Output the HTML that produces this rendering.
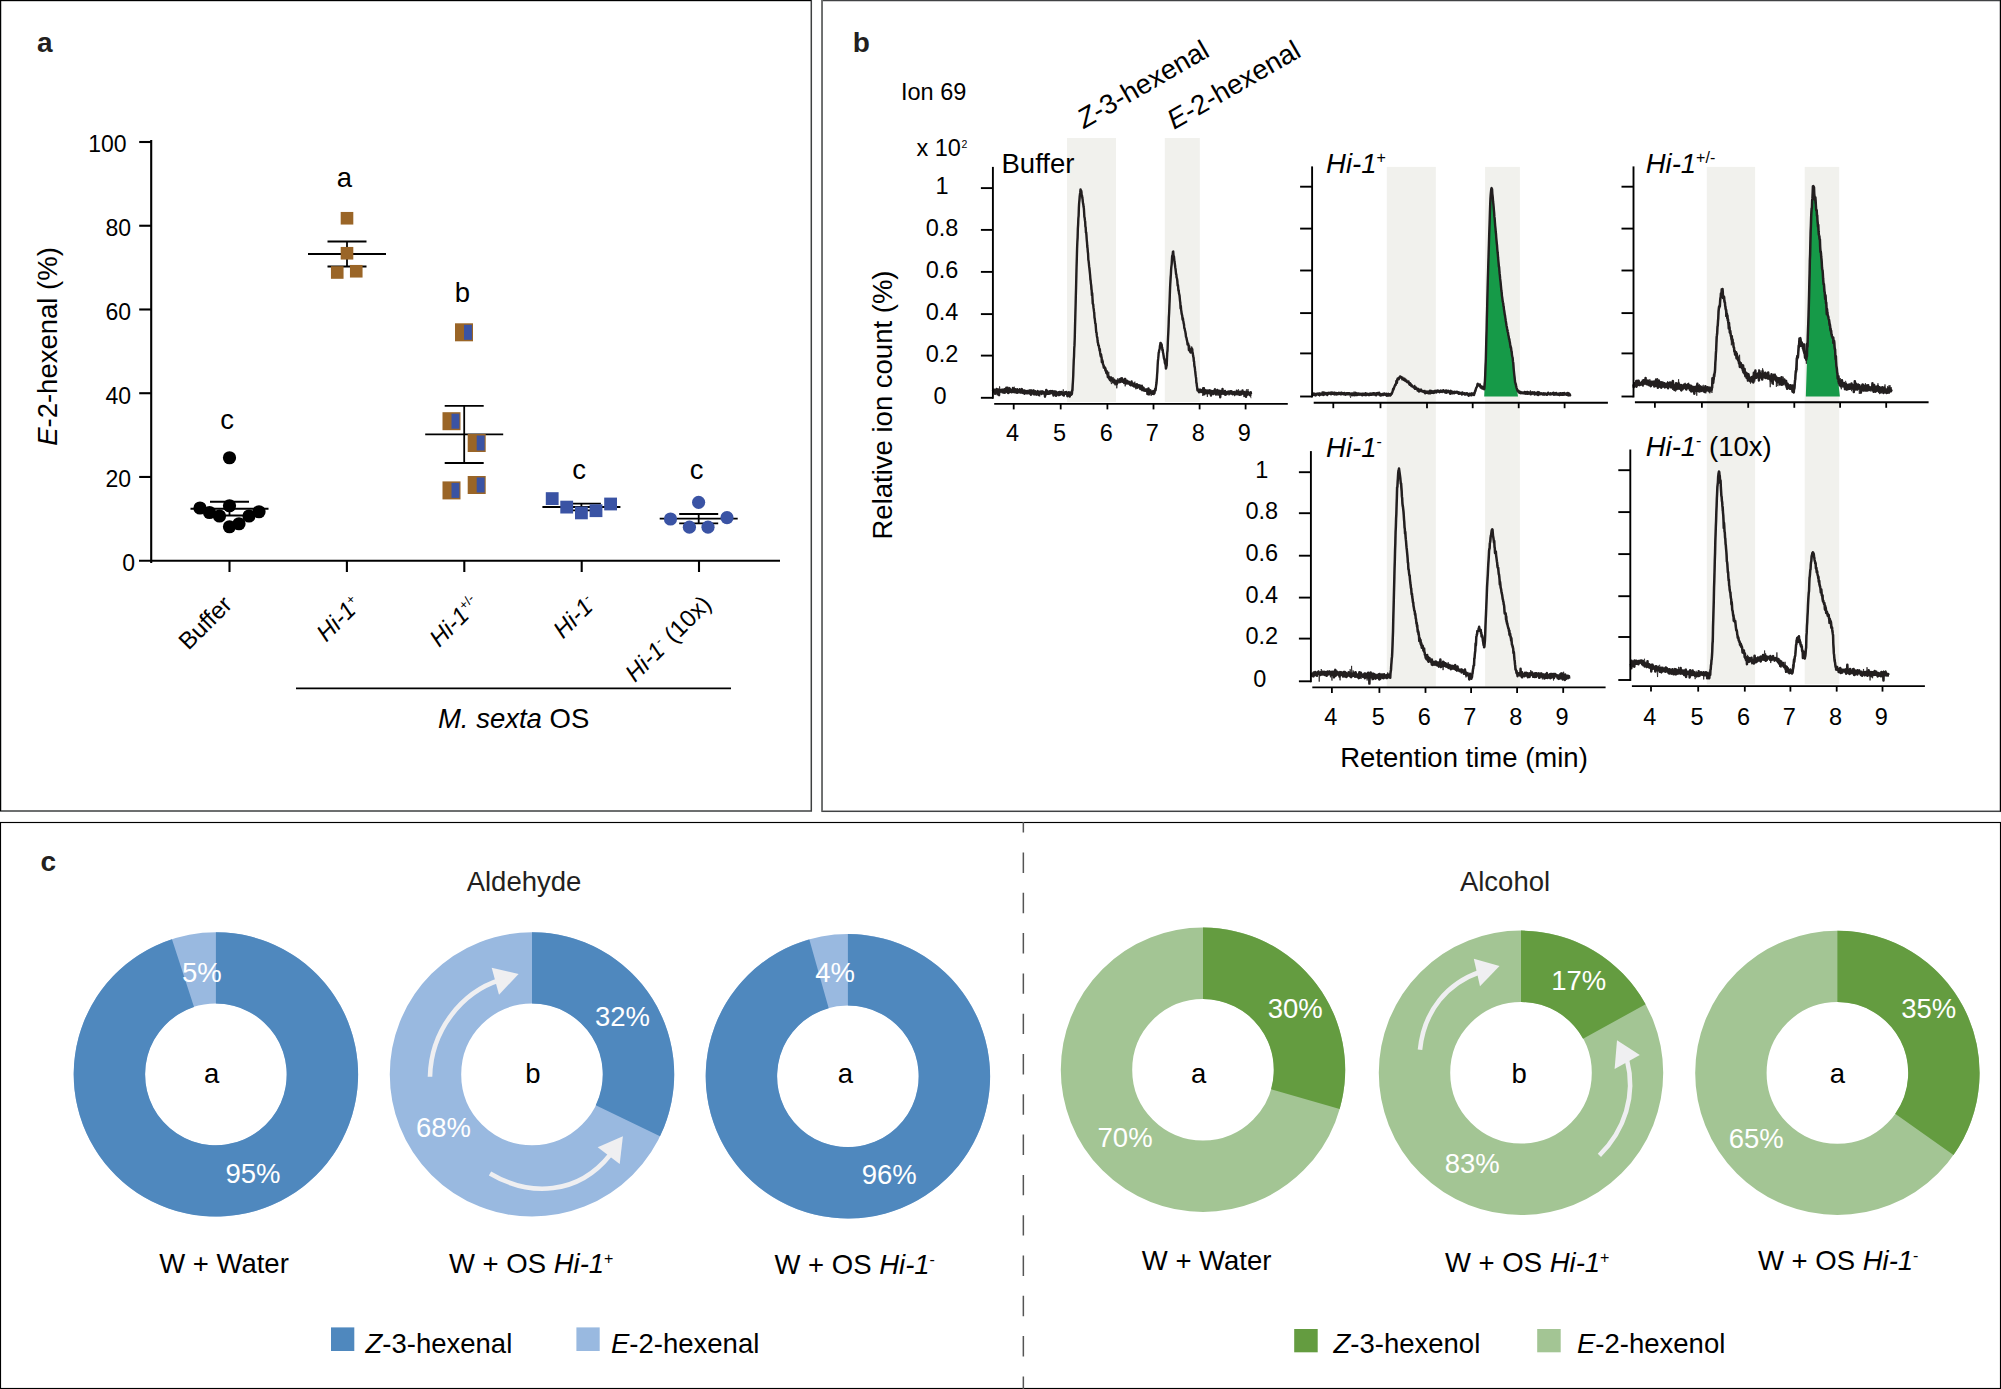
<!DOCTYPE html>
<html lang="en"><head><meta charset="utf-8"><title>Figure</title>
<style>html,body{margin:0;padding:0;background:#fff}svg{display:block}text{font-family:"Liberation Sans", sans-serif}</style>
</head><body>
<svg width="2001" height="1389" viewBox="0 0 2001 1389">
<rect x="0" y="0" width="2001" height="1389" fill="#fff"/>
<g fill="none" stroke-width="1.5">
<rect x="0.5" y="0.5" width="810.8" height="810.5" stroke="#3e4041"/>
<rect x="822.1" y="0.5" width="1178.4" height="810.8" stroke="#404244"/>
<path d="M822.1,0 V811.3" stroke="#6f7170" stroke-width="1.6"/>
<path d="M0.5,811 V0.5 H811" stroke="#000" stroke-width="1.1"/>
<path d="M2000.5,0 V811.5" stroke="#000" stroke-width="1.1"/>
<rect x="0.5" y="822.5" width="2000" height="566" stroke="#000" stroke-width="1.15"/>
</g>
<g id="panel-a">
<text x="36.9" y="52" font-size="28" fill="#231f20" font-weight="bold">a</text>
<line x1="151.2" y1="140" x2="151.2" y2="562.9" stroke="#000" stroke-width="2.1"/>
<line x1="139" y1="560.7" x2="780" y2="560.7" stroke="#000" stroke-width="2.1"/>
<line x1="139.2" y1="476.96" x2="151.2" y2="476.96" stroke="#000" stroke-width="2.1"/>
<line x1="139.2" y1="393.22" x2="151.2" y2="393.22" stroke="#000" stroke-width="2.1"/>
<line x1="139.2" y1="309.48" x2="151.2" y2="309.48" stroke="#000" stroke-width="2.1"/>
<line x1="139.2" y1="225.74" x2="151.2" y2="225.74" stroke="#000" stroke-width="2.1"/>
<line x1="139.2" y1="142" x2="151.2" y2="142" stroke="#000" stroke-width="2.1"/>
<text x="126.5" y="152.3" font-size="23" text-anchor="end">100</text>
<text x="131" y="236.04" font-size="23" text-anchor="end">80</text>
<text x="131" y="319.78" font-size="23" text-anchor="end">60</text>
<text x="131" y="403.52" font-size="23" text-anchor="end">40</text>
<text x="131" y="487.26" font-size="23" text-anchor="end">20</text>
<text x="135" y="571" font-size="23" text-anchor="end">0</text>
<line x1="229.5" y1="560.7" x2="229.5" y2="572" stroke="#000" stroke-width="2.1"/>
<line x1="346.9" y1="560.7" x2="346.9" y2="572" stroke="#000" stroke-width="2.1"/>
<line x1="464.3" y1="560.7" x2="464.3" y2="572" stroke="#000" stroke-width="2.1"/>
<line x1="581.7" y1="560.7" x2="581.7" y2="572" stroke="#000" stroke-width="2.1"/>
<line x1="699" y1="560.7" x2="699" y2="572" stroke="#000" stroke-width="2.1"/>
<text x="57.3" y="346.5" font-size="27.5" text-anchor="middle" transform="rotate(-90 57.3 346.5)"><tspan font-style="italic">E</tspan>-2-hexenal (%)</text>
<line x1="190.5" y1="508.75" x2="268.5" y2="508.75" stroke="#000" stroke-width="1.8"/>
<line x1="210" y1="501.75" x2="249" y2="501.75" stroke="#000" stroke-width="1.8"/>
<line x1="210" y1="515.5" x2="249" y2="515.5" stroke="#000" stroke-width="1.8"/>
<line x1="229.5" y1="501.75" x2="229.5" y2="515.5" stroke="#000" stroke-width="1.8"/>
<circle cx="229.5" cy="457.75" r="6.6" fill="#000"/>
<circle cx="200" cy="508" r="6.6" fill="#000"/>
<circle cx="209.5" cy="512.5" r="6.6" fill="#000"/>
<circle cx="219.5" cy="516" r="6.6" fill="#000"/>
<circle cx="229.5" cy="505.75" r="6.6" fill="#000"/>
<circle cx="229.5" cy="526.75" r="6.6" fill="#000"/>
<circle cx="239" cy="523.75" r="6.6" fill="#000"/>
<circle cx="249" cy="516" r="6.6" fill="#000"/>
<circle cx="259" cy="511.75" r="6.6" fill="#000"/>
<text x="227" y="429" font-size="27.5" text-anchor="middle">c</text>
<line x1="308" y1="254" x2="386" y2="254" stroke="#000" stroke-width="1.8"/>
<line x1="327.5" y1="241.5" x2="366.5" y2="241.5" stroke="#000" stroke-width="1.8"/>
<line x1="327.5" y1="266.5" x2="366.5" y2="266.5" stroke="#000" stroke-width="1.8"/>
<line x1="347" y1="241.5" x2="347" y2="266.5" stroke="#000" stroke-width="1.8"/>
<rect x="340.7" y="211.95" width="12.6" height="12.6" fill="#9a6527"/>
<rect x="340.7" y="246.95" width="12.6" height="12.6" fill="#9a6527"/>
<rect x="330.95" y="266.2" width="12.6" height="12.6" fill="#9a6527"/>
<rect x="349.95" y="264.95" width="12.6" height="12.6" fill="#9a6527"/>
<text x="344.5" y="187" font-size="27.5" text-anchor="middle">a</text>
<line x1="425.2" y1="434.4" x2="503.2" y2="434.4" stroke="#000" stroke-width="1.8"/>
<line x1="444.7" y1="405.8" x2="483.7" y2="405.8" stroke="#000" stroke-width="1.8"/>
<line x1="444.7" y1="463" x2="483.7" y2="463" stroke="#000" stroke-width="1.8"/>
<line x1="464.2" y1="405.8" x2="464.2" y2="463" stroke="#000" stroke-width="1.8"/>
<rect x="455" y="323.3" width="18" height="18" fill="#9a6527"/>
<rect x="464" y="324.8" width="7.9" height="15" fill="#3a53a4"/>
<rect x="442.5" y="412.2" width="18" height="18" fill="#9a6527"/>
<rect x="451.5" y="413.7" width="7.9" height="15" fill="#3a53a4"/>
<rect x="467.7" y="434" width="18" height="18" fill="#9a6527"/>
<rect x="476.7" y="435.5" width="7.9" height="15" fill="#3a53a4"/>
<rect x="442.5" y="481.4" width="18" height="18" fill="#9a6527"/>
<rect x="451.5" y="482.9" width="7.9" height="15" fill="#3a53a4"/>
<rect x="467.7" y="476" width="18" height="18" fill="#9a6527"/>
<rect x="476.7" y="477.5" width="7.9" height="15" fill="#3a53a4"/>
<text x="462.5" y="302.3" font-size="27.5" text-anchor="middle">b</text>
<line x1="542.4" y1="507" x2="620.4" y2="507" stroke="#000" stroke-width="1.8"/>
<line x1="561.9" y1="503.6" x2="600.9" y2="503.6" stroke="#000" stroke-width="1.8"/>
<line x1="561.9" y1="510.4" x2="600.9" y2="510.4" stroke="#000" stroke-width="1.8"/>
<line x1="581.4" y1="503.6" x2="581.4" y2="510.4" stroke="#000" stroke-width="1.8"/>
<rect x="545.8" y="492.2" width="12.8" height="12.8" fill="#3a53a4"/>
<rect x="560.3" y="500.7" width="12.8" height="12.8" fill="#3a53a4"/>
<rect x="575" y="506.5" width="12.8" height="12.8" fill="#3a53a4"/>
<rect x="589.6" y="504.3" width="12.8" height="12.8" fill="#3a53a4"/>
<rect x="604.2" y="497.6" width="12.8" height="12.8" fill="#3a53a4"/>
<text x="579" y="479" font-size="27.5" text-anchor="middle">c</text>
<line x1="659.7" y1="518.6" x2="737.7" y2="518.6" stroke="#000" stroke-width="1.8"/>
<line x1="679.2" y1="514" x2="718.2" y2="514" stroke="#000" stroke-width="1.8"/>
<line x1="679.2" y1="523.4" x2="718.2" y2="523.4" stroke="#000" stroke-width="1.8"/>
<line x1="698.7" y1="514" x2="698.7" y2="523.4" stroke="#000" stroke-width="1.8"/>
<circle cx="698.6" cy="502.3" r="6.6" fill="#3a53a4"/>
<circle cx="670.5" cy="519" r="6.6" fill="#3a53a4"/>
<circle cx="727" cy="517.7" r="6.6" fill="#3a53a4"/>
<circle cx="689.4" cy="527.2" r="6.6" fill="#3a53a4"/>
<circle cx="708" cy="527.2" r="6.6" fill="#3a53a4"/>
<text x="696.6" y="479" font-size="27.5" text-anchor="middle">c</text>
<text x="233.4" y="606.1" font-size="24" text-anchor="end" transform="rotate(-45 233.4 606.1)">Buffer</text>
<text x="362.7" y="606.3" font-size="24" text-anchor="end" transform="rotate(-45 362.7 606.3)"><tspan font-style="italic">Hi-1</tspan><tspan font-size="13" dy="-9">+</tspan></text>
<text x="481.4" y="605.9" font-size="24" text-anchor="end" transform="rotate(-45 481.4 605.9)"><tspan font-style="italic">Hi-1</tspan><tspan font-size="13" dy="-9">+/-</tspan></text>
<text x="597.2" y="605.2" font-size="24" text-anchor="end" transform="rotate(-45 597.2 605.2)"><tspan font-style="italic">Hi-1</tspan><tspan font-size="13" dy="-9">-</tspan></text>
<text x="712.6" y="605.5" font-size="24" text-anchor="end" transform="rotate(-45 712.6 605.5)"><tspan font-style="italic">Hi-1</tspan><tspan font-size="13" dy="-9">-</tspan><tspan font-size="24" dy="9"> (10x)</tspan></text>
<line x1="296" y1="688.3" x2="731" y2="688.3" stroke="#000" stroke-width="1.8"/>
<text x="513.6" y="727.5" font-size="27.5" text-anchor="middle"><tspan font-style="italic">M. sexta</tspan> OS</text>
</g>
<g id="panel-b">
<text x="852.8" y="52" font-size="28" fill="#231f20" font-weight="bold">b</text>
<text x="901" y="100" font-size="23.5">Ion 69</text>
<text x="916.5" y="155.5" font-size="23.5">x 10</text>
<text x="961.6" y="147.7" font-size="10.5">2</text>
<text x="891.8" y="405" font-size="27.5" text-anchor="middle" transform="rotate(-90 891.8 405)">Relative ion count (%)</text>
<text x="1464" y="767" font-size="27.5" text-anchor="middle">Retention time (min)</text>
<text x="1084" y="129" font-size="27.5" transform="rotate(-30 1084 129)"><tspan font-style="italic">Z</tspan>-3-hexenal</text>
<text x="1174" y="130" font-size="27.5" transform="rotate(-30 1174 130)"><tspan font-style="italic">E</tspan>-2-hexenal</text>
<g fill="#f1f1ed">
<rect x="1067" y="138" width="49" height="264"/>
<rect x="1164.8" y="138" width="35" height="264"/>
<rect x="1386.8" y="166.9" width="49" height="519.6"/>
<rect x="1485.1" y="166.9" width="34.8" height="519.6"/>
<rect x="1706.8" y="166.9" width="48.3" height="517.4"/>
<rect x="1804.7" y="166.9" width="34.5" height="517.4"/>
</g>
<polyline points="993,389.84 993.26,391.59 993.51,389.7 993.76,391.07 994.02,389.78 994.27,389.67 994.52,392.76 994.78,392.13 995.03,393.85 995.28,390.68 995.54,391.08 995.79,391.12 996.04,391.59 996.3,391.67 996.55,388.92 996.8,391.64 997.06,389.22 997.31,390.82 997.56,394.42 997.82,390.72 998.07,390.43 998.32,391.45 998.58,390.82 998.83,389.57 999.08,395.19 999.34,390.08 999.59,391.66 999.84,389.92 1000.1,391.95 1000.35,391.23 1000.6,391.36 1000.86,391.01 1001.11,391.08 1001.36,391.01 1001.62,390.63 1001.87,389.74 1002.12,391.03 1002.38,392.02 1002.63,391.19 1002.88,391.08 1003.14,392.24 1003.39,389.9 1003.65,390.51 1003.9,391.29 1004.15,392.87 1004.41,392.13 1004.66,390.29 1004.91,389.15 1005.17,391.33 1005.42,390.87 1005.67,389.25 1005.92,390.96 1006.17,388.14 1006.42,389.14 1006.67,391.86 1006.92,389.08 1007.17,390.03 1007.43,387.63 1007.68,391.36 1007.93,389.27 1008.18,393.05 1008.43,391.01 1008.68,390.27 1008.93,392.43 1009.18,391.2 1009.43,392 1009.68,388.45 1009.93,389.7 1010.18,391.93 1010.43,390.16 1010.68,390.19 1010.93,390.71 1011.18,390.08 1011.43,390.38 1011.68,392.25 1011.93,390.49 1012.18,391.12 1012.43,390.96 1012.68,388.88 1012.93,388.09 1013.18,389.04 1013.43,391.03 1013.68,392.09 1013.94,391.51 1014.19,390.77 1014.44,389.22 1014.69,389.96 1014.94,392.32 1015.19,389.32 1015.44,392 1015.69,390.29 1015.94,390.32 1016.19,392.48 1016.44,391.89 1016.69,391.01 1016.94,390.1 1017.19,389.25 1017.44,392 1017.69,392.72 1017.94,391.56 1018.19,390.9 1018.44,390.11 1018.69,391.35 1018.94,391.55 1019.19,391.61 1019.44,392.08 1019.69,389.29 1019.94,392.31 1020.2,391.88 1020.45,392.64 1020.7,392.35 1020.95,390.84 1021.2,392.45 1021.45,392.61 1021.7,391.01 1021.95,389.07 1022.2,390.87 1022.45,392 1022.7,390.86 1022.95,390.87 1023.2,393.01 1023.45,391.54 1023.7,392.08 1023.95,391.66 1024.2,390.36 1024.45,393.75 1024.7,391.72 1024.95,392.05 1025.2,392.23 1025.45,392.3 1025.7,390.96 1025.95,390.92 1026.2,391.82 1026.45,391.46 1026.71,393.4 1026.96,392.27 1027.21,392.07 1027.46,393.24 1027.71,390.87 1027.96,391.07 1028.21,392.7 1028.46,392.07 1028.71,393.18 1028.96,393.25 1029.21,391.36 1029.46,393.38 1029.71,393.55 1029.96,391.98 1030.21,392.05 1030.46,390.42 1030.71,392.97 1030.96,394.73 1031.21,390.55 1031.46,392 1031.71,393.09 1031.96,391.67 1032.21,390.69 1032.46,391.2 1032.71,392.64 1032.97,392.13 1033.22,391.52 1033.47,394.19 1033.72,390.77 1033.97,392.35 1034.22,393.75 1034.47,392.12 1034.72,392.8 1034.97,393.89 1035.22,391.72 1035.47,391.56 1035.72,392.19 1035.97,393.6 1036.22,393.17 1036.47,394.69 1036.72,391.97 1036.97,392.31 1037.22,392.44 1037.47,392.49 1037.72,391.06 1037.97,393.83 1038.22,392.53 1038.47,392.31 1038.72,395.1 1038.97,392.04 1039.23,393.53 1039.48,393.56 1039.73,391.78 1039.98,392.88 1040.23,393.26 1040.48,392.18 1040.73,393.03 1040.98,393.51 1041.23,391.84 1041.48,393.99 1041.73,393.74 1041.98,393.72 1042.23,391.65 1042.48,392.6 1042.73,392.19 1042.98,392.72 1043.23,391.97 1043.48,391.82 1043.73,393.36 1043.98,392.24 1044.23,393.66 1044.48,392.34 1044.73,393.68 1044.98,396.76 1045.23,393.03 1045.48,394.69 1045.74,393.5 1045.99,391.94 1046.24,389.93 1046.49,393.91 1046.74,391.96 1046.99,390.76 1047.24,391.13 1047.49,392.92 1047.74,393.15 1047.99,393.86 1048.24,391.76 1048.49,392.6 1048.74,393.33 1048.99,393.72 1049.24,393.49 1049.49,392.84 1049.74,391.24 1049.99,393.51 1050.24,391.92 1050.49,392.84 1050.74,392.45 1050.99,391.08 1051.24,393.04 1051.49,392 1051.74,392.94 1052,393.12 1052.25,392.53 1052.5,391.06 1052.75,392.11 1053,392.41 1053.25,393.05 1053.5,395.6 1053.75,393.64 1054,392.17 1054.25,392.57 1054.5,391.45 1054.75,393.16 1055,392.82 1055.25,394.27 1055.5,393.32 1055.75,393.56 1056,395.9 1056.25,392.51 1056.5,392.08 1056.75,394.87 1057,393.3 1057.25,393.55 1057.5,393.29 1057.75,393.28 1058,394.45 1058.25,392.99 1058.51,393.71 1058.76,392.12 1059.01,392.97 1059.26,394.95 1059.51,393.34 1059.76,391.88 1060.01,392.34 1060.26,394.08 1060.51,394.47 1060.76,393.14 1061.01,393.19 1061.26,391.98 1061.51,393.21 1061.76,392.67 1062.01,392.3 1062.26,393.43 1062.51,393.66 1062.76,394.52 1063.01,395.04 1063.26,393.5 1063.52,393.16 1063.77,395.65 1064.03,394.58 1064.29,394.32 1064.54,393.37 1064.8,393.3 1065.05,392.29 1065.31,393.08 1065.57,393.18 1065.82,393.62 1066.08,393.86 1066.33,391.98 1066.59,394.09 1066.85,392.51 1067.1,392.95 1067.36,396.23 1067.61,393.47 1067.87,395.27 1068.13,395.04 1068.38,392.96 1068.64,394.19 1068.89,392.21 1069.15,392.66 1069.41,393.53 1069.66,396.58 1069.92,393.89 1070.17,393.61 1070.43,393.15 1070.69,393.15 1070.94,394.93 1071.2,394.37 1071.45,392.63 1071.71,394.41 1071.97,393.44 1072.22,390.18 1072.48,390.39 1072.73,384.71 1072.99,380.47 1073.25,375.47 1073.5,367.06 1073.76,360.08 1074.01,356.59 1074.27,348.03 1074.52,345.39 1074.78,337.05 1075.04,326 1075.29,317.25 1075.55,307.58 1075.8,296.84 1076.06,287.85 1076.32,277.26 1076.57,266.43 1076.83,257.89 1077.08,248.63 1077.34,242.09 1077.6,237.61 1077.85,228.68 1078.11,224.89 1078.36,218.32 1078.62,215.97 1078.88,207.52 1079.13,203 1079.39,200.33 1079.68,196.5 1079.96,194.43 1080.25,192.24 1080.54,189.43 1080.8,191.93 1081.05,190.44 1081.31,190.96 1081.56,193.22 1081.82,195.02 1082.08,195.79 1082.33,197.84 1082.59,199.21 1082.84,202.12 1083.1,203.62 1083.36,204.64 1083.61,207.02 1083.87,208.39 1084.12,212.55 1084.38,216.98 1084.64,217.6 1084.89,220.23 1085.15,221.51 1085.41,226.69 1085.68,227.27 1085.94,232.71 1086.21,232.39 1086.48,235.51 1086.74,239.8 1087.01,242.35 1087.27,246.02 1087.54,248.09 1087.81,251.87 1088.07,253.47 1088.34,259.82 1088.6,260.93 1088.86,263.46 1089.11,266.15 1089.37,268.05 1089.63,270.65 1089.88,272.82 1090.14,275.42 1090.39,279.56 1090.65,280.73 1090.91,283.76 1091.16,284.97 1091.42,289.34 1091.67,290.47 1091.93,295.47 1092.19,293.1 1092.44,297.49 1092.7,303.4 1092.95,304.13 1093.21,304.36 1093.47,307.69 1093.72,309.09 1093.98,311.44 1094.23,312.81 1094.49,317.63 1094.75,318.61 1095,320.85 1095.26,323.26 1095.51,323.43 1095.77,326.31 1096.03,329.85 1096.28,332.59 1096.54,332.61 1096.79,335.4 1097.05,337.12 1097.31,337.51 1097.56,340.73 1097.82,342.79 1098.07,342.89 1098.32,345.25 1098.57,345.6 1098.82,345.55 1099.07,347.48 1099.32,348.49 1099.57,350.72 1099.82,349.14 1100.07,352.2 1100.32,353.72 1100.57,354.53 1100.82,356.54 1101.07,354.45 1101.32,356.65 1101.57,357.07 1101.82,362.25 1102.07,360.08 1102.32,360.18 1102.57,361.26 1102.82,362.57 1103.08,364.82 1103.33,364.75 1103.58,366.33 1103.83,367.66 1104.08,366.49 1104.33,367.75 1104.58,367.64 1104.83,367.87 1105.08,367.62 1105.33,370.49 1105.58,369.02 1105.83,371.14 1106.08,371.85 1106.33,372.95 1106.58,371.92 1106.83,373.25 1107.08,371.55 1107.33,373.97 1107.58,374.78 1107.83,377.16 1108.08,375.56 1108.33,377.31 1108.58,377 1108.83,378.28 1109.08,378.57 1109.34,378.97 1109.59,377.24 1109.85,379.93 1110.1,378.13 1110.36,380.14 1110.61,380.53 1110.87,378.86 1111.13,377.39 1111.38,379.05 1111.64,379.17 1111.89,378.31 1112.15,379.16 1112.41,379.29 1112.66,381.14 1112.92,381.9 1113.17,382.25 1113.43,379.79 1113.69,380.4 1113.94,381.46 1114.2,379.61 1114.45,380.54 1114.71,383.5 1114.97,381.7 1115.22,380.87 1115.48,382.29 1115.73,381.88 1115.99,381.31 1116.25,381.09 1116.5,380.8 1116.76,384.05 1117.01,382.17 1117.27,382.9 1117.53,381.04 1117.78,381.3 1118.04,380.62 1118.29,380.55 1118.55,381.09 1118.81,380.77 1119.06,380.13 1119.32,381.39 1119.57,381.2 1119.83,379.2 1120.09,382.11 1120.34,379.06 1120.6,378.65 1120.85,379.8 1121.11,378.53 1121.37,381.61 1121.62,380.2 1121.88,378.16 1122.13,380.44 1122.39,379.42 1122.64,381.14 1122.9,381.1 1123.16,381.87 1123.41,380.85 1123.67,380 1123.92,381.53 1124.18,383.04 1124.44,379.21 1124.69,379.09 1124.95,381.9 1125.2,378.9 1125.46,380.22 1125.72,382.28 1125.97,383.53 1126.23,381.57 1126.48,382.58 1126.74,383.36 1127,380.64 1127.25,381.36 1127.51,381.94 1127.76,381.77 1128.02,383.55 1128.28,381.72 1128.53,382.7 1128.79,383.26 1129.04,382.36 1129.3,382.25 1129.56,383.15 1129.81,383.61 1130.07,384.75 1130.32,383.87 1130.58,383.65 1130.84,385.41 1131.09,382.42 1131.35,382.97 1131.6,381.51 1131.86,384.23 1132.12,385.11 1132.37,384.63 1132.62,385.13 1132.87,383.37 1133.12,385.76 1133.37,384.82 1133.62,385.72 1133.87,384.63 1134.12,386.55 1134.37,383.84 1134.62,385.69 1134.88,384.57 1135.13,384.87 1135.38,386.27 1135.63,386.07 1135.88,385.45 1136.13,387.16 1136.38,386.19 1136.63,385.98 1136.88,384.2 1137.13,387.88 1137.38,384.81 1137.63,385.86 1137.88,386.77 1138.13,385.3 1138.38,386.17 1138.63,385.58 1138.88,387.02 1139.13,386.35 1139.38,385.34 1139.63,387.89 1139.88,387.42 1140.13,388.67 1140.38,387.21 1140.63,387.6 1140.88,385.7 1141.14,386.82 1141.39,389.18 1141.64,388.15 1141.89,387.94 1142.14,390.17 1142.39,387.05 1142.64,387.83 1142.89,389.08 1143.14,389.36 1143.39,387.73 1143.64,387.88 1143.89,390.64 1144.14,390.1 1144.4,390.03 1144.65,390.66 1144.9,390.4 1145.15,389.89 1145.41,389.9 1145.66,389.63 1145.91,390.42 1146.16,389.86 1146.42,390.82 1146.67,390.34 1146.92,389.53 1147.18,390.94 1147.43,394.06 1147.68,391.37 1147.93,390.81 1148.19,391.65 1148.44,388.45 1148.69,391.65 1148.95,394.45 1149.2,391.09 1149.45,391.15 1149.7,391.18 1149.96,392.57 1150.21,390.61 1150.46,390.17 1150.72,393.26 1150.97,392.27 1151.22,393.16 1151.47,392.66 1151.73,393.02 1151.98,392.07 1152.23,393.73 1152.49,393.21 1152.74,392.27 1152.99,392.57 1153.24,390.92 1153.5,393.53 1153.75,394.07 1154,392.98 1154.26,391.98 1154.51,393.22 1154.77,391.06 1155.02,390.63 1155.28,389.29 1155.54,390.37 1155.79,388.51 1156.05,385.98 1156.3,384.56 1156.56,382.76 1156.83,379.33 1157.1,374.64 1157.37,371.54 1157.63,365.64 1157.9,361.05 1158.17,358.93 1158.43,356.29 1158.68,352.62 1158.93,352.56 1159.19,350.12 1159.44,349.8 1159.69,348.79 1159.95,345.93 1160.2,345.04 1160.45,342.97 1160.71,343.01 1160.96,344.4 1161.21,343.96 1161.46,344.04 1161.71,344.86 1161.96,347.54 1162.21,347.67 1162.46,350.63 1162.72,349.69 1162.97,352.64 1163.22,353.22 1163.47,354.99 1163.74,356.72 1164.01,358.46 1164.29,358.68 1164.56,359.99 1164.83,362.71 1165.1,363.58 1165.38,363.55 1165.65,365.44 1165.92,368.55 1166.19,367.79 1166.46,366.25 1166.73,365.36 1167,357.68 1167.27,352.54 1167.54,350.74 1167.81,342.73 1168.08,336.64 1168.33,332.23 1168.59,326.21 1168.85,317.4 1169.1,313.49 1169.36,307.22 1169.61,300.45 1169.87,293.34 1170.12,286.87 1170.38,281.67 1170.64,277.13 1170.89,274.23 1171.15,268.8 1171.4,266.35 1171.66,264.33 1171.92,259.71 1172.17,255.77 1172.43,255.62 1172.68,254.61 1172.94,251.76 1173.2,251.45 1173.45,254.61 1173.71,256.18 1173.96,256.5 1174.22,259.21 1174.48,261.8 1174.73,263.29 1174.99,264.84 1175.25,267.43 1175.52,269.19 1175.79,271.51 1176.05,274.19 1176.32,274.22 1176.58,277.51 1176.85,277.98 1177.11,279.28 1177.38,281.12 1177.65,285.61 1177.91,284.9 1178.18,287.43 1178.44,290.81 1178.71,290.07 1178.98,293.36 1179.24,294.16 1179.51,295.4 1179.77,298.26 1180.04,301.11 1180.3,302.43 1180.57,308.46 1180.84,306.05 1181.1,309.58 1181.37,311.51 1181.63,313.66 1181.9,314.74 1182.15,315.12 1182.41,317.41 1182.67,319.68 1182.92,318.31 1183.18,320.2 1183.43,321.61 1183.69,323.67 1183.95,324.13 1184.2,326.94 1184.46,328.45 1184.71,328.71 1184.97,330.64 1185.23,331.27 1185.48,332.86 1185.74,334.56 1185.99,336.92 1186.25,337.28 1186.51,338.22 1186.77,339.86 1187.04,340.68 1187.3,342.07 1187.57,344.59 1187.84,343.93 1188.1,343.57 1188.37,344.82 1188.63,345.45 1188.9,350.13 1189.16,346.2 1189.43,349.69 1189.7,350.04 1189.96,351.57 1190.22,351.82 1190.47,350.46 1190.73,352.51 1190.99,351.18 1191.24,350.73 1191.5,350.98 1191.75,348.52 1192.01,351.29 1192.27,349.31 1192.52,353.01 1192.78,352.98 1193.03,355.32 1193.29,356.78 1193.55,357.9 1193.8,361.18 1194.06,361.25 1194.31,365.36 1194.57,366.98 1194.82,367.73 1195.08,370.44 1195.34,372.02 1195.59,374.79 1195.85,376.76 1196.1,378.18 1196.36,382.94 1196.62,383.14 1196.87,386.08 1197.13,387.39 1197.38,389.8 1197.64,390.67 1197.9,390.7 1198.15,389.37 1198.41,390.78 1198.66,389.94 1198.92,392.24 1199.18,391.33 1199.43,392.08 1199.68,390.54 1199.93,390.47 1200.18,389.58 1200.43,389.78 1200.68,389.91 1200.94,391.31 1201.19,390.93 1201.44,390.27 1201.69,390.82 1201.94,391.97 1202.19,391.18 1202.44,391.45 1202.69,390.27 1202.95,390.7 1203.2,388.15 1203.45,392.24 1203.7,391.31 1203.95,388.3 1204.2,393.96 1204.45,394.04 1204.7,392.52 1204.96,390.35 1205.21,392.1 1205.46,390.47 1205.71,392.94 1205.96,390.51 1206.21,390.49 1206.46,392.2 1206.72,391.54 1206.97,393.41 1207.22,392.17 1207.47,390.66 1207.72,393.08 1207.97,390.45 1208.22,392.15 1208.47,391.38 1208.73,392.99 1208.98,392.26 1209.23,392.56 1209.48,392.54 1209.73,390.33 1209.98,390.52 1210.23,392.55 1210.48,393.64 1210.74,392.71 1210.99,395.59 1211.24,391.7 1211.49,393.04 1211.74,390.9 1211.99,391.25 1212.24,391.87 1212.5,391.16 1212.75,393.74 1213,391.81 1213.25,394.05 1213.5,392.32 1213.75,391.97 1214,393.44 1214.25,390.58 1214.5,393.33 1214.75,389.79 1215,392.31 1215.25,392.56 1215.5,393.88 1215.75,391.95 1216,394.55 1216.25,393.46 1216.5,392.03 1216.75,392.09 1217,392.61 1217.25,389.94 1217.5,393.49 1217.75,392.12 1218,391.78 1218.25,393.18 1218.5,392.02 1218.75,393.45 1219,390.61 1219.25,394.45 1219.5,393.93 1219.75,391.32 1220,393.82 1220.25,397.32 1220.5,390.98 1220.75,391.57 1221,392.8 1221.25,391.89 1221.5,391.3 1221.75,393.73 1222,392.58 1222.25,391.48 1222.5,389 1222.75,391.35 1223,393.6 1223.25,392.94 1223.5,393.7 1223.75,392.66 1224,392.24 1224.25,391.41 1224.5,391.44 1224.75,392.49 1225,390.84 1225.25,394.9 1225.5,392.96 1225.75,393.76 1226,392.91 1226.25,394.25 1226.5,394.02 1226.75,393.79 1227,393.79 1227.25,391.88 1227.5,392.73 1227.75,392.49 1228,393 1228.25,391.68 1228.5,392.39 1228.75,393.21 1229,392.33 1229.25,391.59 1229.5,393.7 1229.75,392.73 1230,392.96 1230.25,392.71 1230.5,391.16 1230.75,393.42 1231,393 1231.25,391.59 1231.5,391.25 1231.75,393.68 1232,393.34 1232.25,392.34 1232.5,394.07 1232.75,394.3 1233,392.5 1233.25,392.24 1233.5,393.55 1233.75,392.2 1234,393.86 1234.25,391.91 1234.5,393.52 1234.75,394.27 1235,393.54 1235.25,393.12 1235.5,393.54 1235.75,392.26 1236,393.14 1236.25,394.19 1236.5,393.21 1236.75,390.75 1237,391.54 1237.25,392.46 1237.5,393.79 1237.75,392.6 1238,394.3 1238.25,393.58 1238.5,393.29 1238.75,393.47 1239,392.04 1239.25,392.79 1239.5,394.78 1239.75,393.65 1240,392.32 1240.25,393.56 1240.5,391.66 1240.75,394.67 1241,393.67 1241.26,393.07 1241.51,393.05 1241.76,393.13 1242.01,393.18 1242.26,391.9 1242.51,390.4 1242.76,393.49 1243.01,392.11 1243.26,392.16 1243.51,393.67 1243.76,393.25 1244.01,392.88 1244.26,392.61 1244.51,392.12 1244.76,392.32 1245.01,395.87 1245.26,393.61 1245.51,394.45 1245.76,394.95 1246.01,396.81 1246.26,392.39 1246.51,393.82 1246.76,391.7 1247.01,393.46 1247.26,394.83 1247.51,394.52 1247.76,393.71 1248.01,394.39 1248.26,392.31 1248.51,392.71 1248.76,394.01 1249.01,392.58 1249.26,394.43 1249.51,393.35 1249.76,393.35 1250.01,395.26 1250.26,395.38 1250.51,394.3 1250.76,392.11 1251.01,394.13" fill="none" stroke="#231f20" stroke-width="2.4" stroke-linejoin="round"/>
<polyline points="993,391.65 993.51,390.22 994.02,389.45 994.52,392.32 995.03,390.07 995.54,391.49 996.04,390.03 996.55,391.69 997.06,391.98 997.56,389.99 998.07,390.82 998.58,389.6 999.08,392.4 999.59,386.38 1000.1,389.55 1000.6,390.78 1001.11,391.08 1001.62,390.32 1002.12,393.35 1002.63,389.32 1003.14,388.56 1003.65,390.43 1004.15,389.21 1004.66,387.97 1005.17,392.05 1005.67,393.55 1006.17,386.63 1006.67,388.12 1007.17,389 1007.68,387.25 1008.18,388.56 1008.68,391.83 1009.18,386.93 1009.68,388.66 1010.18,392.85 1010.68,389.6 1011.18,390.46 1011.68,391.12 1012.18,391.12 1012.68,390.34 1013.18,389.25 1013.68,392.67 1014.19,386.7 1014.69,391.45 1015.19,391.84 1015.69,391.86 1016.19,393.03 1016.69,393.29 1017.19,392.17 1017.69,391.58 1018.19,391.66 1018.69,390.6 1019.19,390.81 1019.69,392.28 1020.2,390.29 1020.7,391.08 1021.2,390.2 1021.7,391.18 1022.2,389.65 1022.7,393.56 1023.2,389.84 1023.7,391.46 1024.2,392.07 1024.7,391.8 1025.2,394.07 1025.7,390.98 1026.2,390.18 1026.71,390.69 1027.21,391.42 1027.71,392.8 1028.21,393.63 1028.71,390.75 1029.21,389.25 1029.71,392.75 1030.21,392.08 1030.71,393 1031.21,391.78 1031.71,391.72 1032.21,392.49 1032.71,391.39 1033.22,391.12 1033.72,389.39 1034.22,393.68 1034.72,395.51 1035.22,390.03 1035.72,392.32 1036.22,393.77 1036.72,391.64 1037.22,393.13 1037.72,391.11 1038.22,391.16 1038.72,393.26 1039.23,393.19 1039.73,396.44 1040.23,392.57 1040.73,390.41 1041.23,390.46 1041.73,391.77 1042.23,390.25 1042.73,394.03 1043.23,392.82 1043.73,394.44 1044.23,392.06 1044.73,394.78 1045.23,394.43 1045.74,392.2 1046.24,395.23 1046.74,393.1 1047.24,393.08 1047.74,393.84 1048.24,394.9 1048.74,393.99 1049.24,394.03 1049.74,391.63 1050.24,393.9 1050.74,392.63 1051.24,392.41 1051.74,392.86 1052.25,392.88 1052.75,392.09 1053.25,395.06 1053.75,390.62 1054.25,394.74 1054.75,394.7 1055.25,392.85 1055.75,390.47 1056.25,391.68 1056.75,392.48 1057.25,393.42 1057.75,392.1 1058.25,396.27 1058.76,393.31 1059.26,394.55 1059.76,394.26 1060.26,393.48 1060.76,393.7 1061.26,394.41 1061.76,394.03 1062.26,394.08 1062.76,392.37 1063.26,389.39 1063.77,392.62 1064.29,394.45 1064.8,392.06 1065.31,391.79 1065.82,394.23 1066.33,393.38 1066.85,394.26 1067.36,393.92 1067.87,392.57 1068.38,396.14 1068.89,394.22 1069.41,394.24 1069.92,393.31 1070.43,396.45 1070.94,390.89 1071.45,392.96 1071.97,391.17 1072.48,383.53 1073.05,376.79 1073.63,365.37 1074.2,348.18 1074.78,333 1075.36,312.05 1075.93,288.93 1076.51,267 1077.08,252.25 1077.66,238.13 1078.24,222.4 1078.81,210.49 1079.39,204.09 1079.96,197.55 1080.54,191.39 1081.12,190.68 1081.69,193.21 1082.27,197.41 1082.84,201.99 1083.42,206.48 1084,210.3 1084.57,218.18 1085.15,221.96 1085.72,229.84 1086.3,234.96 1086.87,247.45 1087.45,247.35 1088.03,252.61 1088.6,262.81 1089.11,265.14 1089.63,267.64 1090.14,273.8 1090.65,278.67 1091.16,282.93 1091.67,286.31 1092.19,296.02 1092.7,299.41 1093.21,300.27 1093.72,309.9 1094.23,313.38 1094.75,319.13 1095.26,321.43 1095.77,324.52 1096.28,327.79 1096.79,334.57 1097.31,337.91 1097.82,341.71 1098.34,342.93 1098.86,347.22 1099.39,348.23 1099.91,354.43 1100.43,356.43 1100.96,355.1 1101.48,357.15 1102.01,357.67 1102.53,364.38 1103.05,361.59 1103.58,364.6 1104.1,364.95 1104.62,369.63 1105.15,368.74 1105.67,368.56 1106.19,372.41 1106.72,374.36 1107.24,373.46 1107.76,374.87 1108.29,374.41 1108.81,371.9 1109.34,379.12 1109.87,379.09 1110.4,377.96 1110.93,381.95 1111.46,384.08 1111.99,381.12 1112.52,379.42 1113.06,377.05 1113.59,379.87 1114.12,379.94 1114.65,382.34 1115.18,385.46 1115.71,382.93 1116.25,381.6 1116.78,388.3 1117.31,383.28 1117.84,378.21 1118.37,382.96 1118.9,383.53 1119.44,378.77 1119.97,380.36 1120.5,380.6 1121.03,381.17 1121.56,379.72 1122.09,382.08 1122.63,382.02 1123.16,382.94 1123.67,379.56 1124.18,381.37 1124.69,379.62 1125.2,386.35 1125.72,380.58 1126.23,381.33 1126.74,381.01 1127.25,381.93 1127.76,380.98 1128.28,381 1128.79,383.94 1129.3,380.84 1129.81,383.53 1130.32,383.46 1130.84,383.49 1131.35,382.27 1131.86,383.38 1132.37,384.64 1132.87,386.27 1133.37,385.15 1133.87,386.53 1134.37,383.15 1134.88,381.66 1135.38,387.61 1135.88,389.31 1136.38,385.98 1136.88,385.33 1137.38,386.88 1137.88,387.01 1138.38,385.38 1138.88,386.88 1139.38,387.37 1139.88,385.76 1140.38,390.12 1140.88,388.21 1141.39,388.19 1141.89,388.86 1142.39,384.8 1142.89,389.62 1143.39,388.21 1143.89,388.62 1144.41,389.03 1144.93,389.9 1145.44,391.81 1145.96,388.67 1146.48,389.61 1147,388.69 1147.52,391.3 1148.04,390.54 1148.55,387.99 1149.07,389.01 1149.59,392.51 1150.11,391.14 1150.63,390.6 1151.15,395.89 1151.66,392.18 1152.18,391.53 1152.7,390.86 1153.22,394.94 1153.74,392.33 1154.26,393.59 1154.83,387.91 1155.41,389.39 1155.98,384.97 1156.56,376.36 1157.1,374.2 1157.63,364.11 1158.17,362.66 1158.68,353.88 1159.19,352.41 1159.69,347.69 1160.2,344.65 1160.71,345.61 1161.26,345.31 1161.81,345.37 1162.36,349.82 1162.92,352.94 1163.47,353.85 1164.07,359.79 1164.67,361.1 1165.27,362.96 1165.87,368.33 1166.46,361.23 1167,355.55 1167.54,348.14 1168.08,335.27 1168.65,320.48 1169.23,307.34 1169.81,299.13 1170.38,285.97 1170.96,275.52 1171.53,265.47 1172.11,261.73 1172.68,258.51 1173.26,256.74 1173.84,257.83 1174.41,260.23 1174.99,264.97 1175.56,267.54 1176.14,272.33 1176.72,276.75 1177.29,282.93 1177.87,287.27 1178.44,289.72 1179.02,294.32 1179.6,295.54 1180.17,303.1 1180.75,307.5 1181.32,308.11 1181.9,314.35 1182.41,320.37 1182.92,317.63 1183.43,320.42 1183.95,324.48 1184.46,328.97 1184.97,328.89 1185.48,332.28 1185.99,332.93 1186.51,336.72 1187.08,339.63 1187.66,343.93 1188.23,345.13 1188.81,345.76 1189.39,350.43 1189.96,348.67 1190.54,349.66 1191.11,349.73 1191.69,346.43 1192.27,349.79 1192.84,354.44 1193.42,355.02 1193.99,357.34 1194.57,364.07 1195.14,372.27 1195.72,376.7 1196.3,379.62 1196.87,384.46 1197.45,387.26 1198.02,389.99 1198.6,391.23 1199.18,389.76 1199.69,391.75 1200.2,393.13 1200.71,392.05 1201.22,391.31 1201.74,392.28 1202.25,391.81 1202.76,395.95 1203.27,391.83 1203.78,395.44 1204.3,391.91 1204.81,390.8 1205.32,393.46 1205.83,392.6 1206.34,392.57 1206.85,391.56 1207.37,396.93 1207.88,392.52 1208.39,391.51 1208.9,393.04 1209.41,394.16 1209.93,391.89 1210.44,393.17 1210.95,390.96 1211.46,393.15 1211.97,392.18 1212.49,391.48 1213,390.45 1213.5,391.9 1214,389.94 1214.5,392.25 1215,387.99 1215.5,394.45 1216,391.69 1216.5,394.9 1217,390.77 1217.5,393.28 1218,395.83 1218.5,391.35 1219,392.92 1219.5,392.33 1220,393.93 1220.5,393.38 1221,390.8 1221.5,392.83 1222,393.35 1222.5,392.13 1223,394.53 1223.5,394.14 1224,392.52 1224.5,392.06 1225,393.59 1225.5,392.31 1226,394.86 1226.5,391.62 1227,392.35 1227.5,391.85 1228,394.15 1228.5,392.53 1229,395.44 1229.5,392.8 1230,392.52 1230.5,393.39 1231,391.52 1231.5,393.53 1232,392.39 1232.5,392.29 1233,393.14 1233.5,391.97 1234,393.72 1234.5,396.17 1235,393.7 1235.5,393.81 1236,392.53 1236.5,394.36 1237,394.52 1237.5,393.31 1238,393.11 1238.5,389.33 1239,391.52 1239.5,392.32 1240,395.04 1240.5,395.06 1241,391 1241.51,393.6 1242.01,395.06 1242.51,392.91 1243.01,391.15 1243.51,394.57 1244.01,397.08 1244.51,393.01 1245.01,394.29 1245.51,393.1 1246.01,390.78 1246.51,389.36 1247.01,391.31 1247.51,392.87 1248.01,388.99 1248.51,394.18 1249.01,392.15 1249.51,395.07 1250.01,392.67 1250.51,395.56 1251.01,398.23" fill="none" stroke="#231f20" stroke-width="0.8" stroke-linejoin="miter"/>
<line x1="992.9" y1="166.9" x2="992.9" y2="398.75" stroke="#000" stroke-width="1.9"/>
<line x1="980.9" y1="188.1" x2="992.9" y2="188.1" stroke="#000" stroke-width="1.9"/>
<line x1="980.9" y1="229.9" x2="992.9" y2="229.9" stroke="#000" stroke-width="1.9"/>
<line x1="980.9" y1="271.9" x2="992.9" y2="271.9" stroke="#000" stroke-width="1.9"/>
<line x1="980.9" y1="314.1" x2="992.9" y2="314.1" stroke="#000" stroke-width="1.9"/>
<line x1="980.9" y1="355.6" x2="992.9" y2="355.6" stroke="#000" stroke-width="1.9"/>
<line x1="980.9" y1="397.8" x2="992.9" y2="397.8" stroke="#000" stroke-width="1.9"/>
<line x1="994.2" y1="403.9" x2="1287.8" y2="403.9" stroke="#000" stroke-width="1.9"/>
<line x1="1013.7" y1="403.9" x2="1013.7" y2="409.4" stroke="#000" stroke-width="1.8"/>
<line x1="1060.7" y1="403.9" x2="1060.7" y2="409.4" stroke="#000" stroke-width="1.8"/>
<line x1="1107.4" y1="403.9" x2="1107.4" y2="409.4" stroke="#000" stroke-width="1.8"/>
<line x1="1153.5" y1="403.9" x2="1153.5" y2="409.4" stroke="#000" stroke-width="1.8"/>
<line x1="1199.6" y1="403.9" x2="1199.6" y2="409.4" stroke="#000" stroke-width="1.8"/>
<line x1="1245.6" y1="403.9" x2="1245.6" y2="409.4" stroke="#000" stroke-width="1.8"/>
<text x="1012.5" y="441" font-size="23.5" text-anchor="middle">4</text>
<text x="1059.5" y="441" font-size="23.5" text-anchor="middle">5</text>
<text x="1106.2" y="441" font-size="23.5" text-anchor="middle">6</text>
<text x="1152.3" y="441" font-size="23.5" text-anchor="middle">7</text>
<text x="1198.4" y="441" font-size="23.5" text-anchor="middle">8</text>
<text x="1244.4" y="441" font-size="23.5" text-anchor="middle">9</text>
<text x="942" y="194" font-size="23.5" text-anchor="middle">1</text>
<text x="942" y="235.8" font-size="23.5" text-anchor="middle">0.8</text>
<text x="942" y="277.8" font-size="23.5" text-anchor="middle">0.6</text>
<text x="942" y="320" font-size="23.5" text-anchor="middle">0.4</text>
<text x="942" y="361.5" font-size="23.5" text-anchor="middle">0.2</text>
<text x="940" y="403.7" font-size="23.5" text-anchor="middle">0</text>
<text x="1001.5" y="172.5" font-size="27.5">Buffer</text>
<path d="M1484.19,396.53 L1485.81,358.54 L1486.06,349.52 L1486.32,339.89 L1486.58,329.65 L1486.83,319.41 L1487.09,309.17 L1487.34,298.93 L1487.6,288.69 L1487.86,278.92 L1488.11,269.6 L1488.37,260.74 L1488.62,252.35 L1488.88,244.41 L1489.13,236.48 L1489.39,228.54 L1489.65,220.61 L1489.9,212.67 L1490.16,205.7 L1490.41,199.7 L1490.7,194.66 L1490.99,190.59 L1491.28,188.66 L1491.57,187.91 L1491.82,188.34 L1492.08,189.95 L1492.33,192.74 L1492.59,195.53 L1492.85,198.32 L1493.1,201.1 L1493.36,203.89 L1493.61,206.75 L1493.87,209.66 L1494.14,212.64 L1494.4,215.68 L1494.67,218.78 L1494.93,221.88 L1495.2,224.98 L1495.46,228.08 L1495.73,231.18 L1496,234.28 L1496.26,237.38 L1496.53,240.48 L1496.79,243.59 L1497.06,246.58 L1497.33,249.46 L1497.58,252.24 L1497.84,254.91 L1498.09,257.47 L1498.35,260.03 L1498.61,262.59 L1498.86,265.15 L1499.12,267.71 L1499.37,270.26 L1499.63,272.82 L1499.89,275.38 L1500.14,277.94 L1500.4,280.5 L1500.65,283.06 L1500.91,285.62 L1501.16,288.18 L1501.42,290.74 L1501.68,293.12 L1501.93,295.32 L1502.19,297.34 L1502.44,299.19 L1502.7,300.85 L1502.96,302.52 L1503.21,304.18 L1503.47,305.84 L1503.72,307.51 L1503.98,309.17 L1504.24,310.83 L1504.49,312.5 L1504.75,314.16 L1505,315.83 L1505.26,317.49 L1505.52,319.15 L1505.77,320.82 L1506.03,322.48 L1506.28,324.07 L1506.54,325.58 L1506.8,327.01 L1507.05,328.37 L1507.31,329.65 L1507.56,330.93 L1507.82,332.21 L1508.08,333.49 L1508.33,334.77 L1508.59,336.05 L1508.84,337.33 L1509.1,338.61 L1509.36,339.89 L1509.61,341.16 L1509.87,342.44 L1510.12,343.72 L1510.38,345 L1510.64,346.28 L1510.89,347.64 L1511.15,349.06 L1511.41,350.56 L1511.67,352.13 L1511.94,353.78 L1512.2,355.43 L1512.46,357.07 L1512.73,359 L1512.99,361.22 L1513.26,363.72 L1513.53,366.5 L1513.8,369.58 L1514.07,372.65 L1514.33,375.36 L1514.6,377.72 L1514.86,379.71 L1515.11,381.35 L1515.37,382.63 L1515.63,383.91 L1515.88,385.19 L1516.14,386.47 L1516.39,387.75 L1516.65,388.81 L1516.91,389.65 L1518.06,396.53 Z" fill="#169a48"/>
<polyline points="1312.35,393.42 1312.6,394.34 1312.85,394.74 1313.1,394.23 1313.35,393.91 1313.61,393.48 1313.86,394.53 1314.11,394.62 1314.36,395.09 1314.62,394.5 1314.87,393.84 1315.12,395.17 1315.37,395.24 1315.63,394.55 1315.88,395.42 1316.13,393.97 1316.38,394.38 1316.64,394.42 1316.89,393.99 1317.14,393.87 1317.39,393.56 1317.65,394.35 1317.9,393.91 1318.15,394.09 1318.4,394.79 1318.66,393.86 1318.91,393.67 1319.16,393.19 1319.41,393.52 1319.67,394.44 1319.92,394.94 1320.17,394.1 1320.42,394.01 1320.67,394.47 1320.93,394.45 1321.18,394.3 1321.43,394.3 1321.68,393.96 1321.94,394.43 1322.19,394.04 1322.44,392.46 1322.69,394.03 1322.95,394.43 1323.2,394.89 1323.45,393.77 1323.7,392.57 1323.96,393.84 1324.21,392.67 1324.46,394.49 1324.71,393.93 1324.97,393.61 1325.22,393.72 1325.47,394.1 1325.72,393.02 1325.98,392.93 1326.23,393.8 1326.48,393.93 1326.73,393.46 1326.99,393.42 1327.24,394.95 1327.49,393.53 1327.74,393.26 1327.99,393.27 1328.25,392.83 1328.5,393.24 1328.75,393.78 1329,392.86 1329.26,393.28 1329.51,393.6 1329.76,392.98 1330.01,393.72 1330.27,392.83 1330.52,393.38 1330.77,392.8 1331.02,394.31 1331.28,392.93 1331.53,392.53 1331.78,393.26 1332.03,393.17 1332.29,393.83 1332.54,392.7 1332.79,393.23 1333.04,393.25 1333.3,392.89 1333.55,393.03 1333.8,394.14 1334.05,393.06 1334.31,394.16 1334.56,394.42 1334.81,393.14 1335.06,393.02 1335.32,393.45 1335.57,393.36 1335.82,394.39 1336.07,393.03 1336.32,393.66 1336.57,393.55 1336.82,394.54 1337.07,393.67 1337.32,393.88 1337.57,393.36 1337.83,393.98 1338.08,393.48 1338.33,394.07 1338.58,393.03 1338.83,392.69 1339.08,393.21 1339.33,392.97 1339.58,392.92 1339.83,393.45 1340.08,393.57 1340.33,394.16 1340.58,393.63 1340.83,393.07 1341.08,392.65 1341.33,394.23 1341.58,394.08 1341.83,394.09 1342.08,393.67 1342.33,393 1342.58,393.12 1342.83,393.87 1343.08,393.7 1343.33,393.28 1343.58,394.26 1343.83,393.49 1344.08,394.34 1344.34,392.91 1344.59,393.54 1344.84,393.93 1345.09,394.27 1345.34,394.77 1345.59,394.02 1345.84,393.72 1346.09,393.6 1346.34,394.06 1346.59,394.21 1346.84,393.16 1347.09,393.16 1347.34,393.62 1347.59,393.97 1347.84,393.15 1348.09,393.42 1348.34,393.39 1348.59,393.71 1348.84,393.38 1349.09,394.34 1349.34,393.17 1349.59,393.34 1349.84,394.1 1350.09,394.02 1350.34,393.63 1350.6,394.24 1350.85,393.99 1351.1,394.54 1351.35,394.46 1351.6,394.81 1351.85,393.44 1352.1,394.12 1352.35,395.2 1352.6,393.99 1352.85,393.4 1353.1,394 1353.35,394.23 1353.6,394.94 1353.85,393.94 1354.1,393.65 1354.35,395.22 1354.6,394.44 1354.85,394.09 1355.1,394.49 1355.35,393.25 1355.6,395.16 1355.85,392.83 1356.1,393.62 1356.35,393.63 1356.6,393.56 1356.85,394.63 1357.11,395.01 1357.36,393.89 1357.61,394.88 1357.86,394.71 1358.11,393.48 1358.36,393.97 1358.61,394.02 1358.86,394.69 1359.11,393.61 1359.36,394.22 1359.61,394.36 1359.86,394.7 1360.11,394.66 1360.36,394.06 1360.61,393.71 1360.86,394.64 1361.11,394.12 1361.36,394.02 1361.61,395.06 1361.86,394.19 1362.11,394.03 1362.36,395.28 1362.61,393.74 1362.86,393.65 1363.11,394.84 1363.36,394.1 1363.61,393.75 1363.86,394.37 1364.11,394.31 1364.36,394.93 1364.61,393.87 1364.86,393.62 1365.11,394.22 1365.36,394.38 1365.61,393.16 1365.86,395.19 1366.11,394.57 1366.36,393.78 1366.61,394.12 1366.86,394.37 1367.11,394.17 1367.36,394.59 1367.61,393.82 1367.86,394.73 1368.11,394.53 1368.36,394.61 1368.61,394.91 1368.86,394.01 1369.11,395.09 1369.36,393.8 1369.61,394.25 1369.86,394.98 1370.11,394.04 1370.36,394.07 1370.61,393.51 1370.86,393.85 1371.11,393.96 1371.36,394.74 1371.61,393.61 1371.86,394.22 1372.11,393.66 1372.36,394.11 1372.61,394.42 1372.86,394.25 1373.11,393.12 1373.36,393.16 1373.61,394.61 1373.86,393.46 1374.11,393.84 1374.36,393.34 1374.61,394.28 1374.86,394.56 1375.11,394.64 1375.36,394.29 1375.61,395.01 1375.86,394.2 1376.11,395.32 1376.36,393.18 1376.61,394.11 1376.86,393.97 1377.11,394.36 1377.36,393.33 1377.61,394.38 1377.86,393.07 1378.11,393.99 1378.36,394 1378.61,393.94 1378.86,394.61 1379.11,392.77 1379.36,394.07 1379.61,394.7 1379.86,394.03 1380.11,393.85 1380.36,395.54 1380.61,394.46 1380.86,394.65 1381.11,394.65 1381.36,394.9 1381.61,395.34 1381.86,394.38 1382.11,394.32 1382.36,394.55 1382.61,394.06 1382.86,393.86 1383.11,394.62 1383.36,394.5 1383.61,395 1383.86,394.13 1384.11,394.54 1384.36,393.56 1384.61,394.09 1384.86,393.75 1385.11,394.11 1385.36,394.52 1385.61,394.76 1385.86,395.1 1386.11,394.15 1386.36,393.81 1386.61,394.85 1386.86,395.77 1387.11,394.24 1387.36,394.18 1387.61,394.1 1387.86,395.08 1388.11,394.35 1388.36,393.81 1388.61,395.54 1388.86,395.12 1389.11,394.15 1389.36,394.33 1389.61,394.7 1389.86,394.28 1390.11,394.46 1390.36,395.54 1390.61,394.68 1390.86,394.83 1391.11,394.04 1391.36,393.54 1391.62,393.91 1391.89,393.37 1392.16,392.52 1392.42,392.16 1392.69,391.06 1392.95,390.11 1393.22,388.59 1393.49,389.53 1393.75,388.69 1394.02,387.9 1394.28,387.16 1394.55,386.33 1394.81,385.9 1395.08,385.34 1395.35,384.49 1395.61,384.88 1395.88,383.79 1396.14,383.51 1396.41,380.83 1396.68,382.35 1396.94,382.87 1397.21,379.57 1397.47,379.65 1397.74,378.38 1398,378.93 1398.27,378.59 1398.53,378.43 1398.78,379.29 1399.04,378.34 1399.29,377.44 1399.55,377.48 1399.81,377.18 1400.06,376.46 1400.32,377.45 1400.57,376.96 1400.83,377.61 1401.09,377.62 1401.34,377.11 1401.6,377.54 1401.85,377.45 1402.11,378.47 1402.37,379.35 1402.62,377.78 1402.88,378.57 1403.13,379.06 1403.39,379.14 1403.65,379.78 1403.9,380.06 1404.16,379.63 1404.41,378.61 1404.67,380.44 1404.92,379.7 1405.18,380.15 1405.44,379.51 1405.69,381.12 1405.95,380.43 1406.2,380.8 1406.46,380.5 1406.72,381.5 1406.97,382.02 1407.23,382 1407.48,382.35 1407.74,381.9 1408,382.32 1408.25,382.13 1408.51,381.42 1408.76,382.75 1409.02,383.25 1409.28,384.18 1409.53,383.48 1409.79,384.89 1410.04,383.12 1410.3,383.83 1410.56,383.92 1410.81,384.1 1411.07,384.68 1411.32,385.94 1411.58,384.93 1411.84,385.54 1412.09,386.3 1412.35,386.14 1412.6,386.18 1412.86,386.55 1413.12,387 1413.37,386.68 1413.63,387.46 1413.88,387.26 1414.14,387.82 1414.4,386.4 1414.65,387.43 1414.91,388.83 1415.16,387.92 1415.42,388.02 1415.68,387.68 1415.93,387.52 1416.19,388.66 1416.44,388.58 1416.7,388.72 1416.95,389.4 1417.21,388.61 1417.47,389.68 1417.72,390.56 1417.98,390.01 1418.23,390.63 1418.49,389.04 1418.75,390.44 1419,391.49 1419.26,390.84 1419.51,390.15 1419.77,390.16 1420.03,390.67 1420.28,391.03 1420.54,390.09 1420.79,390.8 1421.05,390.89 1421.31,390.12 1421.56,390.42 1421.82,390.75 1422.07,391.47 1422.33,391.52 1422.59,391.11 1422.84,391.1 1423.1,391.06 1423.35,391.42 1423.61,391.87 1423.87,391.53 1424.12,391.68 1424.38,391.44 1424.63,390.93 1424.89,391.71 1425.15,393.24 1425.4,392 1425.66,391.47 1425.91,391.66 1426.17,392.11 1426.43,391.82 1426.68,392.67 1426.94,391.67 1427.19,391.86 1427.45,392.92 1427.71,392.96 1427.96,392.9 1428.22,391.59 1428.47,393.28 1428.72,392.61 1428.97,391.68 1429.22,393.16 1429.47,393.22 1429.72,392.07 1429.97,390.79 1430.22,392.46 1430.47,393.26 1430.72,392.02 1430.97,392.09 1431.22,390.97 1431.47,391.49 1431.72,391.77 1431.97,391.38 1432.22,392.74 1432.47,391.49 1432.72,392.43 1432.97,391.35 1433.22,391.64 1433.48,392.94 1433.73,392.52 1433.98,392.72 1434.23,391.75 1434.48,390.93 1434.73,390.89 1434.98,391.24 1435.23,392.08 1435.48,392.01 1435.73,391.53 1435.98,390.78 1436.23,391.15 1436.48,392.41 1436.73,391.31 1436.98,390.83 1437.23,390.89 1437.48,391.43 1437.73,390.77 1437.98,390.81 1438.23,390.85 1438.48,390.7 1438.73,391.68 1438.98,391.69 1439.23,391.83 1439.48,392.27 1439.74,391.64 1439.99,391.42 1440.24,390.96 1440.49,390.64 1440.74,391.21 1440.99,391.82 1441.25,391.56 1441.5,391.08 1441.75,390.88 1442,391.54 1442.25,391.3 1442.51,391.53 1442.76,391 1443.01,391.21 1443.26,390.25 1443.51,391.08 1443.77,390.71 1444.02,391.79 1444.27,391.55 1444.52,392.17 1444.77,392.11 1445.03,390.89 1445.28,390.7 1445.53,391.15 1445.78,391.69 1446.03,390.44 1446.29,392.8 1446.54,392.19 1446.79,392.27 1447.04,392.08 1447.29,391.62 1447.55,391.56 1447.8,392.22 1448.05,390.73 1448.3,391.87 1448.55,391.62 1448.81,391.27 1449.06,392.25 1449.31,391.48 1449.56,391.93 1449.81,391.56 1450.07,393.49 1450.32,390.84 1450.57,392.4 1450.82,390.97 1451.07,393.17 1451.33,391.45 1451.58,391.47 1451.83,393.38 1452.08,392.15 1452.33,391.65 1452.58,393.27 1452.84,392.23 1453.09,392.3 1453.34,391.97 1453.59,392.32 1453.84,391.97 1454.1,393.27 1454.35,392.58 1454.6,392.48 1454.85,391.81 1455.1,392.15 1455.36,392.14 1455.61,392.57 1455.86,391.94 1456.11,391.93 1456.36,392.37 1456.61,392.6 1456.87,391.69 1457.12,392.79 1457.37,392.64 1457.62,392.19 1457.87,392.82 1458.12,392.86 1458.37,392.29 1458.62,393.78 1458.88,392.8 1459.13,393.83 1459.38,393.01 1459.63,393.34 1459.88,392.91 1460.13,393.53 1460.38,393.36 1460.64,393.08 1460.89,393.34 1461.14,393.12 1461.39,393.83 1461.64,393.32 1461.89,394.49 1462.14,393.91 1462.39,392.46 1462.65,393.84 1462.9,393.53 1463.15,393.25 1463.4,393.41 1463.65,393.49 1463.9,394.13 1464.15,393.87 1464.4,393.86 1464.66,393.37 1464.91,393.92 1465.16,393.71 1465.41,394.57 1465.66,393.79 1465.91,393.55 1466.16,393.25 1466.42,394.35 1466.67,393.84 1466.92,393.6 1467.17,393.18 1467.42,394.64 1467.67,394.61 1467.92,393.93 1468.17,394.83 1468.43,394.45 1468.68,395.82 1468.93,395.49 1469.18,393.86 1469.43,394.75 1469.68,393.67 1469.94,394.97 1470.19,395 1470.45,394.04 1470.71,394.6 1470.96,393.62 1471.22,394.56 1471.47,395.3 1471.73,394.44 1471.99,394.66 1472.24,394.62 1472.5,393.95 1472.75,393.96 1473.01,393.43 1473.27,394.36 1473.52,394.66 1473.78,393.99 1474.03,395 1474.29,393.68 1474.55,393.58 1474.82,392.2 1475.08,390.91 1475.34,391.22 1475.61,390.17 1475.87,388.89 1476.13,388.38 1476.4,387.63 1476.67,387.21 1476.94,386.64 1477.21,385.93 1477.48,384.18 1477.74,383.81 1478.01,384.43 1478.28,384.84 1478.54,384.73 1478.81,384.67 1479.07,385.13 1479.34,385.2 1479.61,385.98 1479.87,384.48 1480.14,385.95 1480.4,386.31 1480.67,387.46 1480.93,386.11 1481.2,386.85 1481.47,386.51 1481.73,386.53 1482,387.35 1482.26,388.46 1482.53,387.04 1482.79,388.53 1483.06,388.24 1483.33,387.89 1483.59,387.86 1483.86,388.77 1484.12,389.3 1484.39,388.67 1484.66,384.94 1484.94,380.51 1485.23,374.86 1485.52,366.4 1485.81,359.47 1486.06,349.47 1486.32,339.02 1486.58,329.97 1486.83,318.82 1487.09,309.98 1487.34,298.75 1487.6,288.06 1487.86,278.5 1488.11,270.42 1488.37,261.51 1488.62,252.69 1488.88,244.77 1489.13,236.24 1489.39,228.89 1489.65,220.9 1489.9,212.67 1490.16,205.39 1490.41,198.81 1490.7,194.52 1490.99,191.62 1491.28,188.87 1491.57,188.07 1491.82,189.09 1492.08,189.12 1492.33,193.54 1492.59,195.64 1492.85,198.35 1493.1,201.76 1493.36,203.58 1493.61,206.48 1493.87,209.56 1494.14,212.59 1494.4,216.64 1494.67,218.68 1494.93,222.42 1495.2,225.8 1495.46,228.04 1495.73,232.03 1496,233.75 1496.26,237.58 1496.53,240.55 1496.79,243.32 1497.06,245.74 1497.33,249.6 1497.58,252.26 1497.84,254.47 1498.09,257.73 1498.35,260.26 1498.61,263.38 1498.86,266.64 1499.12,266.91 1499.37,270.53 1499.63,273.65 1499.89,275.56 1500.14,278.63 1500.4,280.66 1500.65,282.8 1500.91,285.63 1501.16,288.39 1501.42,291.12 1501.68,292.19 1501.93,295.86 1502.19,297.12 1502.44,299.13 1502.7,301.29 1502.96,302.37 1503.21,303.09 1503.47,306.12 1503.72,306.61 1503.98,309.67 1504.24,310.61 1504.49,312.49 1504.75,314.74 1505,315.28 1505.26,317.3 1505.52,319.09 1505.77,320.95 1506.03,322.33 1506.28,323.93 1506.54,325.7 1506.8,326.97 1507.05,328.26 1507.31,329.44 1507.56,331.09 1507.82,332.11 1508.08,332.95 1508.33,335.4 1508.59,335.85 1508.84,337.66 1509.1,339.32 1509.36,339.05 1509.61,341.42 1509.87,342.14 1510.12,344.23 1510.38,345.08 1510.64,347.56 1510.89,347.09 1511.15,348.42 1511.41,351.19 1511.67,351.43 1511.94,354.58 1512.2,356.29 1512.46,356.78 1512.73,358.51 1512.99,361.72 1513.26,362.84 1513.53,366.28 1513.8,370 1514.07,372.95 1514.33,375.19 1514.6,377.69 1514.86,379.86 1515.11,382.26 1515.37,382.91 1515.63,384.35 1515.88,384.28 1516.14,386.3 1516.39,387.24 1516.65,388.1 1516.91,388.97 1517.17,389.53 1517.44,390.38 1517.7,391 1517.97,391.33 1518.24,390.56 1518.5,391.95 1518.77,391.06 1519.03,391.81 1519.3,392.65 1519.56,392.29 1519.83,391.98 1520.1,392.84 1520.36,393.07 1520.61,391.96 1520.86,393.32 1521.11,392.68 1521.36,393.09 1521.61,393.16 1521.86,393.12 1522.11,392.43 1522.36,392.9 1522.62,392.94 1522.87,393.05 1523.12,393.32 1523.37,392.62 1523.62,392.86 1523.87,393.2 1524.12,392.25 1524.37,393.23 1524.62,392.01 1524.87,393.6 1525.12,393.01 1525.37,392.48 1525.62,392.34 1525.87,393.83 1526.12,393.67 1526.37,393.54 1526.62,392.77 1526.87,393.2 1527.12,391.89 1527.37,392.94 1527.62,393.88 1527.87,393.57 1528.12,392.06 1528.37,392.59 1528.62,393.62 1528.88,392.87 1529.13,393.54 1529.38,392.73 1529.63,392.42 1529.88,393.02 1530.13,392.99 1530.38,392.76 1530.63,394.21 1530.88,393.71 1531.13,393.57 1531.38,392.56 1531.63,393.99 1531.88,392.69 1532.13,393.68 1532.38,393.11 1532.63,392.96 1532.88,392.27 1533.13,392.59 1533.38,392.79 1533.63,393.48 1533.88,393.44 1534.13,392.9 1534.38,392.31 1534.63,394.62 1534.88,392.66 1535.13,393.21 1535.39,393.95 1535.64,393.99 1535.89,392.89 1536.14,393.84 1536.39,393.53 1536.64,393.18 1536.89,393.67 1537.14,394.42 1537.39,392.4 1537.64,392.35 1537.89,392.14 1538.14,395.07 1538.39,393.47 1538.64,393.63 1538.89,393.65 1539.14,392.5 1539.39,394.31 1539.64,394.17 1539.89,393.81 1540.14,394.22 1540.39,393.5 1540.64,393.56 1540.89,393.27 1541.14,393.3 1541.39,394.09 1541.65,393.37 1541.9,393.72 1542.15,393.64 1542.4,394.03 1542.65,394.57 1542.9,393.76 1543.15,393.92 1543.4,393.33 1543.65,393.76 1543.9,393.8 1544.15,394.62 1544.4,393.36 1544.66,393.49 1544.91,393.46 1545.16,394.25 1545.41,393.59 1545.66,393.86 1545.91,393.97 1546.17,393.87 1546.42,394.62 1546.67,394.41 1546.92,394.84 1547.17,393.92 1547.42,393.45 1547.68,392.92 1547.93,393.99 1548.18,392.78 1548.43,393.83 1548.68,393.66 1548.94,393.77 1549.19,394.05 1549.44,394.25 1549.69,394.28 1549.94,394 1550.19,394.4 1550.45,393.42 1550.7,393.18 1550.95,393.39 1551.2,394.32 1551.45,394.1 1551.7,394.02 1551.96,393.74 1552.21,393.53 1552.46,394.05 1552.71,394.05 1552.96,392.91 1553.21,394.29 1553.47,393.13 1553.72,392.89 1553.97,394.77 1554.22,393.72 1554.47,394.07 1554.72,393.75 1554.98,393.59 1555.23,393.21 1555.48,394.54 1555.73,394.16 1555.98,394.35 1556.23,392.86 1556.49,393.96 1556.74,394.23 1556.99,393.6 1557.24,394.68 1557.49,393.99 1557.74,394.48 1558,394.22 1558.25,394.3 1558.5,394.7 1558.75,394.18 1559,393.53 1559.25,393.91 1559.51,393.38 1559.76,393.82 1560.01,394.42 1560.26,394.75 1560.51,393.09 1560.76,393.24 1561.02,393.22 1561.27,394.53 1561.52,394.38 1561.77,393.91 1562.02,394.85 1562.27,393.97 1562.53,393.22 1562.78,394.2 1563.03,394.31 1563.28,394.73 1563.53,393.19 1563.78,393.75 1564.04,394.5 1564.29,392.96 1564.54,393.71 1564.79,394.47 1565.04,394.43 1565.29,393.81 1565.55,394.13 1565.8,393.8 1566.05,393.63 1566.3,394.59 1566.55,394.74 1566.81,393.5 1567.06,393.3 1567.31,394.17 1567.56,394.84 1567.81,393.01 1568.06,394.58 1568.32,395.44 1568.57,395.17 1568.82,393.86 1569.07,393.43 1569.32,394.45 1569.57,394.35 1569.83,394.54 1570.08,395.3 1570.33,394.65 1570.58,394.58" fill="none" stroke="#231f20" stroke-width="2.4" stroke-linejoin="round"/>
<polyline points="1312.35,393.18 1312.85,394.32 1313.35,395.14 1313.86,393.49 1314.36,393.48 1314.87,394.32 1315.37,393.47 1315.88,394.22 1316.38,394.44 1316.89,393.85 1317.39,393.08 1317.9,393.67 1318.4,393.64 1318.91,394.92 1319.41,396.42 1319.92,393.27 1320.42,392.95 1320.93,393.21 1321.43,393.43 1321.94,393.25 1322.44,393.46 1322.95,393.69 1323.45,393.91 1323.96,394.31 1324.46,394.09 1324.97,394.34 1325.47,394.77 1325.98,394.18 1326.48,393.36 1326.99,393.56 1327.49,392.68 1327.99,393.58 1328.5,393.25 1329,392.6 1329.51,393.07 1330.01,393.94 1330.52,393.72 1331.02,393.27 1331.53,393.48 1332.03,392.72 1332.54,392.44 1333.04,392.73 1333.55,393.25 1334.05,393.55 1334.56,391.64 1335.06,394.01 1335.57,394.55 1336.07,392.85 1336.57,394.25 1337.07,392.06 1337.57,394.08 1338.08,392.64 1338.58,392.87 1339.08,392.03 1339.58,393.43 1340.08,392.71 1340.58,392.73 1341.08,393.33 1341.58,393.84 1342.08,393.07 1342.58,392.17 1343.08,393.63 1343.58,392.85 1344.08,394.08 1344.59,393.87 1345.09,393.76 1345.59,393.58 1346.09,392.1 1346.59,393.57 1347.09,393.04 1347.59,395.22 1348.09,394.6 1348.59,393.31 1349.09,393.08 1349.59,393.97 1350.09,396.21 1350.6,397.7 1351.1,395.19 1351.6,393.31 1352.1,393.93 1352.6,394.06 1353.1,393.66 1353.6,394.86 1354.1,391.5 1354.6,394.44 1355.1,394.26 1355.6,394.99 1356.1,393.9 1356.6,393.88 1357.11,392.72 1357.61,395.58 1358.11,394.29 1358.61,394.43 1359.11,394.88 1359.61,393.04 1360.12,393.49 1360.62,393.85 1361.12,394.67 1361.63,395.36 1362.13,394.44 1362.64,394.35 1363.14,393.8 1363.64,394.05 1364.15,394.57 1364.65,393.46 1365.16,394.7 1365.66,393.51 1366.16,393.65 1366.67,394.61 1367.17,394.47 1367.68,395.08 1368.18,393.91 1368.68,393.98 1369.19,394.71 1369.69,394.42 1370.19,394.48 1370.7,394.21 1371.2,393.95 1371.71,393.01 1372.21,395.28 1372.71,394.52 1373.22,394.37 1373.72,394.84 1374.23,393.89 1374.73,394.46 1375.23,393.39 1375.74,393.95 1376.24,393.8 1376.75,394.41 1377.25,394.45 1377.75,394.44 1378.26,392.92 1378.76,393.43 1379.27,393.58 1379.77,394.28 1380.27,394.62 1380.78,394.73 1381.28,393.41 1381.78,393.29 1382.29,394.58 1382.79,395.11 1383.3,394.34 1383.8,394.45 1384.3,395.21 1384.81,394.64 1385.31,394.98 1385.82,395.54 1386.32,393.98 1386.82,394.6 1387.33,393.55 1387.83,394.05 1388.34,394.58 1388.84,393.45 1389.34,394.3 1389.85,394.26 1390.35,395.13 1390.86,395.5 1391.36,392.7 1391.94,392.73 1392.51,391.46 1393.09,389.96 1393.66,388.07 1394.24,386.44 1394.81,385.81 1395.39,384.95 1395.97,381.72 1396.54,382.46 1397.12,380.55 1397.69,379.29 1398.27,378.67 1398.85,379.08 1399.42,377.09 1400,377.87 1400.57,377.33 1401.09,376.6 1401.6,377.77 1402.11,377.31 1402.62,377.62 1403.13,378.29 1403.65,380.66 1404.16,379.28 1404.67,380.2 1405.18,380.47 1405.71,380.86 1406.24,380.17 1406.78,381.52 1407.31,381.95 1407.84,381.71 1408.37,381.52 1408.9,383.04 1409.43,383.55 1409.97,384.54 1410.5,385.16 1411.03,384.09 1411.56,384.77 1412.09,385.56 1412.62,386.17 1413.15,386.96 1413.69,386.51 1414.22,386.23 1414.75,384.85 1415.28,388.67 1415.81,388.43 1416.34,388.15 1416.88,388.64 1417.41,389.43 1417.94,391.07 1418.47,389.72 1419,390.54 1419.51,390.32 1420.03,390.99 1420.54,389.73 1421.05,388.35 1421.56,390.59 1422.07,390.35 1422.59,391.63 1423.1,391.42 1423.61,391.8 1424.12,391.24 1424.63,392.58 1425.15,391.53 1425.66,393.61 1426.17,391.8 1426.68,391.79 1427.19,391.98 1427.71,392.95 1428.22,393.66 1428.72,391.43 1429.22,391.92 1429.72,391.72 1430.22,392.31 1430.72,391.9 1431.22,393.2 1431.72,392.11 1432.22,392.93 1432.72,392.1 1433.22,391.13 1433.73,392.36 1434.23,391.13 1434.73,391.11 1435.23,393.2 1435.73,391.59 1436.23,390.86 1436.73,391.75 1437.23,390.6 1437.73,389.66 1438.23,391.01 1438.73,391.21 1439.23,391.54 1439.74,390.62 1440.24,391.5 1440.74,391.44 1441.25,392.34 1441.75,391.14 1442.25,393.11 1442.76,391.07 1443.26,390.93 1443.77,391.27 1444.27,391.45 1444.77,392.36 1445.28,393.43 1445.78,390.67 1446.29,392.25 1446.79,392.1 1447.29,392.98 1447.8,392.32 1448.3,391.19 1448.81,392.25 1449.31,392.57 1449.81,392.57 1450.32,394.95 1450.82,391.17 1451.33,392.2 1451.83,392.3 1452.33,391.56 1452.84,392.1 1453.34,391.64 1453.84,393.07 1454.35,392.13 1454.85,391.92 1455.36,393.68 1455.86,392.53 1456.37,392.21 1456.88,393.08 1457.4,392.73 1457.91,392.57 1458.42,392.91 1458.93,391.4 1459.44,393.55 1459.96,393.98 1460.47,393.29 1460.98,393.87 1461.49,392.87 1462,392.7 1462.52,392.12 1463.03,393.03 1463.54,393.98 1464.05,393.52 1464.56,395.32 1465.07,393.27 1465.59,394.28 1466.1,393.46 1466.61,394.77 1467.12,394.07 1467.63,393.98 1468.15,394.37 1468.66,394.64 1469.17,394.95 1469.68,393.92 1470.19,393.67 1470.71,394.02 1471.22,394.21 1471.73,392.22 1472.24,394.61 1472.75,394.51 1473.27,394.88 1473.78,395.24 1474.29,393.54 1474.9,392.5 1475.52,390.18 1476.13,389.09 1476.67,387.58 1477.21,384.92 1477.74,384.66 1478.32,386.28 1478.9,385.41 1479.47,385.91 1480.05,385.43 1480.62,385.59 1481.2,385.78 1481.78,386.99 1482.35,387.85 1482.93,388.65 1483.5,388.08 1484.08,384.87 1484.66,380.35 1485.23,370.6 1485.81,355.22 1486.38,335.58 1486.96,315.82 1487.54,292.16 1488.11,270.64 1488.69,251.51 1489.26,232.12 1489.84,216.42 1490.41,203.46 1490.99,194.9 1491.57,192.62 1492.14,193.84 1492.72,197.32 1493.29,203.41 1493.87,208.41 1494.45,215.83 1495.02,223.04 1495.6,229.22 1496.17,236.72 1496.75,242.81 1497.33,249.31 1497.84,253.21 1498.35,260.41 1498.86,264.87 1499.37,269 1499.89,275.62 1500.4,279.83 1500.91,285.18 1501.42,290.72 1501.93,294.41 1502.44,298.26 1502.96,303.12 1503.47,305.21 1503.98,310.38 1504.49,312.62 1505,315.62 1505.52,317.82 1506.03,323.04 1506.54,325.99 1507.05,328.22 1507.56,332.63 1508.08,334.1 1508.59,335.9 1509.1,339.71 1509.61,341.65 1510.12,345.52 1510.64,347.25 1511.15,349.99 1511.76,352.99 1512.38,356.84 1512.99,361.82 1513.53,370.82 1514.07,371.98 1514.6,376.38 1515.18,381.01 1515.75,383.31 1516.33,387.19 1516.91,389.32 1517.48,390.11 1518.06,390.52 1518.63,390.55 1519.21,391.78 1519.79,390.8 1520.36,392.29 1520.86,392.44 1521.36,393.45 1521.86,391.86 1522.36,392.58 1522.87,392.31 1523.37,393.7 1523.87,392.61 1524.37,391.64 1524.87,391.89 1525.37,392.6 1525.87,391.87 1526.37,392.04 1526.87,392.71 1527.37,393.93 1527.87,393.15 1528.37,392.76 1528.88,392.17 1529.38,393.32 1529.88,393.03 1530.38,390.38 1530.88,392.89 1531.38,392.78 1531.88,392.76 1532.38,393.92 1532.88,393.39 1533.38,393.19 1533.88,393.19 1534.38,393.73 1534.88,393.71 1535.39,392 1535.89,393.53 1536.39,394.03 1536.89,394.17 1537.39,392.58 1537.89,392.86 1538.39,393.98 1538.89,392.32 1539.39,392.83 1539.89,393.11 1540.39,394.28 1540.89,393.93 1541.39,393.66 1541.9,394.52 1542.4,393.7 1542.9,394.32 1543.4,393.43 1543.9,394.63 1544.4,395.34 1544.91,394.82 1545.41,394.48 1545.91,394.67 1546.42,394.88 1546.92,394.12 1547.42,394.16 1547.93,392.24 1548.43,394.68 1548.94,393.42 1549.44,394.4 1549.94,393.55 1550.45,393.31 1550.95,394.16 1551.45,393.27 1551.96,394 1552.46,393.48 1552.96,393 1553.47,393.82 1553.97,394.18 1554.47,393.71 1554.98,394.86 1555.48,394.21 1555.98,394.17 1556.49,394.9 1556.99,393.71 1557.49,394.31 1558,393.79 1558.5,394.54 1559,394.21 1559.51,396.23 1560.01,394.14 1560.51,395.1 1561.02,393.72 1561.52,393.14 1562.02,394.52 1562.53,394.7 1563.03,394.3 1563.53,392.61 1564.04,395.3 1564.54,394.73 1565.04,393.61 1565.55,395.18 1566.05,394.13 1566.55,395.2 1567.06,393.74 1567.56,393.96 1568.06,395.05 1568.57,393.71 1569.07,393.62 1569.57,394.39 1570.08,393.82 1570.58,394.46" fill="none" stroke="#231f20" stroke-width="0.8" stroke-linejoin="miter"/>
<line x1="1312.1" y1="166.4" x2="1312.1" y2="397.45" stroke="#000" stroke-width="1.9"/>
<line x1="1300.1" y1="186.7" x2="1312.1" y2="186.7" stroke="#000" stroke-width="1.9"/>
<line x1="1300.1" y1="228.6" x2="1312.1" y2="228.6" stroke="#000" stroke-width="1.9"/>
<line x1="1300.1" y1="270.5" x2="1312.1" y2="270.5" stroke="#000" stroke-width="1.9"/>
<line x1="1300.1" y1="313.1" x2="1312.1" y2="313.1" stroke="#000" stroke-width="1.9"/>
<line x1="1300.1" y1="353.4" x2="1312.1" y2="353.4" stroke="#000" stroke-width="1.9"/>
<line x1="1300.1" y1="396.5" x2="1312.1" y2="396.5" stroke="#000" stroke-width="1.9"/>
<line x1="1313.7" y1="402.7" x2="1607.9" y2="402.7" stroke="#000" stroke-width="1.9"/>
<line x1="1333.3" y1="402.7" x2="1333.3" y2="408.2" stroke="#000" stroke-width="1.8"/>
<line x1="1380.5" y1="402.7" x2="1380.5" y2="408.2" stroke="#000" stroke-width="1.8"/>
<line x1="1427" y1="402.7" x2="1427" y2="408.2" stroke="#000" stroke-width="1.8"/>
<line x1="1472.7" y1="402.7" x2="1472.7" y2="408.2" stroke="#000" stroke-width="1.8"/>
<line x1="1518.7" y1="402.7" x2="1518.7" y2="408.2" stroke="#000" stroke-width="1.8"/>
<line x1="1564.6" y1="402.7" x2="1564.6" y2="408.2" stroke="#000" stroke-width="1.8"/>
<text x="1326.1" y="172.6" font-size="27.5"><tspan font-style="italic">Hi-1</tspan><tspan font-size="16" dy="-10">+</tspan></text>
<path d="M1805.81,396.53 L1808.57,312.98 L1808.83,303.62 L1809.08,293.81 L1809.34,283.57 L1809.6,273.34 L1809.85,263.1 L1810.11,252.86 L1810.36,242.62 L1810.62,233.61 L1810.88,225.83 L1811.13,219.28 L1811.39,213.95 L1811.64,209.86 L1811.9,205.76 L1812.16,201.67 L1812.41,197.57 L1812.67,193.48 L1812.92,190.58 L1813.18,188.87 L1813.45,188.37 L1813.72,189.06 L1814,190.94 L1814.27,192.83 L1814.54,194.71 L1814.81,196.6 L1815.08,198.48 L1815.36,200.37 L1815.63,202.25 L1815.9,204.29 L1816.17,206.48 L1816.44,208.83 L1816.71,211.34 L1816.97,213.99 L1817.24,216.65 L1817.5,219.31 L1817.77,221.97 L1818.03,224.63 L1818.3,227.28 L1818.57,229.94 L1818.83,232.6 L1819.1,235.26 L1819.36,237.95 L1819.63,240.68 L1819.89,243.44 L1820.16,246.24 L1820.43,249.08 L1820.69,251.91 L1820.96,254.75 L1821.22,257.58 L1821.49,260.42 L1821.76,263.26 L1822.02,266.09 L1822.29,268.93 L1822.55,271.76 L1822.82,274.49 L1823.08,277.11 L1823.35,279.63 L1823.62,282.04 L1823.88,284.34 L1824.15,286.65 L1824.41,288.95 L1824.68,291.25 L1824.95,293.56 L1825.21,295.86 L1825.48,298.16 L1825.74,300.47 L1826.01,302.77 L1826.27,304.9 L1826.54,306.84 L1826.8,308.61 L1827.05,310.19 L1827.31,311.6 L1827.56,313.01 L1827.82,314.42 L1828.08,315.83 L1828.33,317.23 L1828.59,318.64 L1828.84,320.05 L1829.1,321.46 L1829.36,322.86 L1829.61,324.27 L1829.87,325.68 L1830.12,327.09 L1830.38,328.49 L1830.64,329.9 L1830.89,331.21 L1831.15,332.41 L1831.41,333.5 L1831.68,334.49 L1831.94,335.38 L1832.21,336.26 L1832.48,337.15 L1832.74,338.03 L1833.01,338.92 L1833.27,339.81 L1833.54,340.69 L1833.81,341.58 L1834.07,342.46 L1834.34,343.79 L1834.6,345.55 L1834.86,347.74 L1835.11,350.38 L1835.37,353.45 L1835.63,356.52 L1835.88,359.59 L1836.14,362.67 L1836.39,365.74 L1836.65,368.45 L1836.91,370.8 L1837.16,372.8 L1837.42,374.44 L1837.67,375.72 L1839.9,396.53 Z" fill="#169a48"/>
<polyline points="1633.5,384.35 1633.75,387.05 1634,384.93 1634.25,385.52 1634.5,384.25 1634.75,383.39 1635,383.74 1635.26,385.92 1635.51,385.49 1635.76,384.2 1636.01,385.15 1636.26,381.11 1636.51,386.79 1636.76,382.92 1637.02,380.98 1637.27,384 1637.52,382.53 1637.77,385.02 1638.02,384.9 1638.27,380.8 1638.52,380.84 1638.77,382.51 1639.03,382.4 1639.28,383.71 1639.53,383.25 1639.78,385.13 1640.03,384.53 1640.28,384.58 1640.53,383.64 1640.78,384.56 1641.04,384.6 1641.29,382.44 1641.54,383.78 1641.79,383.07 1642.04,382.13 1642.29,381.95 1642.54,384.98 1642.8,380.6 1643.05,380.65 1643.3,384.42 1643.55,380.29 1643.8,380.75 1644.05,380.36 1644.3,381.21 1644.55,381.52 1644.8,383.48 1645.06,383.22 1645.31,383.11 1645.56,377.95 1645.81,381.64 1646.06,381.49 1646.31,383.05 1646.56,383.49 1646.81,383.47 1647.06,384.19 1647.31,383.42 1647.56,384.08 1647.81,382.63 1648.06,380.68 1648.31,382.42 1648.56,384.61 1648.81,383.07 1649.06,382.56 1649.31,385.3 1649.56,381.39 1649.81,381.93 1650.06,383.79 1650.31,384.34 1650.56,385.3 1650.81,386.14 1651.06,383.06 1651.31,381.83 1651.57,382.25 1651.82,384.19 1652.07,383.54 1652.32,382.4 1652.57,381.83 1652.82,384.66 1653.07,381.92 1653.32,384.53 1653.57,385.17 1653.82,383.74 1654.07,381.61 1654.32,386.45 1654.57,384.53 1654.82,383.31 1655.07,381.67 1655.32,383.54 1655.57,383.96 1655.82,386.01 1656.07,379.61 1656.32,382.96 1656.57,381.11 1656.82,381.27 1657.07,384.92 1657.32,385.18 1657.57,382.29 1657.83,387.8 1658.08,384.1 1658.33,383.87 1658.58,383.05 1658.83,380.48 1659.08,381.74 1659.33,384.97 1659.58,383.2 1659.83,386.75 1660.08,385.92 1660.33,383.99 1660.58,383.77 1660.83,384.16 1661.08,382.18 1661.33,387.67 1661.58,385.29 1661.83,382.86 1662.08,382.98 1662.33,384.47 1662.58,383.29 1662.83,384.16 1663.08,386.22 1663.33,386.55 1663.58,384.87 1663.83,385.28 1664.08,386.1 1664.34,383.32 1664.59,385.3 1664.84,387.45 1665.09,385.1 1665.34,384.7 1665.59,385.35 1665.84,384.03 1666.09,386.07 1666.34,384.35 1666.59,385.16 1666.84,387.1 1667.09,385.15 1667.34,383.54 1667.59,384.58 1667.84,383.45 1668.09,388.24 1668.34,387.46 1668.59,386.53 1668.84,383.07 1669.09,384.25 1669.34,384.68 1669.59,384.95 1669.84,385.13 1670.09,382.57 1670.34,385.33 1670.6,386.37 1670.85,383.78 1671.1,387.33 1671.35,384.94 1671.6,383.97 1671.85,382.45 1672.1,387.51 1672.35,386.75 1672.6,386.94 1672.85,381.06 1673.1,383.35 1673.35,384.88 1673.6,386.94 1673.85,387.26 1674.1,387.14 1674.35,389.96 1674.6,386.9 1674.85,386.1 1675.1,387.79 1675.35,386.98 1675.6,388.95 1675.85,386.62 1676.1,383.17 1676.35,385.03 1676.6,385.55 1676.85,383.62 1677.11,388.79 1677.36,387.38 1677.61,386.84 1677.86,385.63 1678.11,385.58 1678.36,387.34 1678.61,383.29 1678.86,385.58 1679.11,388.87 1679.36,388.29 1679.61,388.18 1679.86,386.65 1680.11,386.69 1680.36,387.73 1680.61,386.38 1680.86,384.91 1681.11,387.23 1681.36,390.43 1681.61,387.67 1681.86,386.67 1682.11,387.95 1682.36,385.52 1682.61,389.29 1682.86,387.27 1683.11,387.56 1683.36,387.12 1683.61,387.32 1683.86,386.55 1684.11,384.6 1684.36,384.45 1684.61,387.69 1684.86,385.51 1685.11,384.84 1685.36,386.4 1685.61,386.58 1685.86,389.09 1686.11,384.99 1686.36,389.51 1686.61,388.03 1686.86,385.89 1687.11,387.23 1687.36,384.97 1687.61,386.73 1687.86,387.42 1688.11,384.18 1688.36,387.87 1688.61,387.75 1688.86,386.02 1689.11,388.16 1689.36,386.16 1689.61,385.47 1689.86,389.76 1690.11,387.61 1690.36,388.28 1690.61,387.71 1690.86,385.8 1691.11,391.04 1691.36,391.34 1691.61,386.61 1691.86,387.26 1692.11,387.65 1692.36,388.24 1692.61,388.35 1692.86,389.16 1693.11,391.23 1693.36,387 1693.61,389.22 1693.86,391.06 1694.11,390.27 1694.36,393.8 1694.61,387.21 1694.86,387.97 1695.11,387.57 1695.36,386.88 1695.61,387.79 1695.86,388.82 1696.11,387.62 1696.36,388.52 1696.61,391.07 1696.86,389.16 1697.11,386.31 1697.36,383.78 1697.61,388.14 1697.86,388.06 1698.11,385.93 1698.36,388.48 1698.61,391.35 1698.86,390.24 1699.11,388.06 1699.36,388.16 1699.61,389.06 1699.86,388.27 1700.11,387.61 1700.36,386.38 1700.61,388 1700.86,389.45 1701.11,390.98 1701.36,387.08 1701.61,387.7 1701.86,388.43 1702.11,388.84 1702.36,388.08 1702.61,388.76 1702.86,389.63 1703.11,387.86 1703.36,391.22 1703.61,390.47 1703.86,391.48 1704.11,389.11 1704.36,387.7 1704.61,388.1 1704.86,391.96 1705.11,389.93 1705.36,386.32 1705.61,390.63 1705.86,389.42 1706.11,387.5 1706.36,388.48 1706.61,388.82 1706.86,390.39 1707.11,389.46 1707.36,390.23 1707.61,387.37 1707.86,390.38 1708.11,389.07 1708.36,389.23 1708.61,389.9 1708.86,389.55 1709.11,390.83 1709.36,391.41 1709.61,390.04 1709.86,388.35 1710.11,390.7 1710.36,390.07 1710.61,390.54 1710.86,387.73 1711.11,388.84 1711.36,389.33 1711.62,389.73 1711.89,387.88 1712.16,387.64 1712.42,378.36 1712.69,383.14 1712.95,380.7 1713.22,382.91 1713.49,380.08 1713.75,378.85 1714.02,374.83 1714.28,376.36 1714.55,373.4 1714.81,372.66 1715.08,369.35 1715.35,362.5 1715.61,359.48 1715.88,353.27 1716.14,350.38 1716.41,343.46 1716.68,336.88 1716.94,335.13 1717.21,332.98 1717.47,326.83 1717.74,325.64 1718,321.21 1718.27,318.36 1718.54,311.07 1718.8,308.79 1719.07,306.68 1719.33,307.54 1719.6,305.38 1719.86,306.17 1720.13,301.15 1720.4,298.08 1720.66,297.73 1720.93,293.4 1721.19,293.45 1721.46,293.65 1721.73,289.36 1721.99,291.44 1722.26,293.74 1722.52,288.92 1722.79,292.14 1723.05,298.05 1723.32,296.1 1723.59,298.3 1723.85,296.6 1724.12,296.93 1724.38,301 1724.65,302.38 1724.92,302.32 1725.18,305.94 1725.44,306.45 1725.69,308.95 1725.95,309.42 1726.2,310.42 1726.46,312.94 1726.72,316.27 1726.97,313.89 1727.23,318.19 1727.48,315.68 1727.74,320.24 1728,319.22 1728.25,322.44 1728.51,323.25 1728.76,328.46 1729.02,322.89 1729.28,328.26 1729.53,326.99 1729.79,332.36 1730.04,332.79 1730.29,330.93 1730.54,333.3 1730.79,335.39 1731.04,336.43 1731.29,337.01 1731.54,339.2 1731.79,336.17 1732.04,341.02 1732.29,339.88 1732.54,339.43 1732.79,342.69 1733.04,343.46 1733.29,342.91 1733.54,347.02 1733.79,347.26 1734.04,347.62 1734.3,351.42 1734.55,351.32 1734.8,350.97 1735.05,354.3 1735.3,354.65 1735.55,352.8 1735.8,355.32 1736.05,352.14 1736.3,356.04 1736.55,358.46 1736.81,353.73 1737.06,358.45 1737.31,356.11 1737.56,357.32 1737.81,357.27 1738.07,360.51 1738.32,359.34 1738.57,359.64 1738.82,361.85 1739.07,363.57 1739.33,362.58 1739.58,363.78 1739.83,366.89 1740.08,362.54 1740.33,364.64 1740.59,364.1 1740.84,363.13 1741.09,364.5 1741.34,364.6 1741.59,367.62 1741.85,367.69 1742.1,367.38 1742.35,368.88 1742.6,367.89 1742.85,370.55 1743.11,365.6 1743.36,372.31 1743.61,371.09 1743.87,371.44 1744.12,372.11 1744.38,373.52 1744.63,369.06 1744.89,373.22 1745.15,374.4 1745.4,376.32 1745.66,373.47 1745.91,375.62 1746.17,372.82 1746.43,374.08 1746.68,377.98 1746.94,376.92 1747.19,374.85 1747.45,373.76 1747.71,376.86 1747.96,380.59 1748.22,378.4 1748.47,374.35 1748.73,375.73 1748.98,379.23 1749.24,378.28 1749.5,378.12 1749.75,377.59 1750.01,381.25 1750.26,378.92 1750.52,378.14 1750.78,379.92 1751.03,380.97 1751.29,378.26 1751.54,377.36 1751.8,377.57 1752.06,378.82 1752.31,377.68 1752.57,379.75 1752.82,376.39 1753.08,377.32 1753.34,382.41 1753.59,379.04 1753.85,372.8 1754.1,377.29 1754.36,378.87 1754.62,376.33 1754.87,376.5 1755.13,376.74 1755.38,370.49 1755.64,375.88 1755.9,375.18 1756.15,376.13 1756.41,377.79 1756.66,377.59 1756.92,374.89 1757.18,375.52 1757.43,375.24 1757.68,376.11 1757.93,373.58 1758.19,376.07 1758.44,377.44 1758.69,375.66 1758.94,380.38 1759.19,376.96 1759.44,371.05 1759.69,373.14 1759.94,376.03 1760.2,375.28 1760.45,376.51 1760.7,377.01 1760.95,377.52 1761.2,375.05 1761.45,375.64 1761.7,377.37 1761.95,374.04 1762.21,379.5 1762.46,371.27 1762.71,375.58 1762.96,376.18 1763.21,375.09 1763.46,374.34 1763.71,377.17 1763.97,374.6 1764.22,374.28 1764.47,377.29 1764.72,375.21 1764.97,374.26 1765.22,372.67 1765.47,378 1765.72,376.87 1765.98,376.05 1766.23,376.24 1766.48,373.8 1766.73,376.81 1766.98,376.42 1767.23,375.25 1767.48,375.36 1767.73,378.59 1767.99,377.99 1768.24,372.47 1768.49,377.75 1768.74,376.65 1768.99,378.72 1769.24,378.75 1769.49,377.17 1769.75,376.55 1770,378.2 1770.25,377.03 1770.5,376.41 1770.75,380.52 1771,379.74 1771.25,377.84 1771.5,374.32 1771.76,378.45 1772.01,377.99 1772.26,381.27 1772.51,383.27 1772.76,378.3 1773.01,377.85 1773.26,378.37 1773.51,378.17 1773.77,377.78 1774.02,374.65 1774.27,379.37 1774.52,378.78 1774.77,377.91 1775.02,379.37 1775.27,378.38 1775.53,376.15 1775.78,378.05 1776.03,380.46 1776.28,380.78 1776.53,378.19 1776.78,377.57 1777.03,377.88 1777.28,382.29 1777.54,382.16 1777.79,380.33 1778.04,379.19 1778.29,379.82 1778.54,380.33 1778.79,378.23 1779.04,378.27 1779.29,378.28 1779.55,381.51 1779.8,384.51 1780.05,383.62 1780.3,381.62 1780.55,381.47 1780.8,380.7 1781.05,382.17 1781.31,383.47 1781.56,377.16 1781.81,384.67 1782.06,380.31 1782.31,383.7 1782.56,380.92 1782.81,384.42 1783.06,381.32 1783.32,384.02 1783.57,383.51 1783.82,383.75 1784.07,383.46 1784.32,379.5 1784.57,382.82 1784.82,383.08 1785.07,381.62 1785.33,382.31 1785.59,380.96 1785.84,383.93 1786.1,380.9 1786.35,385.44 1786.61,387.01 1786.87,386.58 1787.12,388.82 1787.38,386.22 1787.63,383.86 1787.89,384.7 1788.15,384.79 1788.4,387.44 1788.66,385.74 1788.91,387.77 1789.17,387.75 1789.43,385.64 1789.68,388.65 1789.94,385.71 1790.19,386.79 1790.45,385.3 1790.71,387.02 1790.96,388.84 1791.22,387.8 1791.47,388.5 1791.73,386.73 1791.99,389.73 1792.24,389.44 1792.5,391.7 1792.75,385.38 1793.01,389.32 1793.27,390.87 1793.52,387.62 1793.78,392.44 1794.03,388.38 1794.29,389.05 1794.54,387.28 1794.79,383.31 1795.04,380.2 1795.29,379.19 1795.55,374.54 1795.8,371.06 1796.05,372.03 1796.3,368.71 1796.55,363.78 1796.8,358.28 1797.05,359.01 1797.33,355.95 1797.6,357.31 1797.87,357.41 1798.14,354.82 1798.41,349.87 1798.69,345.64 1798.96,347.17 1799.23,342.43 1799.5,338.41 1799.78,340.33 1800.05,338.46 1800.31,338.17 1800.58,339.51 1800.85,342.22 1801.11,345.82 1801.38,342.39 1801.64,342.25 1801.91,342.89 1802.17,343.62 1802.44,343.91 1802.71,346.27 1802.97,348.58 1803.24,348.02 1803.5,349.52 1803.77,350.37 1804.04,351.41 1804.3,344.39 1804.57,351.98 1804.83,354.86 1805.1,357.76 1805.36,356.75 1805.63,355.69 1805.9,356.78 1806.16,359.66 1806.43,358.61 1806.69,356.69 1806.96,356.01 1807.23,343.55 1807.5,347.08 1807.77,336.97 1808.03,329.68 1808.3,323.09 1808.57,315.48 1808.83,304.46 1809.08,295.22 1809.34,283.6 1809.6,273.24 1809.85,260.54 1810.11,254.59 1810.36,243.23 1810.62,231.81 1810.88,226.15 1811.13,217.79 1811.39,211.79 1811.64,208.37 1811.9,208.08 1812.16,200.29 1812.41,198.65 1812.67,192.81 1812.92,186.32 1813.18,187.03 1813.45,186.15 1813.72,191.45 1814,187.26 1814.27,193.83 1814.54,196.49 1814.81,199.78 1815.08,197.05 1815.36,197.44 1815.63,200.62 1815.9,205.73 1816.17,210.26 1816.44,209.69 1816.71,210.29 1816.97,215.59 1817.24,215.45 1817.5,221.03 1817.77,223.43 1818.03,226.86 1818.3,225.09 1818.57,231.47 1818.83,234.55 1819.1,235.37 1819.36,236 1819.63,239.25 1819.89,239.17 1820.16,246.91 1820.43,251.81 1820.69,251.27 1820.96,253.16 1821.22,257.01 1821.49,259.11 1821.76,262.69 1822.02,267.76 1822.29,269.8 1822.55,270.35 1822.82,273.62 1823.08,278.23 1823.35,281.33 1823.62,284.63 1823.88,283.82 1824.15,286.92 1824.41,291.84 1824.68,291.99 1824.95,295.9 1825.21,299.22 1825.48,295.28 1825.74,299.55 1826.01,303.54 1826.27,302.53 1826.54,307.88 1826.8,314.09 1827.05,309.05 1827.31,312.25 1827.56,314.56 1827.82,315.56 1828.08,316.15 1828.33,316.68 1828.59,318.77 1828.84,319.26 1829.1,320.19 1829.36,321.87 1829.61,325.12 1829.87,324.32 1830.12,326.06 1830.38,329.92 1830.64,328.67 1830.89,331.65 1831.15,330.67 1831.41,333.79 1831.68,334.71 1831.94,336.39 1832.21,336.67 1832.48,337.73 1832.74,337.98 1833.01,337.31 1833.27,337.68 1833.54,342.7 1833.81,340.74 1834.07,340.68 1834.34,342.9 1834.6,347.06 1834.86,349.02 1835.11,349.54 1835.37,355.91 1835.63,359.38 1835.88,356.14 1836.14,362.12 1836.39,366.09 1836.65,367.38 1836.91,369.25 1837.16,372.71 1837.42,373.5 1837.67,378.34 1837.93,377.59 1838.19,379.09 1838.44,376.16 1838.7,379.31 1838.95,383.34 1839.21,380.57 1839.46,380.32 1839.71,385.12 1839.96,385.38 1840.21,383.7 1840.46,385.36 1840.71,386.3 1840.96,385.78 1841.21,383.35 1841.46,383.58 1841.71,384.19 1841.96,380.32 1842.21,385.51 1842.46,384.38 1842.72,384.52 1842.97,384.01 1843.22,384.67 1843.47,385.6 1843.72,386.2 1843.97,383.02 1844.22,385.82 1844.47,385.73 1844.72,385.18 1844.97,389.08 1845.22,386.4 1845.47,385.54 1845.73,387.42 1845.98,383.9 1846.23,385.04 1846.48,389.52 1846.74,385.7 1846.99,385.25 1847.24,386.25 1847.49,388.08 1847.75,385.11 1848,387.43 1848.25,389.07 1848.5,385.34 1848.76,387.14 1849.01,384.97 1849.26,386.24 1849.51,387 1849.77,384.82 1850.02,388.77 1850.27,386.08 1850.52,385.49 1850.78,385.16 1851.03,386.95 1851.28,387.66 1851.53,383.58 1851.79,387.29 1852.04,388.45 1852.29,384.83 1852.54,387.51 1852.79,387.75 1853.05,386.86 1853.3,389.22 1853.55,385.17 1853.8,392.06 1854.06,386.35 1854.31,386.25 1854.56,389.04 1854.81,381.15 1855.07,387.02 1855.32,389.46 1855.57,387.97 1855.82,383.45 1856.08,388.16 1856.33,386.96 1856.58,386.44 1856.83,388.03 1857.09,389.38 1857.34,385.01 1857.59,387.92 1857.84,388.8 1858.1,384.5 1858.35,386.11 1858.6,385.21 1858.85,387.52 1859.11,387.92 1859.36,385.3 1859.61,388.64 1859.86,387.65 1860.12,387.45 1860.37,389.12 1860.62,389.75 1860.87,392.64 1861.13,388.2 1861.38,386.76 1861.63,389.28 1861.88,388.7 1862.14,386.18 1862.39,387.25 1862.64,384.45 1862.89,388.58 1863.15,390.6 1863.4,388.78 1863.65,387.31 1863.9,390.41 1864.15,385.76 1864.4,389.08 1864.65,387.47 1864.9,386.32 1865.15,386.03 1865.41,390.5 1865.66,388.6 1865.91,388.35 1866.16,389.01 1866.41,386.58 1866.66,388.25 1866.91,385.54 1867.16,388.06 1867.41,390.48 1867.66,390.47 1867.91,387.97 1868.17,385.29 1868.42,389.9 1868.67,388.24 1868.92,387.22 1869.17,390.02 1869.42,387.44 1869.67,387.38 1869.92,388.06 1870.17,389.07 1870.42,387.62 1870.67,388.86 1870.93,389.5 1871.18,387.46 1871.43,388.78 1871.68,387.91 1871.93,389.58 1872.18,388.64 1872.43,383.2 1872.68,387.26 1872.93,387.89 1873.18,387.38 1873.44,389.96 1873.69,391.73 1873.94,386.65 1874.19,385.22 1874.44,388.31 1874.69,388.16 1874.94,388.98 1875.19,387.66 1875.44,391.7 1875.69,388.04 1875.94,387.85 1876.2,389.13 1876.45,386.65 1876.7,390.92 1876.95,386.56 1877.2,386.3 1877.45,389.97 1877.7,387.05 1877.95,386.18 1878.2,388.15 1878.45,389.37 1878.7,390.88 1878.96,387.75 1879.21,389.64 1879.46,391.19 1879.71,387.33 1879.96,388.49 1880.21,389.7 1880.46,388.93 1880.71,392.23 1880.96,389.48 1881.21,391.48 1881.46,388.05 1881.72,388.03 1881.97,390.32 1882.22,387.24 1882.47,390.85 1882.72,388.7 1882.97,390.52 1883.22,389.99 1883.47,393.07 1883.72,390.26 1883.97,390.02 1884.22,387.42 1884.48,388.98 1884.73,390.88 1884.98,390.04 1885.23,389.45 1885.48,392.22 1885.73,390.54 1885.98,391.51 1886.23,391.69 1886.48,393.01 1886.73,391.41 1886.99,391.73 1887.24,389.38 1887.49,392.69 1887.74,390.83 1887.99,389.37 1888.24,391.29 1888.49,388.1 1888.74,392.38 1888.99,392.57 1889.24,389.26 1889.49,387.94 1889.75,391.54 1890,388.62 1890.25,390.51 1890.5,390.63 1890.75,389.21 1891,391.22 1891.25,390.29 1891.5,391.39" fill="none" stroke="#231f20" stroke-width="2.5" stroke-linejoin="round"/>
<polyline points="1633.5,388.99 1634,386.42 1634.5,382.72 1635,383.71 1635.51,383.14 1636.01,386.97 1636.51,381.82 1637.02,384.76 1637.52,383.63 1638.02,382.97 1638.52,383.72 1639.03,380.26 1639.53,384.5 1640.03,385.21 1640.53,382.85 1641.04,382.4 1641.54,384.41 1642.04,381.56 1642.54,385.57 1643.05,386.76 1643.55,383.34 1644.05,382.9 1644.55,383.9 1645.06,383.65 1645.56,384.61 1646.06,385.12 1646.56,380.75 1647.06,379.56 1647.56,383.53 1648.06,385.67 1648.56,383.52 1649.06,379.7 1649.56,379.64 1650.06,379.24 1650.56,381.91 1651.06,381.66 1651.57,382.8 1652.07,382.47 1652.57,381.12 1653.07,382.17 1653.57,381.27 1654.07,384.83 1654.57,381.88 1655.07,383.05 1655.57,383.61 1656.07,386.62 1656.57,381.59 1657.07,383.6 1657.57,378.12 1658.08,381.38 1658.58,385.57 1659.08,382.65 1659.58,386.83 1660.08,383.12 1660.58,384.42 1661.08,386.24 1661.58,382.11 1662.08,384.87 1662.58,381.59 1663.08,381.41 1663.58,383.33 1664.08,382.23 1664.59,387.31 1665.09,385.48 1665.59,386.79 1666.09,387.8 1666.59,384.98 1667.09,385.22 1667.59,381.26 1668.09,387.5 1668.59,384.58 1669.09,386.24 1669.59,386.95 1670.09,387.36 1670.6,386.37 1671.1,386.32 1671.6,387.72 1672.1,387.19 1672.6,389.97 1673.1,381.76 1673.6,384.62 1674.1,384.47 1674.6,384.46 1675.1,386.18 1675.6,391.52 1676.1,389.18 1676.6,390.39 1677.11,387.56 1677.61,384.95 1678.11,384.57 1678.61,379.2 1679.11,385.91 1679.61,385.61 1680.12,387.75 1680.62,390.66 1681.12,389.18 1681.63,384.96 1682.13,388.13 1682.64,385.76 1683.14,388.29 1683.64,386.06 1684.15,389.03 1684.65,384.77 1685.16,382.8 1685.66,386.01 1686.16,386.25 1686.67,384.14 1687.17,388.34 1687.68,386.06 1688.18,385.29 1688.68,382.73 1689.19,389.78 1689.69,389.27 1690.19,391.4 1690.7,387.31 1691.2,390.62 1691.71,389.75 1692.21,385.69 1692.71,389.45 1693.22,387.21 1693.72,386.86 1694.23,387.93 1694.73,391.24 1695.23,388.33 1695.74,389.37 1696.24,386.95 1696.75,395.74 1697.25,385.6 1697.75,386.68 1698.26,387.37 1698.76,388.76 1699.27,383.99 1699.77,392.67 1700.27,390.75 1700.78,390.13 1701.28,388.86 1701.78,389.6 1702.29,390.84 1702.79,385.38 1703.3,384.93 1703.8,388.59 1704.3,387.96 1704.81,392.11 1705.31,388.52 1705.82,393.38 1706.32,389.56 1706.82,388.15 1707.33,386.58 1707.83,387.31 1708.34,390.28 1708.84,386.63 1709.34,386.55 1709.85,393.32 1710.35,388.02 1710.86,390.56 1711.36,388.94 1711.94,392.94 1712.51,384.85 1713.09,379.23 1713.66,379.93 1714.24,374.57 1714.81,366.2 1715.39,363.57 1715.97,354.05 1716.54,343.52 1717.12,334.47 1717.69,324.35 1718.27,318.84 1718.85,310.64 1719.42,310.17 1720,302.42 1720.57,298.02 1721.15,294.3 1721.73,293.42 1722.3,294.41 1722.88,293.69 1723.45,294.51 1724.03,299.66 1724.6,303.7 1725.18,307.73 1725.69,316.75 1726.2,309.71 1726.72,313.68 1727.23,317.37 1727.74,317.62 1728.25,324.08 1728.76,327.07 1729.28,326.37 1729.79,328.49 1730.31,333.33 1730.84,332.89 1731.36,345.29 1731.88,335.43 1732.41,339.63 1732.93,342.53 1733.45,345.46 1733.98,347.15 1734.5,350.64 1735.02,350.38 1735.55,354.69 1736.05,355.04 1736.55,357.45 1737.06,353.55 1737.56,358.38 1738.07,359.16 1738.57,360.86 1739.07,362.1 1739.58,354.76 1740.08,364.57 1740.59,364.24 1741.09,362.92 1741.59,365.67 1742.1,365.8 1742.6,364.1 1743.11,371.61 1743.61,367.82 1744.14,368.34 1744.67,375.77 1745.2,375.84 1745.74,375.2 1746.27,374 1746.8,375.85 1747.33,375.51 1747.86,375.61 1748.39,378.74 1748.93,380.21 1749.46,378.29 1749.99,379.37 1750.52,383.64 1751.05,380.47 1751.58,376.51 1752.12,382.76 1752.65,377.44 1753.18,376.02 1753.71,380.38 1754.24,375.7 1754.77,381.52 1755.31,374.72 1755.84,373.74 1756.37,376.71 1756.9,376.1 1757.43,374.27 1757.94,374.05 1758.46,374.65 1758.97,369.21 1759.48,373.31 1759.99,375.65 1760.5,372.1 1761.01,375.01 1761.53,374.16 1762.04,376.38 1762.55,368.3 1763.06,370 1763.57,374.64 1764.09,377 1764.6,377 1765.11,377.84 1765.62,375.83 1766.13,375.16 1766.65,375.07 1767.16,378.51 1767.67,375.45 1768.18,376.35 1768.69,378.06 1769.21,374.64 1769.72,378.71 1770.23,387.2 1770.74,378.23 1771.25,380.02 1771.77,376.64 1772.28,375.65 1772.79,379.18 1773.3,385.06 1773.81,379.25 1774.32,377.86 1774.84,379.46 1775.35,373.72 1775.86,376.29 1776.37,386.87 1776.88,378.17 1777.4,384.71 1777.91,386.13 1778.42,381.76 1778.93,379.82 1779.44,379.61 1779.96,382.39 1780.47,381.91 1780.98,378.25 1781.49,384.06 1782,384.68 1782.52,384.79 1783.03,376.62 1783.54,377.85 1784.05,384.65 1784.56,384.93 1785.07,385.54 1785.59,385.28 1786.1,384.55 1786.61,386.19 1787.12,383.95 1787.63,383.25 1788.15,385.67 1788.66,386.13 1789.17,387.48 1789.68,385.33 1790.19,386.91 1790.71,384.35 1791.22,389.6 1791.73,386.82 1792.24,386.25 1792.75,391.81 1793.27,385.19 1793.78,390.41 1794.29,391.5 1794.84,383.11 1795.4,373.74 1795.95,372.65 1796.5,367.88 1797.05,370.23 1797.65,358.91 1798.25,353.24 1798.85,349.83 1799.45,341.49 1800.05,338.81 1800.62,339.15 1801.2,342.96 1801.78,342.7 1802.35,344.69 1802.93,348.44 1803.5,353.46 1804.08,350.12 1804.66,353.73 1805.23,355.93 1805.81,357.3 1806.38,363.77 1806.96,351.41 1807.5,343.43 1808.03,327.32 1808.57,304.44 1809.15,291.33 1809.72,268.38 1810.3,248.92 1810.88,228.32 1811.45,215.08 1812.03,202.69 1812.6,195.21 1813.18,196.96 1813.78,193.33 1814.38,196.47 1814.98,202.79 1815.57,204.53 1816.17,208.78 1816.75,214.54 1817.33,216.94 1817.9,225.64 1818.48,231.15 1819.05,237.83 1819.63,241.48 1820.21,244.06 1820.78,251.69 1821.36,257.12 1821.93,263.54 1822.51,268.93 1823.08,280.48 1823.66,283.79 1824.24,284.72 1824.81,291.36 1825.39,294.14 1825.96,297.43 1826.54,314.07 1827.05,309.96 1827.56,312.11 1828.08,314.46 1828.59,318.48 1829.1,323.72 1829.61,322.88 1830.12,325.47 1830.64,330.35 1831.15,333.89 1831.72,336.22 1832.3,334.09 1832.87,343.65 1833.45,340.41 1834.03,344.07 1834.6,352.02 1835.18,351.23 1835.75,357.09 1836.33,362.64 1836.91,371.93 1837.48,370.52 1838.06,382.15 1838.63,380.19 1839.21,379.45 1839.73,380.7 1840.26,377.99 1840.78,384.13 1841.3,389.29 1841.83,382.25 1842.35,382.22 1842.87,387.66 1843.4,384.03 1843.92,386.42 1844.45,383.76 1844.97,386.15 1845.48,381.02 1845.99,381.5 1846.5,388.75 1847.02,390.55 1847.53,389.09 1848.04,385.35 1848.55,386.88 1849.06,383.34 1849.58,386.79 1850.09,384.02 1850.6,387.03 1851.11,388.55 1851.62,391.18 1852.14,387.79 1852.65,385.62 1853.16,384.4 1853.67,385.26 1854.18,388.36 1854.7,386.33 1855.21,386.07 1855.72,388.2 1856.23,388.88 1856.74,384.91 1857.25,390.55 1857.77,386.49 1858.28,387.22 1858.79,387.16 1859.3,393.91 1859.81,390.18 1860.33,387.77 1860.84,387.03 1861.35,384.64 1861.86,388.64 1862.37,385.71 1862.89,389.66 1863.4,389.05 1863.9,390.9 1864.4,390.86 1864.9,388.69 1865.41,383.18 1865.91,387.54 1866.41,391.51 1866.91,387.74 1867.41,388.29 1867.91,388.08 1868.42,388.75 1868.92,387.66 1869.42,389.93 1869.92,386.26 1870.42,389.2 1870.93,391.62 1871.43,385.95 1871.93,386.25 1872.43,391.24 1872.93,387.89 1873.44,392.63 1873.94,386.7 1874.44,383.85 1874.94,387.31 1875.44,389.06 1875.94,386.8 1876.45,389.68 1876.95,391.11 1877.45,390.26 1877.95,383.28 1878.45,392.88 1878.96,389.17 1879.46,394.12 1879.96,390.43 1880.46,390.24 1880.96,393.62 1881.46,388.92 1881.97,392.84 1882.47,390.23 1882.97,389.16 1883.47,387.87 1883.97,389.1 1884.48,391.52 1884.98,384.42 1885.48,389.6 1885.98,391.62 1886.48,390.26 1886.99,391 1887.49,386.24 1887.99,388.06 1888.49,392.07 1888.99,385.28 1889.49,389.64 1890,385.18 1890.5,391.34 1891,389.93 1891.5,387.02" fill="none" stroke="#231f20" stroke-width="0.8" stroke-linejoin="miter"/>
<line x1="1633.5" y1="166.4" x2="1633.5" y2="397.45" stroke="#000" stroke-width="1.9"/>
<line x1="1621.5" y1="186.7" x2="1633.5" y2="186.7" stroke="#000" stroke-width="1.9"/>
<line x1="1621.5" y1="228.6" x2="1633.5" y2="228.6" stroke="#000" stroke-width="1.9"/>
<line x1="1621.5" y1="270.5" x2="1633.5" y2="270.5" stroke="#000" stroke-width="1.9"/>
<line x1="1621.5" y1="313.1" x2="1633.5" y2="313.1" stroke="#000" stroke-width="1.9"/>
<line x1="1621.5" y1="353.4" x2="1633.5" y2="353.4" stroke="#000" stroke-width="1.9"/>
<line x1="1621.5" y1="396.5" x2="1633.5" y2="396.5" stroke="#000" stroke-width="1.9"/>
<line x1="1634.9" y1="402.3" x2="1928.6" y2="402.3" stroke="#000" stroke-width="1.9"/>
<line x1="1654.9" y1="402.3" x2="1654.9" y2="407.8" stroke="#000" stroke-width="1.8"/>
<line x1="1701.9" y1="402.3" x2="1701.9" y2="407.8" stroke="#000" stroke-width="1.8"/>
<line x1="1748.2" y1="402.3" x2="1748.2" y2="407.8" stroke="#000" stroke-width="1.8"/>
<line x1="1794.3" y1="402.3" x2="1794.3" y2="407.8" stroke="#000" stroke-width="1.8"/>
<line x1="1840.1" y1="402.3" x2="1840.1" y2="407.8" stroke="#000" stroke-width="1.8"/>
<line x1="1886.2" y1="402.3" x2="1886.2" y2="407.8" stroke="#000" stroke-width="1.8"/>
<text x="1645.7" y="172.6" font-size="27.5"><tspan font-style="italic">Hi-1</tspan><tspan font-size="16" dy="-10">+/-</tspan></text>
<polyline points="1311.19,675.98 1311.44,675.66 1311.7,674.35 1311.95,675.35 1312.2,673.81 1312.45,676.09 1312.7,674.96 1312.95,674.87 1313.2,674.11 1313.46,676.38 1313.71,672.5 1313.96,673.58 1314.21,674.89 1314.46,674.83 1314.71,675.25 1314.96,673.83 1315.21,672.06 1315.47,672.4 1315.72,672.45 1315.97,672.95 1316.22,674.83 1316.47,672.76 1316.72,674.17 1316.97,675.81 1317.22,673.89 1317.48,672.59 1317.73,673.56 1317.98,672.97 1318.23,671.71 1318.48,673.71 1318.73,672.17 1318.98,673.54 1319.23,672.51 1319.49,673.48 1319.74,673.91 1319.99,673.54 1320.24,675.09 1320.49,673.42 1320.74,672.26 1320.99,674.39 1321.25,672.83 1321.5,673.78 1321.75,672.91 1322,674.17 1322.25,674.55 1322.5,672.78 1322.75,671.69 1323,673.67 1323.26,673.24 1323.51,673.8 1323.76,673 1324.01,674.63 1324.26,673.09 1324.51,671.86 1324.76,674.91 1325.01,672.31 1325.27,672.25 1325.52,673.92 1325.77,673.21 1326.02,672.03 1326.27,673.12 1326.52,675.87 1326.77,673.04 1327.03,673.65 1327.28,673.69 1327.53,673.83 1327.78,671.58 1328.03,674.57 1328.28,672.58 1328.53,673.43 1328.78,673.05 1329.04,672.5 1329.29,672.11 1329.54,671.78 1329.79,672.34 1330.04,671.92 1330.29,673.07 1330.54,674.56 1330.79,674.9 1331.05,673.92 1331.3,675.22 1331.55,674.62 1331.8,674.84 1332.05,671.66 1332.3,673.55 1332.55,672.3 1332.81,673.19 1333.06,673.23 1333.31,671.84 1333.56,673.36 1333.81,673.34 1334.06,677.32 1334.31,674.22 1334.56,673.33 1334.82,675.27 1335.07,671.99 1335.32,669.87 1335.57,675.7 1335.82,675.49 1336.07,672.82 1336.32,671.17 1336.57,673.1 1336.82,674.63 1337.07,674.02 1337.32,671.9 1337.57,674.37 1337.83,673.63 1338.08,673.84 1338.33,672.47 1338.58,674.54 1338.83,673.7 1339.08,674.56 1339.33,675.69 1339.58,676.53 1339.83,672.87 1340.08,672.09 1340.33,672.98 1340.58,674.15 1340.83,673.56 1341.08,673.07 1341.33,672.6 1341.58,674.92 1341.83,673.04 1342.08,675.03 1342.33,674.67 1342.58,675.44 1342.83,673.53 1343.08,676.53 1343.33,672.18 1343.58,673.76 1343.83,671.95 1344.08,676.26 1344.34,675.47 1344.59,674.29 1344.84,671.89 1345.09,672.75 1345.34,672.52 1345.59,674.4 1345.84,675.1 1346.09,672.98 1346.34,677.03 1346.59,674.23 1346.84,674.85 1347.09,673.84 1347.34,676.06 1347.59,675.86 1347.84,673.85 1348.09,674.03 1348.34,674.64 1348.59,672.38 1348.84,674.8 1349.09,673.63 1349.34,672.51 1349.59,674 1349.84,676.12 1350.09,676.28 1350.34,676.27 1350.6,675.52 1350.85,674.89 1351.1,677.16 1351.35,673.45 1351.6,674.86 1351.85,675.78 1352.1,674.48 1352.35,674.51 1352.6,676.03 1352.85,674.51 1353.1,674.2 1353.35,675.86 1353.6,675.24 1353.85,672.73 1354.1,674.69 1354.35,674.19 1354.6,675.22 1354.85,673.67 1355.1,676.79 1355.35,674.07 1355.6,672.2 1355.85,673.19 1356.1,674.52 1356.35,674.81 1356.6,675.74 1356.85,675.14 1357.11,676.78 1357.36,675.06 1357.61,676 1357.86,674.58 1358.11,674.29 1358.36,675.76 1358.61,678.25 1358.86,675.26 1359.11,675.15 1359.36,672.35 1359.61,675.23 1359.86,677.66 1360.11,676.06 1360.36,673.18 1360.61,672.72 1360.86,672.7 1361.11,675.27 1361.37,675.17 1361.62,675.15 1361.87,674.5 1362.12,675.85 1362.37,675.47 1362.62,675.23 1362.87,676.68 1363.12,675.12 1363.37,674.57 1363.62,676.25 1363.87,675.21 1364.12,674.55 1364.38,675.72 1364.63,673.57 1364.88,678.21 1365.13,674.61 1365.38,674.05 1365.63,677.41 1365.88,673.68 1366.13,676.35 1366.38,675.27 1366.63,676.99 1366.88,677.31 1367.13,675.05 1367.38,676.84 1367.64,676.1 1367.89,673.69 1368.14,672.73 1368.39,673.96 1368.64,678.39 1368.89,674.93 1369.14,675.72 1369.39,683.62 1369.64,677.91 1369.89,673.73 1370.14,677.16 1370.39,676.39 1370.65,672.39 1370.9,675.61 1371.15,675.73 1371.4,676.93 1371.65,677.46 1371.9,675.55 1372.15,675.49 1372.4,675.6 1372.65,673.7 1372.9,675.96 1373.15,679.04 1373.4,673.86 1373.65,677.25 1373.91,673.91 1374.16,675.86 1374.41,675.69 1374.66,676.1 1374.91,676.96 1375.16,678 1375.41,678.59 1375.66,674.78 1375.91,677.24 1376.16,676.13 1376.41,676.78 1376.66,676.14 1376.92,677.96 1377.17,677.09 1377.42,675.26 1377.67,675.48 1377.92,675.73 1378.17,676.6 1378.42,674.56 1378.67,677.89 1378.92,675.93 1379.17,674.63 1379.42,679.52 1379.67,674.04 1379.92,676.41 1380.18,679.07 1380.43,678.28 1380.68,677.96 1380.93,676.86 1381.18,676.23 1381.43,676.97 1381.68,675.8 1381.93,674.49 1382.18,676.97 1382.43,676.04 1382.68,677.92 1382.93,677.26 1383.19,674.83 1383.44,677.63 1383.69,678.18 1383.94,674.9 1384.19,674.38 1384.44,676.26 1384.69,675.93 1384.94,675.86 1385.19,676.51 1385.44,677.15 1385.69,676.02 1385.94,676.42 1386.19,677.87 1386.45,675.35 1386.7,676.27 1386.95,677.97 1387.2,677.77 1387.45,677.53 1387.7,674.42 1387.95,677.09 1388.2,675.67 1388.45,676.71 1388.7,675.56 1388.95,677.02 1389.2,676.08 1389.45,675.83 1389.71,677.46 1389.96,675.81 1390.21,677.84 1390.46,673.71 1390.72,671.39 1390.98,669.92 1391.23,665.34 1391.49,662.5 1391.74,658.7 1392,656.89 1392.25,652.45 1392.51,645.67 1392.77,637.89 1393.02,631.4 1393.28,619.28 1393.53,609.81 1393.79,599.53 1394.05,589.33 1394.3,580.01 1394.56,568.01 1394.81,560.77 1395.07,550.13 1395.33,543.26 1395.58,532.06 1395.84,526.89 1396.09,518.59 1396.35,514.21 1396.61,504.26 1396.86,497.48 1397.12,487.37 1397.39,486.86 1397.66,481.52 1397.92,478.06 1398.19,473.43 1398.46,470.54 1398.73,471.58 1398.99,468.49 1399.26,470.31 1399.52,472.24 1399.78,474.23 1400.05,476.27 1400.31,478.08 1400.57,481.2 1400.84,483.9 1401.11,483.31 1401.37,487.09 1401.64,490.48 1401.9,496.4 1402.17,498.08 1402.43,503.56 1402.7,505.87 1402.97,506.91 1403.23,509.3 1403.5,511.98 1403.76,515.25 1404.03,519.56 1404.28,522.13 1404.54,527.55 1404.8,528.72 1405.05,533.74 1405.31,531.9 1405.56,536.02 1405.82,539.41 1406.08,541.72 1406.33,545.19 1406.59,547.99 1406.84,549.75 1407.1,552.69 1407.36,555.11 1407.61,558.25 1407.87,562.62 1408.12,563.01 1408.38,569.17 1408.64,569.38 1408.89,571.2 1409.15,573.85 1409.4,575.47 1409.66,575.34 1409.92,579.28 1410.17,581.28 1410.43,583.72 1410.68,585.41 1410.94,588.02 1411.2,588.2 1411.45,592.37 1411.71,594.49 1411.96,593.66 1412.22,596.81 1412.48,598.12 1412.73,600.57 1412.99,602.48 1413.24,602.4 1413.49,605.88 1413.74,607 1413.99,608.43 1414.25,610.57 1414.5,610.76 1414.75,611.33 1415,614.68 1415.25,613.73 1415.5,615.62 1415.75,618.76 1416,618.76 1416.25,621.59 1416.5,623.89 1416.75,622.72 1417,626.37 1417.25,625.12 1417.5,629.23 1417.75,631.81 1418,631.8 1418.25,631.17 1418.5,634.72 1418.75,634.02 1419,635.94 1419.26,640.97 1419.51,637.84 1419.77,638.53 1420.03,640.3 1420.28,640.72 1420.54,639.86 1420.79,643.03 1421.05,644.2 1421.31,643.08 1421.56,645.53 1421.82,647.83 1422.07,647 1422.33,645.78 1422.59,645.6 1422.84,646.56 1423.1,648.89 1423.35,648.09 1423.61,649.49 1423.87,651.24 1424.12,648.41 1424.38,652.48 1424.63,652.26 1424.89,654.78 1425.15,654.89 1425.4,655.2 1425.66,657.86 1425.91,657.06 1426.17,655.66 1426.43,659.24 1426.68,658.36 1426.94,658.5 1427.19,655.03 1427.45,658.71 1427.71,660.21 1427.96,657.12 1428.22,660.93 1428.47,661.71 1428.73,659.43 1428.98,660.73 1429.24,660.69 1429.5,658.05 1429.75,661.02 1430.01,661.11 1430.26,661.3 1430.52,660.38 1430.78,661.05 1431.03,660.27 1431.29,661.97 1431.54,660.74 1431.8,659.41 1432.06,662.2 1432.31,664.97 1432.57,664.21 1432.82,663.32 1433.08,662.57 1433.33,662.01 1433.58,662.54 1433.83,663.1 1434.08,664.74 1434.33,661.98 1434.58,663.44 1434.83,664.12 1435.09,662.27 1435.34,664.3 1435.59,664.15 1435.84,661.49 1436.09,664.9 1436.34,664.67 1436.59,664.57 1436.85,662.32 1437.1,664.94 1437.35,665.49 1437.6,663.13 1437.85,664.13 1438.1,663.81 1438.35,665.08 1438.6,662.48 1438.86,663.9 1439.11,666.34 1439.36,662.7 1439.61,665.25 1439.86,662.77 1440.11,664.06 1440.36,659.57 1440.61,662.67 1440.87,667.12 1441.12,664.71 1441.37,664.05 1441.62,665.5 1441.87,664.45 1442.12,663.34 1442.37,665.12 1442.63,666.25 1442.88,665.26 1443.13,661.76 1443.38,665.76 1443.63,662.07 1443.88,663.41 1444.13,665.76 1444.38,664.2 1444.64,664.58 1444.89,663.23 1445.14,665.31 1445.39,663.22 1445.64,666.47 1445.89,665.84 1446.14,665.22 1446.39,664.04 1446.65,664.84 1446.9,666.82 1447.15,664.65 1447.4,665.64 1447.65,665.64 1447.9,666.48 1448.15,664.77 1448.41,667.89 1448.66,666.32 1448.91,665.62 1449.16,665.85 1449.41,667.07 1449.66,664.92 1449.91,666.96 1450.16,666.18 1450.42,666.57 1450.67,669.23 1450.92,669.2 1451.17,667 1451.42,667.01 1451.67,668.07 1451.92,665.78 1452.17,668 1452.43,667.29 1452.68,667.77 1452.93,668.56 1453.18,667.47 1453.43,667.23 1453.68,667.6 1453.93,666 1454.19,668.87 1454.44,667.94 1454.69,667.83 1454.94,665.52 1455.19,665.04 1455.44,669.19 1455.69,669.82 1455.94,666.85 1456.2,668.72 1456.45,667.14 1456.7,668.62 1456.95,670.62 1457.2,668.95 1457.45,666.42 1457.7,667.42 1457.95,668.22 1458.21,669.44 1458.46,669.3 1458.71,670.19 1458.96,670.01 1459.21,670.75 1459.46,671.1 1459.71,670.82 1459.97,670.2 1460.22,669.8 1460.47,670.82 1460.72,670.81 1460.97,670.2 1461.22,669.59 1461.47,672.47 1461.72,669.39 1461.97,670.9 1462.22,670.26 1462.47,670.25 1462.72,671.47 1462.97,670.96 1463.22,671.59 1463.47,670.59 1463.72,671.66 1463.97,673.74 1464.22,672.06 1464.47,672.03 1464.72,673.39 1464.97,669.62 1465.23,671.4 1465.48,672.33 1465.73,673.19 1465.98,673.47 1466.23,675.19 1466.48,674.65 1466.73,673.05 1466.98,674.09 1467.23,673.77 1467.48,675.22 1467.73,674.52 1467.98,675.14 1468.23,674.66 1468.48,675.44 1468.73,676.2 1468.98,676.22 1469.23,679.47 1469.48,677.54 1469.73,674.91 1469.98,673.74 1470.23,675.38 1470.48,676.35 1470.73,676.28 1470.98,677.83 1471.23,676.81 1471.48,678.73 1471.74,674.56 1471.99,677.14 1472.24,674.11 1472.5,673.68 1472.75,671.3 1473.01,669.24 1473.27,668.41 1473.52,665.97 1473.78,665.59 1474.03,665.34 1474.29,659.04 1474.55,658.09 1474.8,654.53 1475.06,652.22 1475.31,650.42 1475.57,643.58 1475.83,645.66 1476.08,642.3 1476.34,636.49 1476.59,636.04 1476.85,634.29 1477.1,634.04 1477.36,630.97 1477.62,631.41 1477.87,631.02 1478.13,631.13 1478.38,631.03 1478.64,628.61 1478.9,629.55 1479.16,626.84 1479.43,628.57 1479.69,630.58 1479.96,629.57 1480.23,630.16 1480.49,630.47 1480.76,629.8 1481.02,633.37 1481.29,632.55 1481.55,636.3 1481.82,634.86 1482.09,635.68 1482.35,636.67 1482.61,638.14 1482.86,640.18 1483.12,641.69 1483.38,643.67 1483.63,645.29 1483.89,645.14 1484.14,647.27 1484.4,646.68 1484.66,643.75 1484.92,640.57 1485.19,635.04 1485.46,626.64 1485.73,619.45 1486,613.84 1486.27,607.3 1486.52,601.3 1486.78,594.18 1487.04,587.16 1487.29,583.03 1487.55,578.29 1487.8,574.49 1488.06,568.86 1488.32,563.91 1488.57,560.45 1488.83,555.81 1489.08,550.7 1489.34,548.86 1489.6,548.26 1489.85,543.29 1490.11,542.18 1490.36,540.74 1490.62,537.41 1490.88,535.35 1491.15,535.07 1491.43,532.33 1491.7,530.56 1491.98,529.53 1492.26,530.62 1492.51,529.56 1492.76,532.68 1493.01,535.59 1493.26,537.05 1493.51,538.54 1493.77,540.65 1494.02,542.84 1494.27,541.08 1494.52,547.07 1494.77,547.79 1495.02,552.94 1495.29,552.85 1495.55,553.62 1495.82,551.41 1496.09,555.08 1496.35,557.02 1496.62,559.06 1496.88,561.17 1497.15,562.67 1497.41,565.54 1497.68,567.37 1497.95,568.13 1498.21,567.91 1498.48,571.28 1498.74,574.02 1499.01,574.28 1499.27,576.49 1499.54,579.34 1499.81,584.55 1500.07,581.79 1500.34,584.11 1500.6,587.39 1500.87,588.37 1501.14,589.35 1501.4,591.51 1501.67,592.92 1501.93,593.97 1502.19,595.11 1502.44,597.15 1502.7,599.08 1502.96,599.64 1503.21,601.43 1503.47,601.89 1503.72,604.33 1503.98,604.78 1504.24,606.88 1504.49,611.32 1504.75,613.6 1505,613.19 1505.26,613.46 1505.52,613.13 1505.77,614.05 1506.03,619.37 1506.28,616.58 1506.54,621.61 1506.8,620.9 1507.05,623.94 1507.31,623.12 1507.56,625.2 1507.82,626.12 1508.08,627.2 1508.33,628.31 1508.59,628.33 1508.84,629.72 1509.1,631.74 1509.36,630.36 1509.61,634.92 1509.87,633.28 1510.12,633.69 1510.38,635.92 1510.64,636.56 1510.89,637.15 1511.15,640.71 1511.4,638.33 1511.66,641.72 1511.92,644.7 1512.17,644.93 1512.43,645.41 1512.68,646.63 1512.94,647.66 1513.19,648.79 1513.45,652.89 1513.71,651.62 1513.96,653 1514.22,656.64 1514.47,659.71 1514.73,660.85 1514.99,664.4 1515.24,666.04 1515.5,669.54 1515.75,669.35 1516.01,670.56 1516.27,670.68 1516.52,673.22 1516.78,672.94 1517.03,673.79 1517.29,673.79 1517.55,676.14 1517.8,673.12 1518.06,673.96 1518.31,674.69 1518.56,673.65 1518.81,673.59 1519.06,673.96 1519.31,673.3 1519.56,674.55 1519.81,674.95 1520.07,673.07 1520.32,675.6 1520.57,668.84 1520.82,675.02 1521.07,674.62 1521.32,675.32 1521.57,674.18 1521.82,677.24 1522.07,672.27 1522.32,676.94 1522.57,676.18 1522.82,673.62 1523.08,674.83 1523.33,674.53 1523.58,675.4 1523.83,675.16 1524.08,675.12 1524.33,675.72 1524.58,676.18 1524.83,675.38 1525.08,672.8 1525.33,673.81 1525.58,674.41 1525.84,673.09 1526.09,675.16 1526.34,674.88 1526.59,674.21 1526.84,675.44 1527.09,675.38 1527.34,675.52 1527.59,673.27 1527.84,677.23 1528.09,676.08 1528.34,674.84 1528.6,675.61 1528.85,674.76 1529.1,676.53 1529.35,673.52 1529.6,676.96 1529.85,675 1530.1,674.7 1530.35,673.39 1530.6,674.81 1530.85,674.49 1531.1,674.67 1531.36,673.42 1531.61,673.53 1531.86,674.37 1532.11,672.56 1532.36,673.82 1532.61,674.14 1532.86,675.85 1533.11,676.66 1533.36,675.57 1533.61,674.17 1533.86,675.09 1534.11,673.82 1534.37,676.99 1534.62,675.02 1534.87,676.05 1535.12,673.35 1535.37,675.67 1535.62,675.6 1535.87,675.84 1536.12,676.88 1536.37,673.2 1536.62,676.15 1536.87,675.47 1537.13,675.05 1537.38,675.08 1537.63,675.13 1537.88,673.72 1538.13,674.31 1538.38,674.24 1538.63,675.49 1538.88,673.45 1539.13,677.75 1539.38,676.45 1539.63,677 1539.89,675.85 1540.14,676.26 1540.39,674.98 1540.64,674.32 1540.89,675.26 1541.14,676.24 1541.39,673.61 1541.64,676.61 1541.89,675.72 1542.14,676.15 1542.39,676.8 1542.65,674.67 1542.9,677.06 1543.15,675.91 1543.4,675.79 1543.65,675.85 1543.9,677.48 1544.15,676.3 1544.4,678.54 1544.65,675.19 1544.9,676.85 1545.15,676.25 1545.4,674.57 1545.65,675.31 1545.9,676.5 1546.15,674.03 1546.4,677.65 1546.65,673.57 1546.9,673.15 1547.16,677.47 1547.41,677.9 1547.66,677.27 1547.91,676.43 1548.16,675 1548.41,676.67 1548.66,677.03 1548.91,675.63 1549.16,676.63 1549.41,676.39 1549.66,675.36 1549.91,674.94 1550.16,678.26 1550.41,677.68 1550.66,673.99 1550.91,677.99 1551.16,675.41 1551.41,676.72 1551.66,674.06 1551.91,676.88 1552.16,676.33 1552.42,676.49 1552.67,676.74 1552.92,677.14 1553.17,674.12 1553.42,676.76 1553.67,676.51 1553.92,678.11 1554.17,676.21 1554.42,674 1554.67,674.83 1554.92,674.59 1555.17,674.53 1555.42,674.01 1555.67,676.03 1555.92,676.04 1556.17,676.37 1556.42,676.25 1556.67,675.13 1556.92,676.79 1557.17,676.8 1557.43,677.02 1557.68,678.32 1557.93,675.55 1558.18,675.49 1558.43,676.82 1558.68,675.91 1558.93,678.68 1559.18,675.87 1559.43,677.89 1559.68,678.44 1559.93,675.87 1560.18,677.44 1560.43,674.11 1560.68,678.23 1560.93,676.93 1561.18,673.45 1561.43,674.69 1561.68,676.18 1561.93,673.48 1562.18,676.43 1562.44,677.44 1562.69,679.4 1562.94,678.16 1563.19,676.08 1563.44,676.8 1563.69,676.96 1563.94,677.77 1564.19,675.12 1564.44,678.08 1564.69,675.95 1564.94,679.95 1565.19,674.62 1565.44,676.98 1565.69,675.35 1565.94,675.5 1566.19,675.95 1566.44,678.64 1566.69,676.51 1566.94,676.81 1567.19,677.02 1567.44,675.78 1567.7,677.47 1567.95,676.08 1568.2,678.12 1568.45,677.72 1568.7,676.03 1568.95,676.17 1569.2,678.7" fill="none" stroke="#231f20" stroke-width="2.5" stroke-linejoin="round"/>
<polyline points="1311.19,674.52 1311.7,675.16 1312.2,673.75 1312.7,673.68 1313.2,674.1 1313.71,674.74 1314.21,673.71 1314.71,674.68 1315.21,673.21 1315.72,674.07 1316.22,673.33 1316.72,675.2 1317.22,675.6 1317.73,672.48 1318.23,674.7 1318.73,670.47 1319.23,681.65 1319.74,671.96 1320.24,674.81 1320.74,674.91 1321.25,669.01 1321.75,671.89 1322.25,673.85 1322.76,674.01 1323.27,674.24 1323.79,673.71 1324.3,674.79 1324.81,674.07 1325.32,676.03 1325.83,674.12 1326.35,672.49 1326.86,676.54 1327.37,674.6 1327.88,673.26 1328.39,671.91 1328.91,673.4 1329.42,670.5 1329.93,673.66 1330.44,677.3 1330.95,673.21 1331.47,676.82 1331.98,680.61 1332.49,675.56 1333,672.85 1333.51,673.96 1334.02,676.13 1334.54,674.28 1335.05,673 1335.56,675.72 1336.07,675.37 1336.57,671.41 1337.07,674.28 1337.57,672.82 1338.08,673.97 1338.58,674.56 1339.08,673.91 1339.58,676.36 1340.08,680.34 1340.58,671.88 1341.08,670.97 1341.58,672.66 1342.08,674.25 1342.58,674.96 1343.08,677.08 1343.58,672.75 1344.08,675.22 1344.59,673 1345.09,677.64 1345.59,674.25 1346.09,671.87 1346.59,674.95 1347.09,676.42 1347.59,674.17 1348.09,673.72 1348.59,673.56 1349.09,676.13 1349.59,676.26 1350.09,669.18 1350.6,670.89 1351.1,675.09 1351.6,665.89 1352.1,675.79 1352.6,675.35 1353.1,670.4 1353.6,673.75 1354.1,676.77 1354.6,674.17 1355.1,674.95 1355.6,672.63 1356.1,674.5 1356.6,676.16 1357.11,674.27 1357.61,675.33 1358.11,676.72 1358.61,673.3 1359.11,672.99 1359.61,674.73 1360.11,673.6 1360.61,675.87 1361.11,678.84 1361.62,677.45 1362.12,677.66 1362.62,676.08 1363.12,675.11 1363.62,675.09 1364.12,674.88 1364.63,677.03 1365.13,675.62 1365.63,676.97 1366.13,674.2 1366.63,674.87 1367.13,680.5 1367.64,672.14 1368.14,675.03 1368.64,674.42 1369.14,673.37 1369.64,675.8 1370.14,677.67 1370.65,674.21 1371.15,675.88 1371.65,675.23 1372.15,680.21 1372.65,677.24 1373.15,676.61 1373.65,677.56 1374.16,675.72 1374.66,675.34 1375.16,677.7 1375.66,676.29 1376.16,675.57 1376.66,677.42 1377.17,675.44 1377.67,678.35 1378.17,678.88 1378.67,679.88 1379.17,679.09 1379.67,675.57 1380.18,677.16 1380.68,674.64 1381.18,675.18 1381.68,676.14 1382.18,674.59 1382.68,675.22 1383.19,674.97 1383.69,676.47 1384.19,673.51 1384.69,674.6 1385.19,677.26 1385.69,676.66 1386.19,675.92 1386.7,675.59 1387.2,677.6 1387.7,672.41 1388.2,674.48 1388.7,675.2 1389.2,673.45 1389.71,674.4 1390.21,675.61 1390.78,670.32 1391.36,664.92 1391.94,653.74 1392.51,647.17 1393.09,624.08 1393.66,605.89 1394.24,581.61 1394.81,561.42 1395.39,538.1 1395.97,522.28 1396.54,507.09 1397.12,496.31 1397.66,485.5 1398.19,474.7 1398.73,473 1399.35,472.87 1399.96,475.63 1400.57,481.9 1401.15,488.86 1401.73,493.34 1402.3,499.11 1402.88,505.87 1403.45,507.79 1404.03,520.46 1404.54,525.16 1405.05,530.86 1405.56,540.03 1406.08,542.21 1406.59,546.94 1407.1,552.14 1407.61,559.5 1408.12,563.94 1408.64,567.93 1409.15,571.44 1409.66,576.96 1410.17,582.55 1410.68,582.39 1411.2,588.38 1411.71,593.23 1412.22,598.53 1412.73,600.02 1413.24,599.42 1413.77,610.1 1414.29,607.68 1414.81,614.13 1415.34,616.04 1415.86,617.79 1416.38,620.24 1416.91,624.35 1417.43,627.41 1417.96,632.98 1418.48,633.27 1419,632.32 1419.53,640.13 1420.07,644.4 1420.6,645.86 1421.13,642.88 1421.66,646.08 1422.19,644.78 1422.72,651.09 1423.26,650.46 1423.79,647.99 1424.32,651.24 1424.85,654.1 1425.38,657.01 1425.91,656.8 1426.44,659.15 1426.98,657.26 1427.51,657.18 1428.04,661.67 1428.57,658.33 1429.1,661.03 1429.63,658.18 1430.17,659.89 1430.7,662.99 1431.23,665.26 1431.76,663.22 1432.29,661.98 1432.82,664.79 1433.34,664.25 1433.85,663.82 1434.36,662.03 1434.87,665.1 1435.38,664.09 1435.9,662.19 1436.41,662.77 1436.92,663.57 1437.43,664.46 1437.94,663.96 1438.46,667.7 1438.97,662.21 1439.48,664.66 1439.99,667.07 1440.5,665.5 1441.01,665.34 1441.53,664.27 1442.04,663.91 1442.55,663.62 1443.06,670.13 1443.57,666.13 1444.09,666.44 1444.6,662.74 1445.11,663.24 1445.62,663.85 1446.13,664.38 1446.65,666.85 1447.16,664.57 1447.67,664.87 1448.18,662.16 1448.69,668.74 1449.21,664.87 1449.72,664.79 1450.23,666.36 1450.74,665.6 1451.25,667.41 1451.77,668.81 1452.28,667.35 1452.79,669.2 1453.3,667.71 1453.81,668.64 1454.32,668.82 1454.84,666.89 1455.35,666.55 1455.86,668.49 1456.37,668.19 1456.88,667.2 1457.4,667.47 1457.91,669.71 1458.42,669.45 1458.93,668.72 1459.44,671.95 1459.96,670.77 1460.47,671.29 1460.97,671.82 1461.47,670.81 1461.97,672.57 1462.47,672.42 1462.97,672.33 1463.47,670.23 1463.97,674.55 1464.47,670.28 1464.97,674.38 1465.48,670.11 1465.98,677.42 1466.48,675.35 1466.98,672.81 1467.48,673.65 1467.98,671.95 1468.48,674.39 1468.98,674.63 1469.48,677.98 1469.98,676.51 1470.48,675.57 1470.98,675.75 1471.48,674.53 1471.99,676.31 1472.56,671.21 1473.14,670.91 1473.71,657.89 1474.29,662.15 1474.87,649.55 1475.44,649.84 1476.02,641.65 1476.59,636.16 1477.17,633.83 1477.74,630.64 1478.32,630.21 1478.9,627.7 1479.47,629.3 1480.05,631.25 1480.62,629.24 1481.2,634.13 1481.78,635.98 1482.35,637.74 1482.93,639.86 1483.5,643.55 1484.08,644.42 1484.66,638.44 1485.19,632.41 1485.73,619.12 1486.27,605.71 1486.84,590.94 1487.42,583.84 1488,568.6 1488.57,558.78 1489.15,555.6 1489.72,548.52 1490.3,538.04 1490.88,533.79 1491.57,532.84 1492.26,530.49 1492.81,533.93 1493.36,534.77 1493.92,543.72 1494.47,544.11 1495.02,550.42 1495.6,553.94 1496.17,554.51 1496.75,560.95 1497.33,567.3 1497.9,570.06 1498.48,569.67 1499.05,575.12 1499.63,579.47 1500.21,582.69 1500.78,587.31 1501.36,589.75 1501.93,592.48 1502.44,596.03 1502.96,598.76 1503.47,601.98 1503.98,604.8 1504.49,608.61 1505,614.32 1505.52,612.3 1506.03,619.18 1506.54,619.53 1507.05,623.1 1507.56,625.33 1508.08,628.5 1508.59,631.56 1509.1,634.82 1509.61,634.27 1510.12,637.42 1510.64,639.72 1511.15,638.25 1511.72,641.16 1512.3,647.38 1512.87,646.02 1513.45,650.58 1514.03,653.63 1514.6,659.58 1515.18,666.06 1515.75,671.56 1516.33,672.89 1516.91,670.38 1517.48,672.87 1518.06,673.94 1518.56,673.78 1519.07,675.47 1519.58,676.24 1520.09,674.48 1520.59,675.53 1521.1,671.71 1521.61,675.14 1522.11,675.81 1522.62,678.27 1523.13,674.07 1523.63,672.98 1524.14,675.35 1524.65,673.76 1525.15,675.92 1525.66,675.12 1526.17,676.72 1526.67,671.72 1527.18,674.3 1527.69,674.25 1528.19,676.82 1528.7,674.8 1529.21,676.44 1529.71,676.55 1530.22,674.15 1530.73,670.07 1531.23,672.84 1531.74,671.6 1532.25,674.9 1532.76,677.39 1533.26,676.35 1533.77,674.59 1534.28,676.17 1534.78,676.11 1535.29,677.65 1535.8,674.91 1536.3,677.62 1536.81,675.31 1537.32,674.63 1537.82,674.7 1538.33,672.84 1538.84,672.57 1539.34,674.72 1539.85,678.72 1540.36,676.16 1540.86,672.45 1541.37,676.6 1541.88,677.5 1542.38,679.36 1542.89,673.21 1543.4,676.33 1543.9,673.27 1544.41,674.41 1544.92,674.43 1545.42,677.94 1545.93,676.03 1546.43,674.88 1546.94,675.55 1547.44,674.16 1547.95,674.76 1548.46,678.55 1548.96,674.68 1549.47,673.18 1549.97,675.23 1550.48,676.02 1550.99,676.27 1551.49,677.02 1552,674.57 1552.5,677.39 1553.01,675.96 1553.52,680.49 1554.02,675.58 1554.53,677.69 1555.03,675.1 1555.54,673.48 1556.05,676.36 1556.55,676.4 1557.06,675.95 1557.56,675.27 1558.07,675.91 1558.57,680.06 1559.08,677.22 1559.59,675.27 1560.09,678.21 1560.6,675.15 1561.1,676.79 1561.61,675.25 1562.12,673.08 1562.62,674.78 1563.13,677.16 1563.63,671.74 1564.14,676.93 1564.65,678.76 1565.15,676.71 1565.66,677.41 1566.16,676.16 1566.67,676.4 1567.17,675.97 1567.68,678.14 1568.19,677.86 1568.69,678.75 1569.2,677.26" fill="none" stroke="#231f20" stroke-width="0.8" stroke-linejoin="miter"/>
<line x1="1310.9" y1="451.1" x2="1310.9" y2="682.25" stroke="#000" stroke-width="1.9"/>
<line x1="1298.9" y1="472.2" x2="1310.9" y2="472.2" stroke="#000" stroke-width="1.9"/>
<line x1="1298.9" y1="513.2" x2="1310.9" y2="513.2" stroke="#000" stroke-width="1.9"/>
<line x1="1298.9" y1="555.7" x2="1310.9" y2="555.7" stroke="#000" stroke-width="1.9"/>
<line x1="1298.9" y1="597.6" x2="1310.9" y2="597.6" stroke="#000" stroke-width="1.9"/>
<line x1="1298.9" y1="638.6" x2="1310.9" y2="638.6" stroke="#000" stroke-width="1.9"/>
<line x1="1298.9" y1="681.3" x2="1310.9" y2="681.3" stroke="#000" stroke-width="1.9"/>
<line x1="1312.3" y1="687.4" x2="1605.6" y2="687.4" stroke="#000" stroke-width="1.9"/>
<line x1="1331.9" y1="687.4" x2="1331.9" y2="692.9" stroke="#000" stroke-width="1.8"/>
<line x1="1379.4" y1="687.4" x2="1379.4" y2="692.9" stroke="#000" stroke-width="1.8"/>
<line x1="1425.5" y1="687.4" x2="1425.5" y2="692.9" stroke="#000" stroke-width="1.8"/>
<line x1="1471.1" y1="687.4" x2="1471.1" y2="692.9" stroke="#000" stroke-width="1.8"/>
<line x1="1517.1" y1="687.4" x2="1517.1" y2="692.9" stroke="#000" stroke-width="1.8"/>
<line x1="1563.2" y1="687.4" x2="1563.2" y2="692.9" stroke="#000" stroke-width="1.8"/>
<text x="1330.7" y="724.6" font-size="23.5" text-anchor="middle">4</text>
<text x="1378.2" y="724.6" font-size="23.5" text-anchor="middle">5</text>
<text x="1424.3" y="724.6" font-size="23.5" text-anchor="middle">6</text>
<text x="1469.9" y="724.6" font-size="23.5" text-anchor="middle">7</text>
<text x="1515.9" y="724.6" font-size="23.5" text-anchor="middle">8</text>
<text x="1562" y="724.6" font-size="23.5" text-anchor="middle">9</text>
<text x="1261.8" y="477.5" font-size="23.5" text-anchor="middle">1</text>
<text x="1261.8" y="518.5" font-size="23.5" text-anchor="middle">0.8</text>
<text x="1261.8" y="561" font-size="23.5" text-anchor="middle">0.6</text>
<text x="1261.8" y="602.9" font-size="23.5" text-anchor="middle">0.4</text>
<text x="1261.8" y="643.9" font-size="23.5" text-anchor="middle">0.2</text>
<text x="1259.8" y="686.6" font-size="23.5" text-anchor="middle">0</text>
<text x="1326.1" y="456.9" font-size="27.5"><tspan font-style="italic">Hi-1</tspan><tspan font-size="16" dy="-10">-</tspan></text>
<polyline points="1630.27,665.44 1630.53,665.16 1630.78,665.39 1631.04,665.04 1631.29,668.34 1631.54,660.67 1631.8,664.52 1632.05,663.68 1632.31,666.27 1632.56,662.45 1632.82,665.81 1633.07,663.63 1633.33,663.78 1633.58,664.41 1633.84,661.34 1634.09,662.7 1634.35,666.66 1634.6,660.58 1634.85,664.41 1635.11,663.69 1635.36,662.76 1635.62,661.5 1635.87,663.79 1636.13,662.86 1636.38,660.71 1636.64,663.55 1636.89,662.15 1637.15,662.87 1637.4,662.89 1637.66,663.82 1637.91,663.58 1638.16,661.85 1638.42,664.36 1638.67,661.06 1638.93,660.98 1639.18,662.21 1639.44,662 1639.69,660.94 1639.95,662.72 1640.2,661.77 1640.45,662.48 1640.7,662.15 1640.95,661 1641.21,661.81 1641.46,662.17 1641.71,660.58 1641.96,661.81 1642.21,664.48 1642.47,661.47 1642.72,661.69 1642.97,664.19 1643.22,661.18 1643.47,665.32 1643.73,663.68 1643.98,662.89 1644.23,663.63 1644.48,662.42 1644.73,666.44 1644.99,663.3 1645.24,665.76 1645.49,665 1645.74,664.65 1645.99,666.39 1646.25,666.13 1646.5,665.22 1646.75,664.37 1647,664.78 1647.25,663.38 1647.51,661.16 1647.76,666.64 1648.01,666.4 1648.26,667.02 1648.51,664.11 1648.77,664.88 1649.02,665.94 1649.27,667.53 1649.52,664.55 1649.77,665.82 1650.03,666.41 1650.28,665.14 1650.53,665.72 1650.78,665.39 1651.03,665.94 1651.29,671.46 1651.54,666.11 1651.79,664.8 1652.04,667.61 1652.29,669.05 1652.54,664.64 1652.8,666.79 1653.05,667.79 1653.3,667.27 1653.55,668.61 1653.8,666.94 1654.06,666.47 1654.31,668.23 1654.56,666.9 1654.81,668.81 1655.06,668.49 1655.32,671.62 1655.57,669.21 1655.82,668.2 1656.07,666.33 1656.32,667.88 1656.57,666.63 1656.82,669.42 1657.07,667.41 1657.32,670.01 1657.57,670.38 1657.83,668.64 1658.08,667.67 1658.33,668.45 1658.58,669.27 1658.83,667.66 1659.08,668.77 1659.33,668.23 1659.58,670.49 1659.83,671.69 1660.08,670.88 1660.33,668.12 1660.58,670.12 1660.83,669.15 1661.08,671.43 1661.33,672.15 1661.58,669.96 1661.83,668.4 1662.08,670.48 1662.33,667.87 1662.58,667.83 1662.83,671.17 1663.08,669.29 1663.33,671.03 1663.58,669.62 1663.83,669.45 1664.08,669.56 1664.34,669.2 1664.59,669.34 1664.84,668.22 1665.09,670.13 1665.34,671.7 1665.59,671.24 1665.84,667.38 1666.09,668.57 1666.34,667.66 1666.59,670.68 1666.84,668.13 1667.09,670.59 1667.34,670.13 1667.59,669.73 1667.84,671.59 1668.09,669.62 1668.34,670.04 1668.59,673.21 1668.84,670.17 1669.09,672.64 1669.34,669.16 1669.59,673.5 1669.84,672.02 1670.09,670.62 1670.34,670.65 1670.6,671.37 1670.85,669.85 1671.1,671.29 1671.35,670.57 1671.6,673.69 1671.85,670.36 1672.1,670.47 1672.35,671.23 1672.6,669.29 1672.85,671.53 1673.1,670.6 1673.35,672 1673.6,674.31 1673.85,670.87 1674.1,670.84 1674.35,671.55 1674.6,673.9 1674.85,670.52 1675.1,671.74 1675.35,669.31 1675.6,673.46 1675.85,674.32 1676.1,671.81 1676.35,670.53 1676.6,669.71 1676.85,673.95 1677.11,671.74 1677.36,670.19 1677.61,672.59 1677.86,671.84 1678.11,673.25 1678.36,673.4 1678.61,670.18 1678.86,672.43 1679.11,670.91 1679.36,670.19 1679.61,671.9 1679.86,672.69 1680.11,673.07 1680.36,671.35 1680.61,667.91 1680.86,673.5 1681.11,672.88 1681.37,673.25 1681.62,670.09 1681.87,671.17 1682.12,672.14 1682.37,672.85 1682.62,672.55 1682.87,673.19 1683.12,672.67 1683.37,673.06 1683.62,672.33 1683.87,670.63 1684.12,674.92 1684.38,672.9 1684.63,674.66 1684.88,675.17 1685.13,672.03 1685.38,674.13 1685.63,669.63 1685.88,671.88 1686.13,677.01 1686.38,671.55 1686.63,672.45 1686.88,673.87 1687.13,672.09 1687.38,672.24 1687.64,671.73 1687.89,674.04 1688.14,671.81 1688.39,672.74 1688.64,671.66 1688.89,674.37 1689.14,671.54 1689.39,672.26 1689.64,677.44 1689.89,673.95 1690.14,670.29 1690.39,672.81 1690.65,675.27 1690.9,673.23 1691.15,674.43 1691.4,674.59 1691.65,674.45 1691.9,671.38 1692.15,674.98 1692.4,673.09 1692.65,670.55 1692.9,672.99 1693.15,673.51 1693.4,673.13 1693.65,674.77 1693.91,671.88 1694.16,672.64 1694.41,673.31 1694.66,675.66 1694.91,673.34 1695.16,673.54 1695.41,673.57 1695.66,675.33 1695.91,674.64 1696.16,674.04 1696.41,675.53 1696.66,675.16 1696.92,674.1 1697.17,673.29 1697.42,675.29 1697.67,674.63 1697.92,673.11 1698.17,676.06 1698.42,674.52 1698.67,671.36 1698.92,676.03 1699.17,675.27 1699.42,674.51 1699.67,673.38 1699.92,674.64 1700.18,674.55 1700.43,674.57 1700.68,674.05 1700.93,672.65 1701.18,672.42 1701.43,674.62 1701.68,673.47 1701.93,673.2 1702.18,673.03 1702.43,674.34 1702.68,672.72 1702.93,674.68 1703.19,673.22 1703.44,672.85 1703.69,672.22 1703.94,675.41 1704.19,675.18 1704.44,673.23 1704.69,672.88 1704.94,672.72 1705.19,674.99 1705.44,673.38 1705.69,674.53 1705.94,672.32 1706.19,673.32 1706.45,673.38 1706.7,676.04 1706.95,675.7 1707.2,678.35 1707.45,672.99 1707.7,674.48 1707.95,675.4 1708.2,675.76 1708.45,676.56 1708.7,674.64 1708.95,674 1709.2,678.35 1709.45,676.7 1709.71,674.67 1709.96,673.77 1710.21,675.01 1710.46,670.09 1710.72,669.09 1710.98,665.05 1711.23,664.15 1711.49,660.13 1711.74,659.22 1712,655.36 1712.25,651.52 1712.51,643.98 1712.77,641.1 1713.02,627.01 1713.28,618.86 1713.53,609.7 1713.79,600.31 1714.05,587.45 1714.3,580.65 1714.56,570.24 1714.81,559.96 1715.07,552.9 1715.33,541.1 1715.58,534.06 1715.84,526.25 1716.09,520.74 1716.35,512.05 1716.61,505.86 1716.86,498.21 1717.12,493.55 1717.38,486.81 1717.64,484.52 1717.91,482.37 1718.17,476.53 1718.43,474.27 1718.7,472.7 1718.96,471.57 1719.23,471.98 1719.5,475.09 1719.77,475.74 1720.04,480.03 1720.3,483.02 1720.57,480.43 1720.84,487.18 1721.11,491.37 1721.37,495.84 1721.64,496.88 1721.9,500.89 1722.17,501.97 1722.43,505.9 1722.7,507.16 1722.97,512.27 1723.23,514.76 1723.5,520.72 1723.76,527.93 1724.03,522.76 1724.28,526.45 1724.54,531.61 1724.8,532.52 1725.05,537.61 1725.31,538.63 1725.56,544.04 1725.82,545.35 1726.08,548.81 1726.33,551.52 1726.59,555.69 1726.84,561.44 1727.1,561.84 1727.36,564.11 1727.61,568.32 1727.87,572.32 1728.12,571.77 1728.38,576.89 1728.64,580.72 1728.89,579.59 1729.15,585.3 1729.4,586.16 1729.66,589.73 1729.92,590.96 1730.17,592.17 1730.43,592.38 1730.68,596.54 1730.94,598.43 1731.2,599.12 1731.45,604.48 1731.71,602.06 1731.96,604.82 1732.22,609.81 1732.48,610.59 1732.73,611.55 1732.99,613.81 1733.24,615.99 1733.49,615.75 1733.74,620.69 1733.99,618.13 1734.25,620.58 1734.5,620.64 1734.75,621.75 1735,622.24 1735.25,621.09 1735.5,623.73 1735.75,626.28 1736,628.13 1736.25,630.24 1736.5,630.71 1736.75,630.37 1737,631.63 1737.25,634.5 1737.5,635.34 1737.75,637.76 1738,636.8 1738.25,637.74 1738.5,638.48 1738.75,640.48 1739,640.53 1739.26,641.01 1739.51,642.5 1739.77,642.21 1740.03,644.9 1740.28,645.01 1740.54,644.64 1740.79,643.72 1741.05,646.65 1741.31,646.4 1741.56,646.17 1741.82,646.65 1742.07,647.4 1742.33,650.22 1742.59,652.51 1742.84,650.04 1743.1,651.21 1743.35,651.82 1743.61,652.08 1743.87,650.47 1744.12,653.71 1744.38,652.71 1744.63,656.82 1744.89,653.39 1745.15,656.2 1745.4,658.33 1745.66,658.59 1745.91,658.26 1746.17,658.05 1746.43,657.81 1746.68,657.26 1746.94,664.27 1747.19,659.3 1747.45,658.21 1747.71,659.39 1747.96,658.2 1748.22,659.31 1748.47,659.05 1748.73,658.87 1748.98,661.8 1749.24,658.22 1749.5,659.68 1749.75,660.35 1750.01,660.38 1750.26,658.4 1750.52,661.12 1750.78,661.25 1751.03,660.93 1751.29,660.72 1751.54,657.72 1751.8,660.43 1752.06,662.38 1752.31,660.05 1752.57,661.79 1752.82,663.03 1753.08,660.91 1753.34,662.25 1753.59,661.07 1753.85,663.6 1754.1,659.6 1754.36,660.61 1754.62,655.65 1754.87,659.27 1755.13,659.95 1755.38,658.71 1755.64,661.49 1755.9,662.23 1756.15,659.82 1756.41,658.73 1756.66,659.46 1756.92,659.56 1757.18,661.46 1757.43,659.51 1757.69,658.86 1757.94,657.4 1758.2,658.8 1758.46,659.01 1758.71,660.52 1758.97,658.21 1759.22,658.11 1759.48,658.23 1759.74,657.63 1759.99,657.52 1760.25,657.9 1760.5,656.78 1760.76,661.52 1761.01,656.76 1761.27,658.31 1761.53,657.94 1761.78,657.7 1762.04,656.5 1762.29,658.29 1762.54,657.2 1762.79,659.37 1763.04,655.08 1763.3,657.75 1763.55,657.43 1763.8,659.65 1764.05,658.43 1764.3,658.45 1764.55,658.41 1764.8,658.35 1765.05,657.09 1765.31,655.4 1765.56,656.75 1765.81,660.83 1766.06,656.15 1766.31,659.43 1766.56,656.68 1766.81,660.05 1767.06,658.16 1767.32,658.91 1767.57,658.75 1767.82,656.66 1768.07,657.34 1768.32,657.97 1768.57,657.77 1768.82,657.38 1769.08,657.75 1769.33,657.63 1769.58,658.43 1769.83,659.11 1770.08,659.74 1770.33,656.07 1770.58,656.85 1770.83,657.31 1771.09,658.67 1771.34,659.19 1771.59,660.06 1771.84,658.09 1772.09,657.36 1772.34,659.33 1772.59,658.18 1772.84,656.5 1773.1,656.05 1773.35,658.8 1773.6,658.76 1773.85,658.66 1774.1,658.98 1774.35,659.76 1774.6,660 1774.86,660.06 1775.11,658.28 1775.36,658.14 1775.61,659.37 1775.86,659.32 1776.12,659.34 1776.37,658.19 1776.63,660.55 1776.88,659.91 1777.14,659.92 1777.4,661.16 1777.65,660.66 1777.91,661.97 1778.16,660.73 1778.42,658.9 1778.68,662.55 1778.93,663.57 1779.19,661.1 1779.44,663.07 1779.7,662.59 1779.96,660.73 1780.21,666.06 1780.47,661.83 1780.72,663.62 1780.98,664.69 1781.24,661.55 1781.49,663.18 1781.75,664.84 1782,664.79 1782.26,664.23 1782.52,665.31 1782.77,665.51 1783.03,663.93 1783.28,662.96 1783.54,665.47 1783.8,666.74 1784.05,666.33 1784.31,665.64 1784.56,667.55 1784.82,666.99 1785.07,666.81 1785.33,665.89 1785.59,669.54 1785.84,667.59 1786.1,671.82 1786.35,669.47 1786.61,666.64 1786.87,667.15 1787.12,669.6 1787.38,669.47 1787.63,670.7 1787.89,668.2 1788.15,669.07 1788.4,672.41 1788.66,672 1788.91,669.9 1789.17,670.93 1789.43,673.25 1789.68,672.93 1789.94,670.78 1790.19,672.08 1790.45,670.46 1790.71,671.55 1790.96,670.5 1791.22,672.78 1791.47,671.74 1791.73,671.4 1791.99,673.55 1792.24,671.52 1792.5,672.83 1792.75,671.02 1793.01,668.87 1793.27,668.15 1793.52,666.14 1793.78,662.16 1794.03,659.54 1794.29,662.01 1794.55,659.08 1794.8,656.88 1795.06,656.4 1795.31,654.96 1795.57,651.93 1795.83,648.14 1796.08,644.93 1796.34,644.42 1796.59,640.3 1796.86,639.86 1797.12,638.06 1797.38,641.68 1797.65,639.19 1797.91,637.19 1798.17,638.77 1798.44,637.93 1798.7,641.94 1798.96,636.28 1799.22,640.63 1799.48,639.38 1799.74,640.27 1800,642.14 1800.26,641.96 1800.52,644.87 1800.79,644.92 1801.05,646.56 1801.31,644.94 1801.57,645.93 1801.83,646.34 1802.09,650.43 1802.35,651.3 1802.62,650.4 1802.9,657.97 1803.17,654.12 1803.44,654.51 1803.71,651.75 1803.99,653.72 1804.26,655.4 1804.53,654.58 1804.8,658.58 1805.07,656.79 1805.35,655.91 1805.62,653.26 1805.88,649.23 1806.15,647.6 1806.42,636.18 1806.69,632.91 1806.96,625.76 1807.22,622.29 1807.47,615.99 1807.73,612.02 1807.98,605.59 1808.24,600.64 1808.49,596.6 1808.75,592.73 1809.01,591.26 1809.26,583.93 1809.52,577.85 1809.77,576.54 1810.03,573.47 1810.29,569.78 1810.54,569.5 1810.8,564.29 1811.05,562.18 1811.31,561.1 1811.57,556.56 1811.84,555.74 1812.1,554.6 1812.37,552.93 1812.64,554.2 1812.91,552.3 1813.18,552.58 1813.45,554.05 1813.72,553.68 1814,556.19 1814.27,557.36 1814.54,559.94 1814.81,561.08 1815.08,561.72 1815.36,563.82 1815.63,562.97 1815.9,568.08 1816.17,568.95 1816.43,567.72 1816.69,572.12 1816.94,571.09 1817.2,571.41 1817.45,573.75 1817.71,575.17 1817.97,575.73 1818.22,578.05 1818.48,576.77 1818.73,581.71 1818.99,580.85 1819.25,580.77 1819.5,584.52 1819.76,585.06 1820.01,586.39 1820.27,587.49 1820.52,588.38 1820.78,592.3 1821.04,591.19 1821.29,589.49 1821.55,592.2 1821.8,595.36 1822.06,595.4 1822.32,596.4 1822.57,595.26 1822.83,601.01 1823.08,600.42 1823.34,600.7 1823.6,602.51 1823.85,602.86 1824.11,604.21 1824.36,602.97 1824.62,604.84 1824.88,609.07 1825.13,605.63 1825.39,607.27 1825.64,607.51 1825.9,609.01 1826.16,612.93 1826.41,611.31 1826.67,613.33 1826.92,611.7 1827.18,612.72 1827.44,613.91 1827.69,615.72 1827.95,615.88 1828.2,615.13 1828.46,615.72 1828.72,614.83 1828.97,618.21 1829.23,619.03 1829.48,622.85 1829.74,618.67 1830,620.93 1830.25,620.14 1830.51,622.42 1830.76,621.38 1831.02,622.62 1831.28,625.11 1831.53,628.25 1831.79,627.84 1832.04,627.37 1832.3,629.94 1832.55,631.53 1832.81,633.95 1833.07,635.24 1833.32,644.39 1833.58,648.26 1833.83,653.38 1834.09,654.72 1834.35,658.41 1834.6,660.77 1834.86,661.94 1835.11,662.76 1835.37,665.32 1835.63,667.13 1835.88,666.42 1836.14,669.68 1836.39,669.08 1836.65,669.04 1836.91,668.93 1837.16,667.05 1837.41,669.61 1837.67,669.7 1837.92,669.09 1838.18,670.25 1838.43,668.88 1838.68,672.04 1838.94,671.16 1839.19,671.45 1839.44,668.75 1839.7,669.78 1839.95,670.8 1840.21,667.9 1840.46,670.17 1840.71,673.03 1840.97,670.38 1841.22,669.48 1841.47,669.97 1841.73,671.86 1841.98,670.71 1842.24,672.58 1842.49,669.71 1842.74,670.19 1843,671.3 1843.25,670.17 1843.5,670.23 1843.76,670.93 1844.01,670.02 1844.27,670.83 1844.52,671.32 1844.77,670.86 1845.03,670.35 1845.28,669.48 1845.54,670.33 1845.79,670.91 1846.04,673.7 1846.3,673 1846.55,671.19 1846.8,672.15 1847.06,671.64 1847.31,664.67 1847.57,668.8 1847.82,671.9 1848.07,671.4 1848.33,672.34 1848.58,673.02 1848.83,671.73 1849.09,671.36 1849.34,671.8 1849.6,673.99 1849.85,673.17 1850.1,668.94 1850.36,673.54 1850.61,670.18 1850.86,671.83 1851.12,672.87 1851.37,671.54 1851.63,671.88 1851.88,672.44 1852.13,671.61 1852.38,670.42 1852.63,673.3 1852.88,670.84 1853.13,672.57 1853.38,670.62 1853.63,669.06 1853.89,671.31 1854.14,672.09 1854.39,675.06 1854.64,673.17 1854.89,674.7 1855.14,672.05 1855.39,670.82 1855.64,671.87 1855.89,670.71 1856.14,673.42 1856.39,672.87 1856.64,672.54 1856.89,672.78 1857.15,673.45 1857.4,674.5 1857.65,670.25 1857.9,672.92 1858.15,673.26 1858.4,672.07 1858.65,672.85 1858.9,671.39 1859.15,671.87 1859.4,670.78 1859.65,671.7 1859.9,672.64 1860.15,673.55 1860.4,671.92 1860.66,673.58 1860.91,674.95 1861.16,674.16 1861.41,671.64 1861.66,672.3 1861.91,673.1 1862.16,675.81 1862.41,674.04 1862.66,673.57 1862.91,673.02 1863.16,674.5 1863.41,673.78 1863.66,672.56 1863.91,672.02 1864.17,672.28 1864.42,673.47 1864.67,674.9 1864.92,672.2 1865.17,672.97 1865.42,675.04 1865.67,672.81 1865.92,673.05 1866.17,675.09 1866.42,671.82 1866.67,673.88 1866.92,672.72 1867.17,674.41 1867.43,675.71 1867.68,674.57 1867.93,671.74 1868.18,673.22 1868.43,673.85 1868.68,670.36 1868.93,674.06 1869.18,674.3 1869.43,675.19 1869.68,672.6 1869.93,672.74 1870.18,673.89 1870.43,674.87 1870.68,675.4 1870.94,671.92 1871.19,673.9 1871.44,676.27 1871.69,674.36 1871.94,672.8 1872.19,673.5 1872.44,672.26 1872.69,673.61 1872.94,672.46 1873.19,674.54 1873.44,673.61 1873.69,674.86 1873.94,672.5 1874.2,674.87 1874.45,674.55 1874.7,670.95 1874.95,673.23 1875.2,674.37 1875.45,674.67 1875.7,672.77 1875.95,673.25 1876.2,672.7 1876.45,672.06 1876.7,674.92 1876.95,673.6 1877.2,674 1877.45,675.86 1877.71,676.38 1877.96,673.5 1878.21,673.22 1878.46,675.16 1878.71,672.94 1878.96,675.85 1879.21,674.7 1879.46,674.1 1879.71,673.9 1879.96,673.89 1880.21,675.46 1880.46,674 1880.71,674.5 1880.96,676.25 1881.22,674.59 1881.47,672.09 1881.72,676.07 1881.97,675.89 1882.22,673.2 1882.47,674.26 1882.72,672.97 1882.97,672.43 1883.22,675.71 1883.47,680.41 1883.72,672.39 1883.97,673.01 1884.22,675.35 1884.48,674.23 1884.73,672.19 1884.98,673.96 1885.23,674.89 1885.48,674.57 1885.73,675.13 1885.98,672.4 1886.23,673.18 1886.48,675.41 1886.73,674.63 1886.98,673.92 1887.23,675.3 1887.48,675.35 1887.73,675.48 1887.99,674.34 1888.24,673.97 1888.49,675.04 1888.74,675.35" fill="none" stroke="#231f20" stroke-width="2.5" stroke-linejoin="round"/>
<polyline points="1630.27,666.05 1630.78,664.38 1631.29,665.06 1631.8,661.43 1632.31,662.96 1632.82,662.43 1633.33,664.55 1633.84,664.45 1634.35,666.6 1634.85,663.09 1635.36,664.93 1635.87,661.8 1636.38,663.69 1636.89,660.63 1637.4,662.32 1637.91,660.59 1638.42,664.49 1638.93,660.51 1639.44,663.07 1639.95,660.64 1640.45,659.57 1640.95,662.68 1641.46,664.77 1641.96,662.06 1642.47,662.61 1642.97,661.37 1643.47,661.12 1643.98,660.47 1644.48,658.75 1644.99,662.75 1645.49,663.94 1645.99,664.24 1646.5,668.2 1647,663.91 1647.51,662.92 1648.01,667.51 1648.51,665.84 1649.02,666.3 1649.52,668.27 1650.03,667.26 1650.53,667.74 1651.03,664.42 1651.54,666.62 1652.04,669.17 1652.54,669.63 1653.05,665.65 1653.55,666.69 1654.06,669.68 1654.56,669.06 1655.06,668.72 1655.57,665.54 1656.07,667.65 1656.57,670.3 1657.07,670.76 1657.57,677.06 1658.08,665.73 1658.58,667.17 1659.08,665.7 1659.58,664.84 1660.08,667.88 1660.58,670.94 1661.08,666.54 1661.58,673.32 1662.08,671.24 1662.58,670.93 1663.08,669.45 1663.58,670.97 1664.08,669.3 1664.59,672.07 1665.09,671.32 1665.59,670.47 1666.09,670.31 1666.59,671.27 1667.09,672.77 1667.59,669.48 1668.09,669.18 1668.59,670.6 1669.09,668.42 1669.59,673.66 1670.09,672.51 1670.6,673.14 1671.1,670.14 1671.6,671.25 1672.1,672.41 1672.6,670.73 1673.1,673.23 1673.6,673.63 1674.1,669.3 1674.6,667.93 1675.1,672.77 1675.6,675.09 1676.1,671.6 1676.6,670.15 1677.11,670.7 1677.61,670.23 1678.11,670.71 1678.61,666.86 1679.11,670.16 1679.61,670.31 1680.11,674.58 1680.61,671.26 1681.11,674.45 1681.62,672.18 1682.12,671.87 1682.62,674.65 1683.12,672.44 1683.62,670.4 1684.12,672.34 1684.63,674.13 1685.13,671.07 1685.63,673.37 1686.13,668.73 1686.63,674.96 1687.13,672.83 1687.64,672.03 1688.14,672.56 1688.64,673.56 1689.14,671.1 1689.64,672.02 1690.14,672.74 1690.65,672.59 1691.15,672.89 1691.65,671.69 1692.15,672.22 1692.65,673.42 1693.15,674.97 1693.65,674.65 1694.16,673.56 1694.66,672.65 1695.16,679.18 1695.66,672.94 1696.16,670.86 1696.66,677.64 1697.17,672.27 1697.67,673.8 1698.17,673.16 1698.67,672.75 1699.17,674.59 1699.67,675.47 1700.18,676.39 1700.68,671.27 1701.18,672.02 1701.68,674.09 1702.18,673.14 1702.68,675.81 1703.19,673.92 1703.69,679.45 1704.19,674.91 1704.69,673.43 1705.19,673.74 1705.69,673.72 1706.19,674.56 1706.7,673.27 1707.2,674.41 1707.7,672.18 1708.2,671.77 1708.7,675.91 1709.2,674.06 1709.71,673.75 1710.21,670.34 1710.78,666.57 1711.36,663.75 1711.94,654.86 1712.51,636.28 1713.09,623.94 1713.66,603.18 1714.24,582.49 1714.81,562 1715.39,540.4 1715.97,522.64 1716.54,507.54 1717.12,497.03 1717.73,481.64 1718.35,477.36 1718.96,474.33 1719.5,476.8 1720.04,480.29 1720.57,484.92 1721.15,493.23 1721.73,497.94 1722.3,510.71 1722.88,509.33 1723.45,513.01 1724.03,525.08 1724.54,529.57 1725.05,537.37 1725.56,540.92 1726.08,549.38 1726.59,552.55 1727.1,561.51 1727.61,569.38 1728.12,576.94 1728.64,579.8 1729.15,581.97 1729.66,589.45 1730.17,594.1 1730.68,597.92 1731.2,603.83 1731.71,603.47 1732.22,607.07 1732.73,610.73 1733.24,613.35 1733.77,614.23 1734.29,621.02 1734.81,622.06 1735.34,623.75 1735.86,625.41 1736.38,625.47 1736.91,634.42 1737.43,633.02 1737.96,638.15 1738.48,640.2 1739,639.42 1739.53,640.08 1740.07,644.68 1740.6,643.87 1741.13,647.31 1741.66,644.02 1742.19,649.3 1742.72,653.2 1743.26,653.61 1743.79,651.92 1744.32,652.52 1744.85,654.96 1745.38,661.1 1745.91,658.47 1746.44,659.57 1746.98,659.69 1747.51,654.87 1748.04,656.94 1748.57,656.24 1749.1,658.59 1749.63,659.93 1750.17,658.85 1750.7,659.74 1751.23,657.37 1751.76,664.27 1752.29,662.89 1752.82,660.73 1753.34,661.83 1753.85,661.12 1754.36,655.61 1754.87,661.28 1755.38,658.63 1755.9,659.16 1756.41,658.06 1756.92,657.26 1757.43,658.97 1757.94,658.58 1758.46,658.49 1758.97,659.52 1759.48,659.15 1759.99,656.63 1760.5,657.3 1761.01,660.43 1761.53,659.35 1762.04,660 1762.55,660.27 1763.06,656.56 1763.57,655.37 1764.09,657.83 1764.6,650.51 1765.11,658.17 1765.62,653.33 1766.13,659.34 1766.65,656.5 1767.16,656.68 1767.67,659.25 1768.18,658.52 1768.69,655.93 1769.21,656.49 1769.72,657.38 1770.23,659.66 1770.74,663.06 1771.25,657.76 1771.77,657.68 1772.28,659.29 1772.79,655.92 1773.3,659.44 1773.81,658.93 1774.32,661.93 1774.84,658.29 1775.35,660.21 1775.86,660.68 1776.37,659.35 1776.88,652.42 1777.4,659.35 1777.91,660.92 1778.42,660.34 1778.93,663.86 1779.44,660.47 1779.96,663.95 1780.47,662.66 1780.98,667.7 1781.49,665.35 1782,666.29 1782.52,662.03 1783.03,665.47 1783.54,664.89 1784.05,666.13 1784.56,665.79 1785.07,661.79 1785.61,666.05 1786.14,671.3 1786.67,666.8 1787.2,669.53 1787.73,669.47 1788.26,671.37 1788.8,668.92 1789.33,670.09 1789.86,669.19 1790.39,668.3 1790.92,670.57 1791.45,670.26 1791.99,671.81 1792.56,664.63 1793.14,665.86 1793.71,667.09 1794.29,660.77 1794.87,658.43 1795.44,650.45 1796.02,645.05 1796.59,645.19 1797.21,640.27 1797.82,638.75 1798.44,638.56 1799,639.36 1799.55,639.69 1800.11,642.11 1800.67,641.83 1801.23,645.28 1801.79,650.16 1802.35,652.61 1802.95,653.04 1803.55,656.06 1804.15,656.86 1804.75,655.1 1805.35,651.57 1805.88,643.8 1806.42,635.84 1806.96,626.96 1807.54,616.94 1808.11,604.33 1808.69,591.44 1809.26,585.89 1809.84,573.95 1810.41,569.57 1810.99,562.58 1811.57,560.43 1812.1,556.71 1812.64,553.91 1813.18,554.51 1813.78,556.75 1814.38,556.15 1814.98,563.97 1815.57,564.63 1816.17,565.19 1816.69,571.04 1817.2,570.76 1817.71,575.62 1818.22,579.18 1818.73,581.75 1819.25,586.32 1819.76,585.45 1820.27,589.56 1820.78,591.82 1821.29,592.46 1821.8,598.44 1822.32,599.96 1822.83,599.83 1823.34,603.28 1823.85,602.88 1824.36,602.78 1824.88,610.89 1825.39,607.66 1825.9,610.17 1826.41,609.14 1826.92,614.12 1827.44,612.53 1827.95,616.49 1828.46,613.46 1828.97,617.74 1829.48,616.87 1830,622.71 1830.57,627.78 1831.15,622 1831.72,630.9 1832.3,632.14 1832.87,636.67 1833.45,642.91 1834.03,649.57 1834.6,657.82 1835.18,659.03 1835.75,668.4 1836.33,666.49 1836.91,668.2 1837.42,671.12 1837.94,670.84 1838.46,670.83 1838.97,671.16 1839.49,670.15 1840,667.85 1840.52,669.64 1841.04,672.41 1841.55,672.77 1842.07,673.11 1842.59,669.41 1843.1,670.47 1843.62,668.79 1844.13,672.41 1844.65,669.59 1845.17,670.67 1845.68,671.72 1846.2,668.02 1846.72,667.36 1847.23,669.23 1847.75,670.07 1848.27,674.08 1848.78,672.51 1849.3,673.48 1849.81,673.67 1850.33,668.94 1850.85,671.73 1851.36,673.26 1851.88,672.21 1852.38,668.22 1852.89,671.61 1853.39,673.56 1853.9,675.97 1854.4,669.51 1854.91,671.24 1855.41,671.43 1855.92,673.66 1856.42,672.39 1856.93,670.91 1857.43,670.09 1857.94,669.64 1858.44,672.66 1858.95,673.48 1859.45,669.49 1859.96,673.5 1860.46,671.87 1860.97,673.54 1861.47,674.6 1861.98,672.74 1862.48,672.85 1862.99,673.61 1863.49,668.97 1864,672.1 1864.5,676.32 1865.01,671.3 1865.51,671.93 1866.02,674.45 1866.52,674.21 1867.03,667.24 1867.53,671.55 1868.04,674.19 1868.54,674.56 1869.05,672.54 1869.55,672.29 1870.06,680.44 1870.56,673.97 1871.07,675.82 1871.57,673.22 1872.08,674.5 1872.58,678.23 1873.09,673.79 1873.59,671.15 1874.1,673.94 1874.6,674.76 1875.11,672.3 1875.61,673.21 1876.12,672.19 1876.62,670.69 1877.12,672.76 1877.63,675.72 1878.13,672.47 1878.64,673.19 1879.14,674.55 1879.65,674.71 1880.15,675.1 1880.66,675.73 1881.16,671.31 1881.67,673.9 1882.17,671.47 1882.68,673.06 1883.18,676.51 1883.69,670.48 1884.19,673.47 1884.7,674.32 1885.2,675.15 1885.71,670.34 1886.21,672.16 1886.72,674.06 1887.22,674.91 1887.73,674.99 1888.23,676.22 1888.74,676.46" fill="none" stroke="#231f20" stroke-width="0.8" stroke-linejoin="miter"/>
<line x1="1630.3" y1="449.5" x2="1630.3" y2="680.95" stroke="#000" stroke-width="1.9"/>
<line x1="1618.3" y1="470.2" x2="1630.3" y2="470.2" stroke="#000" stroke-width="1.9"/>
<line x1="1618.3" y1="512.1" x2="1630.3" y2="512.1" stroke="#000" stroke-width="1.9"/>
<line x1="1618.3" y1="554.1" x2="1630.3" y2="554.1" stroke="#000" stroke-width="1.9"/>
<line x1="1618.3" y1="596.2" x2="1630.3" y2="596.2" stroke="#000" stroke-width="1.9"/>
<line x1="1618.3" y1="637" x2="1630.3" y2="637" stroke="#000" stroke-width="1.9"/>
<line x1="1618.3" y1="680" x2="1630.3" y2="680" stroke="#000" stroke-width="1.9"/>
<line x1="1631.9" y1="686.1" x2="1924.9" y2="686.1" stroke="#000" stroke-width="1.9"/>
<line x1="1651" y1="686.1" x2="1651" y2="691.6" stroke="#000" stroke-width="1.8"/>
<line x1="1698.2" y1="686.1" x2="1698.2" y2="691.6" stroke="#000" stroke-width="1.8"/>
<line x1="1744.8" y1="686.1" x2="1744.8" y2="691.6" stroke="#000" stroke-width="1.8"/>
<line x1="1790.4" y1="686.1" x2="1790.4" y2="691.6" stroke="#000" stroke-width="1.8"/>
<line x1="1836.7" y1="686.1" x2="1836.7" y2="691.6" stroke="#000" stroke-width="1.8"/>
<line x1="1882.5" y1="686.1" x2="1882.5" y2="691.6" stroke="#000" stroke-width="1.8"/>
<text x="1649.8" y="724.6" font-size="23.5" text-anchor="middle">4</text>
<text x="1697" y="724.6" font-size="23.5" text-anchor="middle">5</text>
<text x="1743.6" y="724.6" font-size="23.5" text-anchor="middle">6</text>
<text x="1789.2" y="724.6" font-size="23.5" text-anchor="middle">7</text>
<text x="1835.5" y="724.6" font-size="23.5" text-anchor="middle">8</text>
<text x="1881.3" y="724.6" font-size="23.5" text-anchor="middle">9</text>
<text x="1645.7" y="455.7" font-size="27.5"><tspan font-style="italic">Hi-1</tspan><tspan font-size="16" dy="-10">-</tspan><tspan font-size="27.5" dy="10"> (10x)</tspan></text>
</g>
<g id="panel-c">
<text x="40.4" y="870.6" font-size="28" fill="#231f20" font-weight="bold">c</text>
<text x="524" y="890.6" font-size="27.5" text-anchor="middle" fill="#231f20">Aldehyde</text>
<text x="1505" y="890.6" font-size="27.5" text-anchor="middle" fill="#231f20">Alcohol</text>
<line x1="1023.35" y1="822" x2="1023.35" y2="1389" stroke="#555" stroke-width="1.5" stroke-dasharray="20.4 19.9" stroke-dashoffset="9.8"/>
<circle cx="215.9" cy="1074.4" r="106.5" fill="none" stroke="#99b9e0" stroke-width="71.4"/>
<path d="M215.9,932.2 A142.2,142.2 0 1 1 171.96,939.16 L194.02,1007.07 A70.8,70.8 0 1 0 215.9,1003.6 Z" fill="#4f88be"/>
<circle cx="532" cy="1074.4" r="106.5" fill="none" stroke="#99b9e0" stroke-width="71.4"/>
<path d="M532,932.2 A142.2,142.2 0 0 1 660.01,1136.32 L595.74,1105.23 A70.8,70.8 0 0 0 532,1003.6 Z" fill="#4f88be"/>
<circle cx="847.9" cy="1076.3" r="106.5" fill="none" stroke="#99b9e0" stroke-width="71.4"/>
<path d="M847.9,934.1 A142.2,142.2 0 1 1 809.34,939.43 L828.7,1008.15 A70.8,70.8 0 1 0 847.9,1005.5 Z" fill="#4f88be"/>
<circle cx="1203" cy="1069.8" r="106.5" fill="none" stroke="#a3c594" stroke-width="71.4"/>
<path d="M1203,927.6 A142.2,142.2 0 0 1 1339.68,1109.04 L1271.05,1089.34 A70.8,70.8 0 0 0 1203,999 Z" fill="#649c40"/>
<circle cx="1521" cy="1072.8" r="106.5" fill="none" stroke="#a3c594" stroke-width="71.4"/>
<path d="M1521,930.6 A142.2,142.2 0 0 1 1645.61,1004.29 L1583.04,1038.69 A70.8,70.8 0 0 0 1521,1002 Z" fill="#649c40"/>
<circle cx="1837.4" cy="1072.9" r="106.5" fill="none" stroke="#a3c594" stroke-width="71.4"/>
<path d="M1837.4,930.7 A142.2,142.2 0 0 1 1953.48,1155.03 L1895.2,1113.79 A70.8,70.8 0 0 0 1837.4,1002.1 Z" fill="#649c40"/>
<text x="201.75" y="981.5" font-size="27.5" text-anchor="middle" fill="#fff">5%</text>
<text x="252.95" y="1183.2" font-size="27.5" text-anchor="middle" fill="#fff">95%</text>
<text x="622.4" y="1025.6" font-size="27.5" text-anchor="middle" fill="#fff">32%</text>
<text x="443.45" y="1137" font-size="27.5" text-anchor="middle" fill="#fff">68%</text>
<text x="835.05" y="981.5" font-size="27.5" text-anchor="middle" fill="#fff">4%</text>
<text x="889.15" y="1184" font-size="27.5" text-anchor="middle" fill="#fff">96%</text>
<text x="1295.2" y="1018.2" font-size="27.5" text-anchor="middle" fill="#fff">30%</text>
<text x="1125.1" y="1147.2" font-size="27.5" text-anchor="middle" fill="#fff">70%</text>
<text x="1578.75" y="990.1" font-size="27.5" text-anchor="middle" fill="#fff">17%</text>
<text x="1472.25" y="1172.5" font-size="27.5" text-anchor="middle" fill="#fff">83%</text>
<text x="1928.65" y="1018.3" font-size="27.5" text-anchor="middle" fill="#fff">35%</text>
<text x="1756.15" y="1147.6" font-size="27.5" text-anchor="middle" fill="#fff">65%</text>
<text x="211.6" y="1083.1" font-size="27.5" text-anchor="middle">a</text>
<text x="532.8" y="1083.1" font-size="27.5" text-anchor="middle">b</text>
<text x="845.4" y="1083.1" font-size="27.5" text-anchor="middle">a</text>
<text x="1198.6" y="1083.1" font-size="27.5" text-anchor="middle">a</text>
<text x="1519.1" y="1083.1" font-size="27.5" text-anchor="middle">b</text>
<text x="1837.4" y="1083.1" font-size="27.5" text-anchor="middle">a</text>
<path d="M430,1076.7 C431,1030 462,992 500,980" fill="none" stroke="#efeff1" stroke-width="4.6"/>
<polygon points="518.6,973.9 491.7,967.8 499,994.7" fill="#efeff1"/>
<path d="M490,1173.4 C530,1197 578,1195 610,1155" fill="none" stroke="#efeff1" stroke-width="4.6"/>
<polygon points="622.9,1136.2 597.7,1147.2 619.7,1163.9" fill="#efeff1"/>
<path d="M1420,1049.8 C1424,1010 1448,983 1480,972" fill="none" stroke="#efeff1" stroke-width="4.6"/>
<polygon points="1499.5,966.1 1473.8,958.8 1480,986.2" fill="#efeff1"/>
<path d="M1599.4,1155.3 C1625,1130 1636,1095 1627,1060" fill="none" stroke="#efeff1" stroke-width="4.6"/>
<polygon points="1617,1040.3 1614.6,1068.9 1639.8,1055" fill="#efeff1"/>
<text x="224" y="1272.9" font-size="27.5" text-anchor="middle">W + Water</text>
<text x="449" y="1272.9" font-size="27.5">W + OS <tspan font-style="italic">Hi-1</tspan><tspan font-size="16" dy="-9">+</tspan></text>
<text x="774.5" y="1274" font-size="27.5">W + OS <tspan font-style="italic">Hi-1</tspan><tspan font-size="16" dy="-9">-</tspan></text>
<text x="1206.6" y="1269.5" font-size="27.5" text-anchor="middle">W + Water</text>
<text x="1445" y="1271.6" font-size="27.5">W + OS <tspan font-style="italic">Hi-1</tspan><tspan font-size="16" dy="-9">+</tspan></text>
<text x="1758" y="1270.4" font-size="27.5">W + OS <tspan font-style="italic">Hi-1</tspan><tspan font-size="16" dy="-9">-</tspan></text>
<rect x="331" y="1327.4" width="23.3" height="23.6" fill="#4f88be"/>
<text x="365.5" y="1353.1" font-size="27.5"><tspan font-style="italic">Z</tspan>-3-hexenal</text>
<rect x="576.4" y="1327.4" width="23.3" height="23.6" fill="#99b9e0"/>
<text x="611" y="1353.1" font-size="27.5"><tspan font-style="italic">E</tspan>-2-hexenal</text>
<rect x="1294.2" y="1329" width="23.5" height="23.3" fill="#649c40"/>
<text x="1333.5" y="1353.1" font-size="27.5"><tspan font-style="italic">Z</tspan>-3-hexenol</text>
<rect x="1537.2" y="1329" width="23.5" height="23.3" fill="#a3c594"/>
<text x="1577" y="1353.1" font-size="27.5"><tspan font-style="italic">E</tspan>-2-hexenol</text>
</g>
</svg></body></html>
